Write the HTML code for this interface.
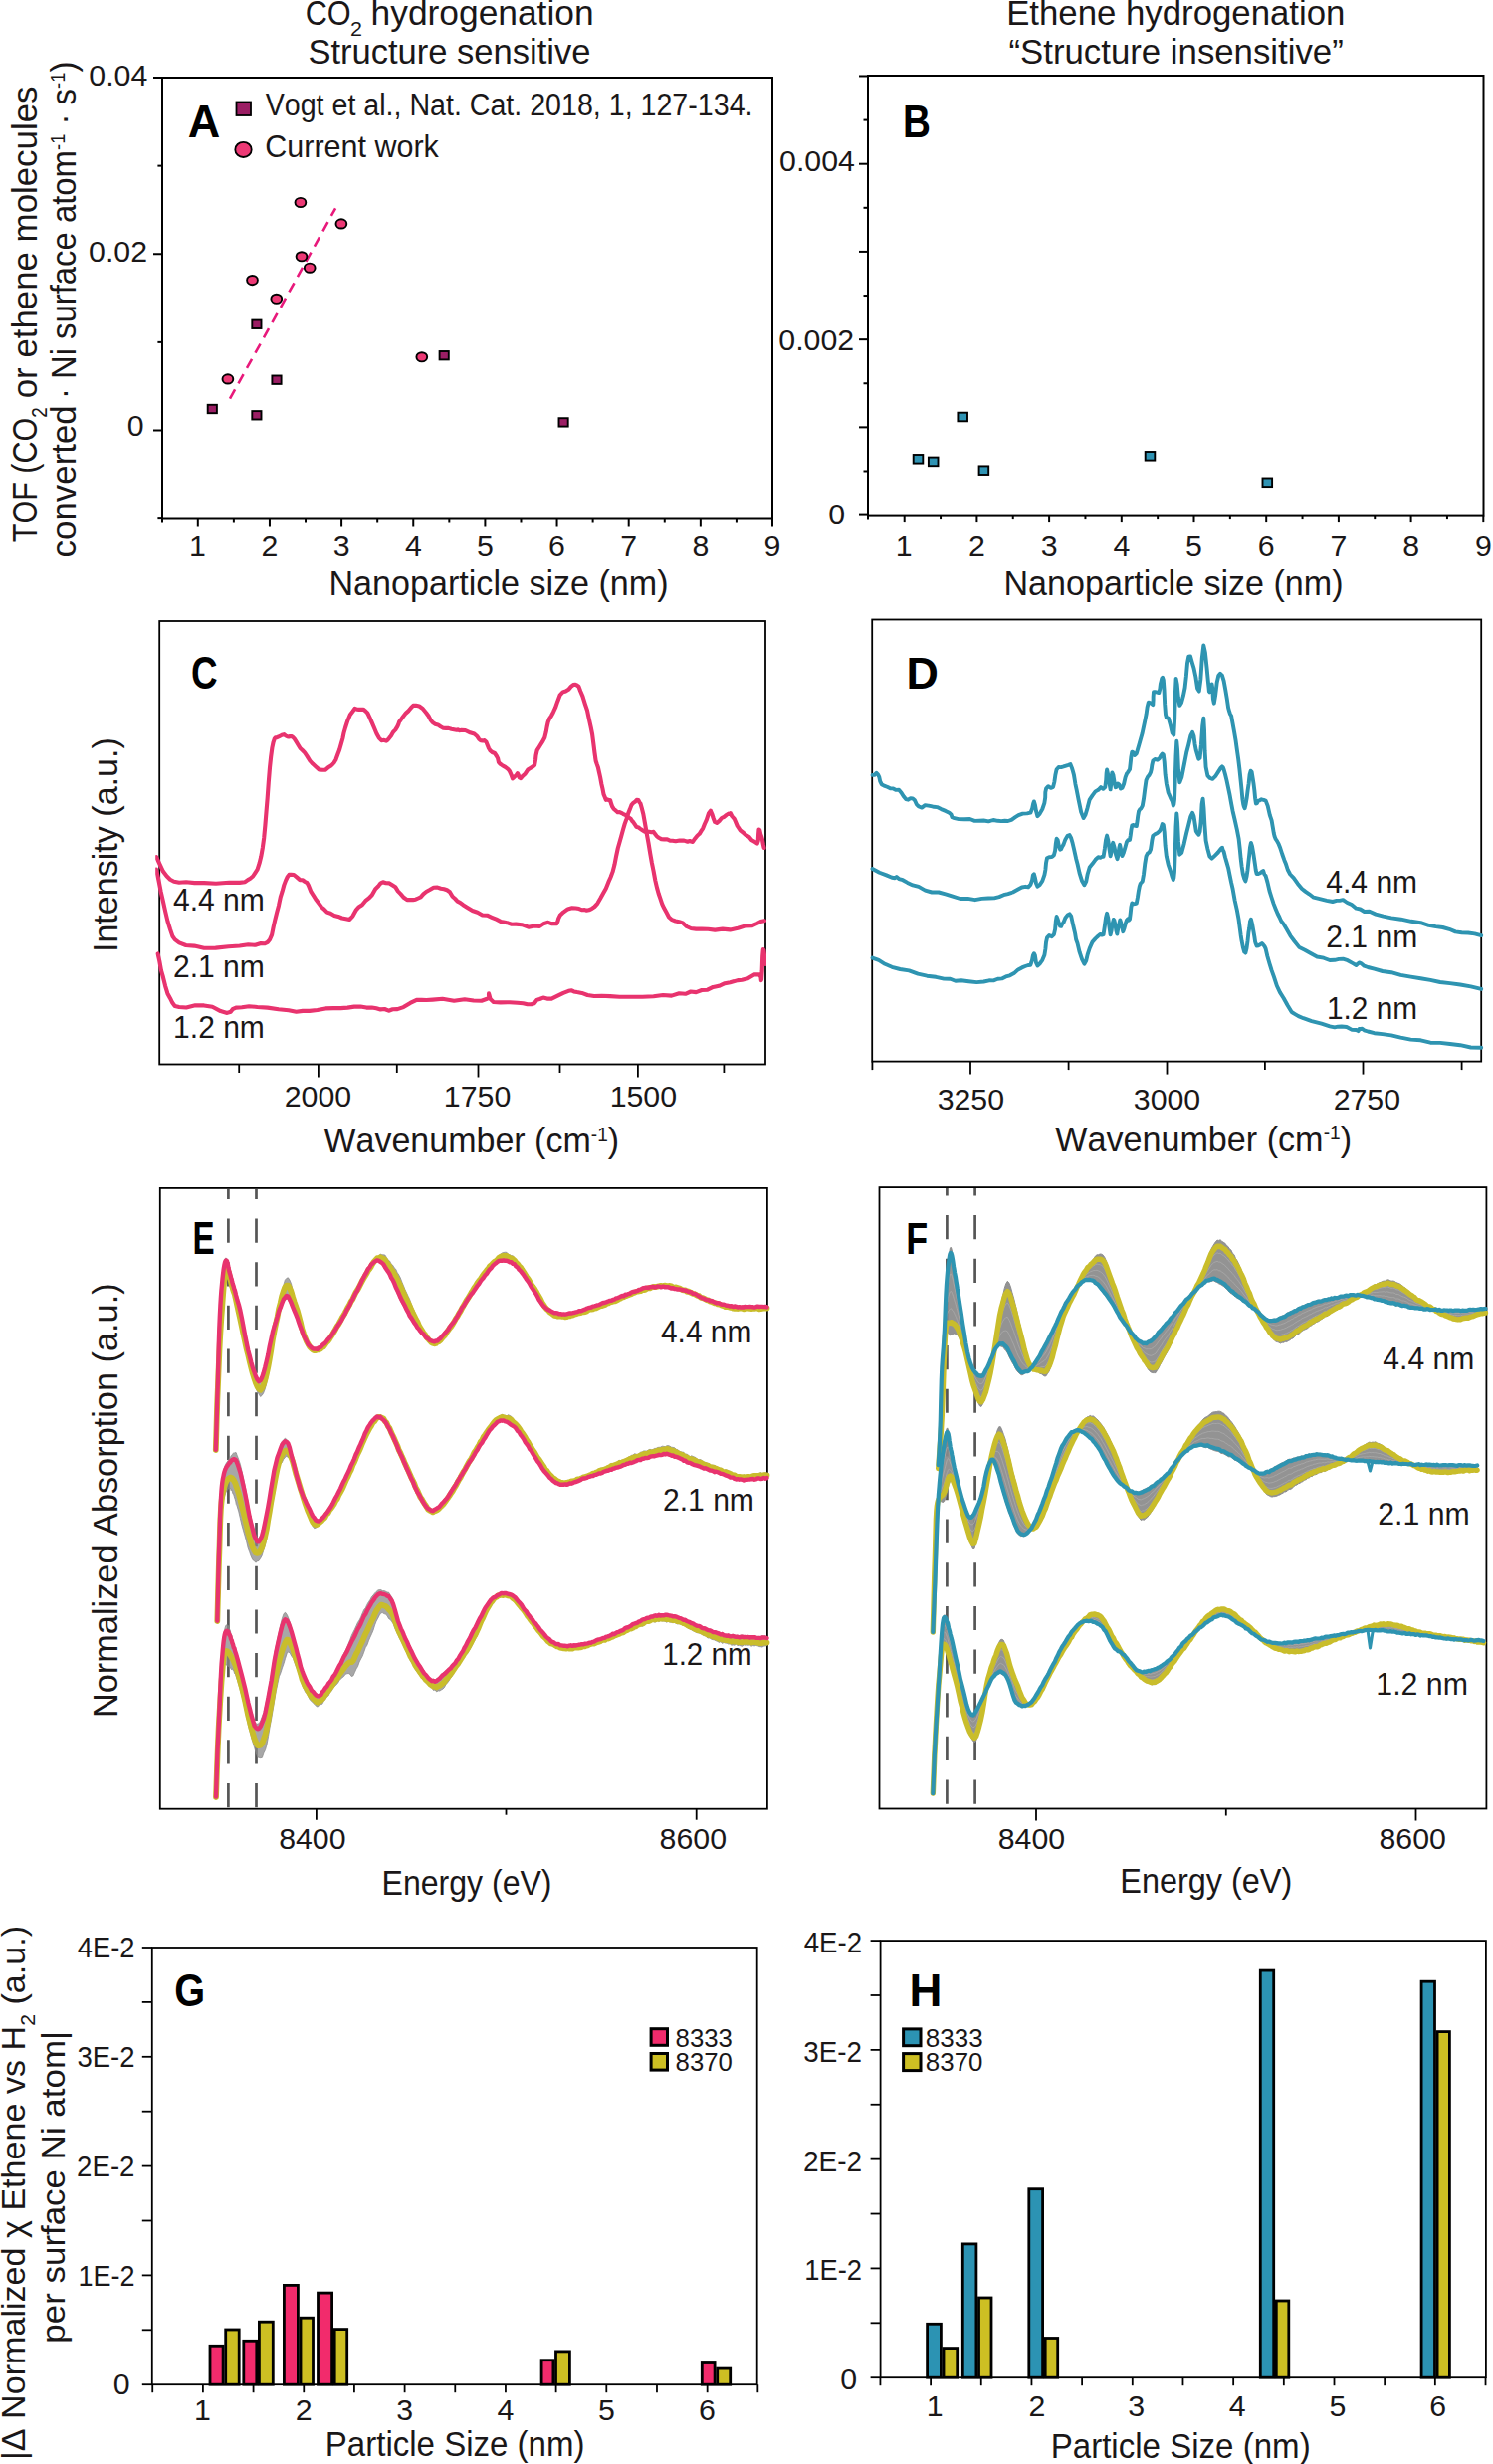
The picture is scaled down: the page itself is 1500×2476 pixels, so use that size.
<!DOCTYPE html>
<html><head><meta charset="utf-8"><style>
html,body{margin:0;padding:0;background:#fff;}
svg{display:block;}
text{font-family:"Liberation Sans",sans-serif;font-kerning:none;white-space:pre;}
</style></head><body>
<svg xml:space="preserve" width="1500" height="2476" viewBox="0 0 1500 2476">
<rect width="1500" height="2476" fill="#fff"/>
<g transform="translate(308.2,25.1) scale(0.8894,1) translate(-1.75,0)" font-weight="normal" fill="#1a1718"><text x="0" y="0" font-size="34.5">CO</text></g>
<g transform="translate(353.2,36) scale(1.0244,1) translate(-1.06,0)" font-weight="normal" fill="#1a1718"><text x="0" y="0" font-size="21">2</text></g>
<g transform="translate(375,25.1) scale(1.0250,1) translate(-2.39,0)" font-weight="normal" fill="#1a1718"><text x="0" y="0" font-size="34.5">hydrogenation</text></g>
<g transform="translate(311,64.2) scale(1.0011,1) translate(-1.57,0)" font-weight="normal" fill="#1a1718"><text x="0" y="0" font-size="34.5">Structure sensitive</text></g>
<g transform="translate(1014,25.1) scale(1.0086,1) translate(-2.83,0)" font-weight="normal" fill="#1a1718"><text x="0" y="0" font-size="34.5">Ethene hydrogenation</text></g>
<g transform="translate(1014.8,64.2) scale(1.0082,1) translate(-1.26,0)" font-weight="normal" fill="#1a1718"><text x="0" y="0" font-size="34.5">“Structure insensitive”</text></g>
<rect x="163" y="78" width="613" height="443.5" fill="none" stroke="#000" stroke-width="2"/>
<line x1="154" y1="78" x2="163" y2="78" stroke="#000" stroke-width="2"/>
<line x1="158.4" y1="166.62" x2="163" y2="166.62" stroke="#000" stroke-width="2"/>
<line x1="154" y1="255.25" x2="163" y2="255.25" stroke="#000" stroke-width="2"/>
<line x1="158.4" y1="343.88" x2="163" y2="343.88" stroke="#000" stroke-width="2"/>
<line x1="154" y1="432.5" x2="163" y2="432.5" stroke="#000" stroke-width="2"/>
<line x1="158.4" y1="521.12" x2="163" y2="521.12" stroke="#000" stroke-width="2"/>
<g transform="translate(90.5,86.2) scale(1.0000,1) translate(-1.18,0)" fill="#1a1718"><text x="0" y="0" font-size="30.3">0.04</text></g>
<g transform="translate(90.23,263.3) scale(1.0000,1) translate(-1.18,0)" fill="#1a1718"><text x="0" y="0" font-size="30.3">0.02</text></g>
<g transform="translate(129.02,437.5) scale(1.0000,1) translate(-1.18,0)" fill="#1a1718"><text x="0" y="0" font-size="30.3">0</text></g>
<line x1="198.8" y1="521.5" x2="198.8" y2="529.5" stroke="#000" stroke-width="2"/>
<line x1="234.88" y1="521.5" x2="234.88" y2="525.5" stroke="#000" stroke-width="2"/>
<line x1="270.95" y1="521.5" x2="270.95" y2="529.5" stroke="#000" stroke-width="2"/>
<line x1="307.03" y1="521.5" x2="307.03" y2="525.5" stroke="#000" stroke-width="2"/>
<line x1="343.1" y1="521.5" x2="343.1" y2="529.5" stroke="#000" stroke-width="2"/>
<line x1="379.18" y1="521.5" x2="379.18" y2="525.5" stroke="#000" stroke-width="2"/>
<line x1="415.25" y1="521.5" x2="415.25" y2="529.5" stroke="#000" stroke-width="2"/>
<line x1="451.33" y1="521.5" x2="451.33" y2="525.5" stroke="#000" stroke-width="2"/>
<line x1="487.4" y1="521.5" x2="487.4" y2="529.5" stroke="#000" stroke-width="2"/>
<line x1="523.48" y1="521.5" x2="523.48" y2="525.5" stroke="#000" stroke-width="2"/>
<line x1="559.55" y1="521.5" x2="559.55" y2="529.5" stroke="#000" stroke-width="2"/>
<line x1="595.62" y1="521.5" x2="595.62" y2="525.5" stroke="#000" stroke-width="2"/>
<line x1="631.7" y1="521.5" x2="631.7" y2="529.5" stroke="#000" stroke-width="2"/>
<line x1="667.78" y1="521.5" x2="667.78" y2="525.5" stroke="#000" stroke-width="2"/>
<line x1="703.85" y1="521.5" x2="703.85" y2="529.5" stroke="#000" stroke-width="2"/>
<line x1="739.92" y1="521.5" x2="739.92" y2="525.5" stroke="#000" stroke-width="2"/>
<line x1="776" y1="521.5" x2="776" y2="529.5" stroke="#000" stroke-width="2"/>
<line x1="163" y1="521.5" x2="163" y2="525.5" stroke="#000" stroke-width="2"/>
<g transform="translate(192.27,558.8) scale(1.0000,1) translate(-2.31,0)" fill="#1a1718"><text x="0" y="0" font-size="30.3">1</text></g>
<g transform="translate(264.05,558.8) scale(1.0000,1) translate(-1.52,0)" fill="#1a1718"><text x="0" y="0" font-size="30.3">2</text></g>
<g transform="translate(335.92,558.8) scale(1.0000,1) translate(-1.15,0)" fill="#1a1718"><text x="0" y="0" font-size="30.3">3</text></g>
<g transform="translate(407.62,558.8) scale(1.0000,1) translate(-0.7,0)" fill="#1a1718"><text x="0" y="0" font-size="30.3">4</text></g>
<g transform="translate(480.22,558.8) scale(1.0000,1) translate(-1.21,0)" fill="#1a1718"><text x="0" y="0" font-size="30.3">5</text></g>
<g transform="translate(552.56,558.8) scale(1.0000,1) translate(-1.54,0)" fill="#1a1718"><text x="0" y="0" font-size="30.3">6</text></g>
<g transform="translate(624.81,558.8) scale(1.0000,1) translate(-1.55,0)" fill="#1a1718"><text x="0" y="0" font-size="30.3">7</text></g>
<g transform="translate(696.74,558.8) scale(1.0000,1) translate(-1.32,0)" fill="#1a1718"><text x="0" y="0" font-size="30.3">8</text></g>
<g transform="translate(769,558.8) scale(1.0000,1) translate(-1.42,0)" fill="#1a1718"><text x="0" y="0" font-size="30.3">9</text></g>
<g transform="translate(333.3,598.2) scale(0.9830,1) translate(-2.85,0)" font-weight="normal" fill="#1a1718"><text x="0" y="0" font-size="34.7">Nanoparticle size (nm)</text></g>
<g transform="translate(37,544.6) rotate(-90) scale(0.8857,1) translate(-0.77,0)" font-weight="normal" fill="#1a1718"><text x="0" y="0" font-size="34.5">TOF (CO</text><text x="141.81" y="9.66" font-size="21.39">2</text></g>
<g transform="translate(37,398.8) rotate(-90) scale(1.0104,1) translate(-1.45,0)" font-weight="normal" fill="#1a1718"><text x="0" y="0" font-size="34.5">or ethene molecules</text></g>
<g transform="translate(76.3,558.9) rotate(-90) scale(1.0107,1) translate(-1.47,0)" font-weight="normal" fill="#1a1718"><text x="0" y="0" font-size="34.5">converted</text></g>
<g transform="translate(76.3,397.2) rotate(-90) scale(0.9524,1) translate(-4.09,0)" font-weight="normal" fill="#1a1718"><text x="0" y="0" font-size="34.5">· Ni surface atom</text><text x="262.66" y="-11.73" font-size="19.32">-1</text><text x="279.84" y="0" font-size="34.5"> · s</text><text x="327.75" y="-11.73" font-size="19.32">-1</text><text x="344.92" y="0" font-size="34.5">)</text></g>
<g transform="translate(189.8,138) scale(0.9739,1) translate(-1.15,0)" font-weight="bold" fill="#000"><text x="0" y="0" font-size="46.22">A</text></g>
<rect x="237.5" y="102.5" width="14.5" height="13.5" fill="#9b1e64" stroke="#000" stroke-width="1.8"/>
<ellipse cx="244.5" cy="150.4" rx="8.2" ry="7.6" fill="#ec3975" stroke="#000" stroke-width="1.8"/>
<g transform="translate(266.8,115.7) scale(0.9355,1) translate(-0.13,0)" font-weight="normal" fill="#1a1718"><text x="0" y="0" font-size="30.6">Vogt et al., Nat. Cat. 2018, 1, 127-134.</text></g>
<g transform="translate(267.8,158.3) scale(0.9975,1) translate(-1.55,0)" font-weight="normal" fill="#1a1718"><text x="0" y="0" font-size="30.6">Current work</text></g>
<line x1="231" y1="400.6" x2="337.1" y2="209.3" stroke="#e8197b" stroke-width="2.6" stroke-dasharray="10.5,7"/>
<ellipse cx="301.9" cy="203.5" rx="5.4" ry="4.6" fill="#ec3975" stroke="#000" stroke-width="1.9"/>
<ellipse cx="342.9" cy="224.9" rx="5.4" ry="4.6" fill="#ec3975" stroke="#000" stroke-width="1.9"/>
<ellipse cx="303" cy="257.8" rx="5.4" ry="4.6" fill="#ec3975" stroke="#000" stroke-width="1.9"/>
<ellipse cx="311.2" cy="269.2" rx="5.4" ry="4.6" fill="#ec3975" stroke="#000" stroke-width="1.9"/>
<ellipse cx="253.5" cy="281.6" rx="5.4" ry="4.6" fill="#ec3975" stroke="#000" stroke-width="1.9"/>
<ellipse cx="277.8" cy="300.3" rx="5.4" ry="4.6" fill="#ec3975" stroke="#000" stroke-width="1.9"/>
<ellipse cx="228.9" cy="380.9" rx="5.4" ry="4.6" fill="#ec3975" stroke="#000" stroke-width="1.9"/>
<ellipse cx="423.8" cy="358.8" rx="5.4" ry="4.6" fill="#ec3975" stroke="#000" stroke-width="1.9"/>
<rect x="253.3" y="321.6" width="9.2" height="8.4" fill="#9b1e64" stroke="#000" stroke-width="1.9"/>
<rect x="273.4" y="377.5" width="9.2" height="8.4" fill="#9b1e64" stroke="#000" stroke-width="1.9"/>
<rect x="208.7" y="406.8" width="9.2" height="8.4" fill="#9b1e64" stroke="#000" stroke-width="1.9"/>
<rect x="253.3" y="413.1" width="9.2" height="8.4" fill="#9b1e64" stroke="#000" stroke-width="1.9"/>
<rect x="441.6" y="353" width="9.2" height="8.4" fill="#9b1e64" stroke="#000" stroke-width="1.9"/>
<rect x="561.5" y="420.2" width="9.2" height="8.4" fill="#9b1e64" stroke="#000" stroke-width="1.9"/>
<rect x="872" y="76" width="618.5" height="442.6" fill="none" stroke="#000" stroke-width="2"/>
<line x1="863" y1="517.6" x2="872" y2="517.6" stroke="#000" stroke-width="2"/>
<line x1="867.5" y1="473.49" x2="872" y2="473.49" stroke="#000" stroke-width="2"/>
<line x1="863" y1="429.38" x2="872" y2="429.38" stroke="#000" stroke-width="2"/>
<line x1="867.5" y1="385.26" x2="872" y2="385.26" stroke="#000" stroke-width="2"/>
<line x1="863" y1="341.15" x2="872" y2="341.15" stroke="#000" stroke-width="2"/>
<line x1="867.5" y1="297.04" x2="872" y2="297.04" stroke="#000" stroke-width="2"/>
<line x1="863" y1="252.92" x2="872" y2="252.92" stroke="#000" stroke-width="2"/>
<line x1="867.5" y1="208.81" x2="872" y2="208.81" stroke="#000" stroke-width="2"/>
<line x1="863" y1="164.7" x2="872" y2="164.7" stroke="#000" stroke-width="2"/>
<line x1="867.5" y1="120.59" x2="872" y2="120.59" stroke="#000" stroke-width="2"/>
<line x1="863" y1="76.47" x2="872" y2="76.47" stroke="#000" stroke-width="2"/>
<line x1="908.7" y1="518.6" x2="908.7" y2="525.1" stroke="#000" stroke-width="2"/>
<line x1="945.05" y1="518.6" x2="945.05" y2="522.1" stroke="#000" stroke-width="2"/>
<line x1="981.4" y1="518.6" x2="981.4" y2="525.1" stroke="#000" stroke-width="2"/>
<line x1="1017.75" y1="518.6" x2="1017.75" y2="522.1" stroke="#000" stroke-width="2"/>
<line x1="1054.1" y1="518.6" x2="1054.1" y2="525.1" stroke="#000" stroke-width="2"/>
<line x1="1090.45" y1="518.6" x2="1090.45" y2="522.1" stroke="#000" stroke-width="2"/>
<line x1="1126.8" y1="518.6" x2="1126.8" y2="525.1" stroke="#000" stroke-width="2"/>
<line x1="1163.15" y1="518.6" x2="1163.15" y2="522.1" stroke="#000" stroke-width="2"/>
<line x1="1199.5" y1="518.6" x2="1199.5" y2="525.1" stroke="#000" stroke-width="2"/>
<line x1="1235.85" y1="518.6" x2="1235.85" y2="522.1" stroke="#000" stroke-width="2"/>
<line x1="1272.2" y1="518.6" x2="1272.2" y2="525.1" stroke="#000" stroke-width="2"/>
<line x1="1308.55" y1="518.6" x2="1308.55" y2="522.1" stroke="#000" stroke-width="2"/>
<line x1="1344.9" y1="518.6" x2="1344.9" y2="525.1" stroke="#000" stroke-width="2"/>
<line x1="1381.25" y1="518.6" x2="1381.25" y2="522.1" stroke="#000" stroke-width="2"/>
<line x1="1417.6" y1="518.6" x2="1417.6" y2="525.1" stroke="#000" stroke-width="2"/>
<line x1="1453.95" y1="518.6" x2="1453.95" y2="522.1" stroke="#000" stroke-width="2"/>
<line x1="1490.3" y1="518.6" x2="1490.3" y2="525.1" stroke="#000" stroke-width="2"/>
<line x1="872" y1="518.6" x2="872" y2="522.6" stroke="#000" stroke-width="2"/>
<g transform="translate(784.25,172.2) scale(1.0000,1) translate(-1.18,0)" fill="#1a1718"><text x="0" y="0" font-size="30.3">0.004</text></g>
<g transform="translate(783.48,351.5) scale(1.0000,1) translate(-1.18,0)" fill="#1a1718"><text x="0" y="0" font-size="30.3">0.002</text></g>
<g transform="translate(833.32,527) scale(1.0000,1) translate(-1.18,0)" fill="#1a1718"><text x="0" y="0" font-size="30.3">0</text></g>
<g transform="translate(902.17,558.8) scale(1.0000,1) translate(-2.31,0)" fill="#1a1718"><text x="0" y="0" font-size="30.3">1</text></g>
<g transform="translate(974.5,558.8) scale(1.0000,1) translate(-1.52,0)" fill="#1a1718"><text x="0" y="0" font-size="30.3">2</text></g>
<g transform="translate(1046.92,558.8) scale(1.0000,1) translate(-1.15,0)" fill="#1a1718"><text x="0" y="0" font-size="30.3">3</text></g>
<g transform="translate(1119.17,558.8) scale(1.0000,1) translate(-0.7,0)" fill="#1a1718"><text x="0" y="0" font-size="30.3">4</text></g>
<g transform="translate(1192.32,558.8) scale(1.0000,1) translate(-1.21,0)" fill="#1a1718"><text x="0" y="0" font-size="30.3">5</text></g>
<g transform="translate(1265.21,558.8) scale(1.0000,1) translate(-1.54,0)" fill="#1a1718"><text x="0" y="0" font-size="30.3">6</text></g>
<g transform="translate(1338.01,558.8) scale(1.0000,1) translate(-1.55,0)" fill="#1a1718"><text x="0" y="0" font-size="30.3">7</text></g>
<g transform="translate(1410.49,558.8) scale(1.0000,1) translate(-1.32,0)" fill="#1a1718"><text x="0" y="0" font-size="30.3">8</text></g>
<g transform="translate(1483.3,558.8) scale(1.0000,1) translate(-1.42,0)" fill="#1a1718"><text x="0" y="0" font-size="30.3">9</text></g>
<g transform="translate(1011.3,598.2) scale(0.9830,1) translate(-2.85,0)" font-weight="normal" fill="#1a1718"><text x="0" y="0" font-size="34.7">Nanoparticle size (nm)</text></g>
<g transform="translate(909.7,138.2) scale(0.8425,1) translate(-3.07,0)" font-weight="bold" fill="#000"><text x="0" y="0" font-size="45.93">B</text></g>
<rect x="917.7" y="457" width="9.6" height="8.6" fill="#2f93b3" stroke="#000" stroke-width="1.9"/>
<rect x="932.9" y="459.6" width="9.6" height="8.6" fill="#2f93b3" stroke="#000" stroke-width="1.9"/>
<rect x="962.4" y="414.7" width="9.6" height="8.6" fill="#2f93b3" stroke="#000" stroke-width="1.9"/>
<rect x="983.6" y="468.4" width="9.6" height="8.6" fill="#2f93b3" stroke="#000" stroke-width="1.9"/>
<rect x="1150.7" y="454" width="9.6" height="8.6" fill="#2f93b3" stroke="#000" stroke-width="1.9"/>
<rect x="1268.5" y="480.5" width="9.6" height="8.6" fill="#2f93b3" stroke="#000" stroke-width="1.9"/>
<rect x="160.2" y="624" width="608.8" height="445.5" fill="none" stroke="#000" stroke-width="1.8"/>
<line x1="240.2" y1="1069.5" x2="240.2" y2="1078" stroke="#000" stroke-width="1.8"/>
<line x1="319.9" y1="1069.5" x2="319.9" y2="1082.5" stroke="#000" stroke-width="1.8"/>
<line x1="398.8" y1="1069.5" x2="398.8" y2="1078" stroke="#000" stroke-width="1.8"/>
<line x1="480.5" y1="1069.5" x2="480.5" y2="1082.5" stroke="#000" stroke-width="1.8"/>
<line x1="562.5" y1="1069.5" x2="562.5" y2="1078" stroke="#000" stroke-width="1.8"/>
<line x1="640.9" y1="1069.5" x2="640.9" y2="1082.5" stroke="#000" stroke-width="1.8"/>
<line x1="727.4" y1="1069.5" x2="727.4" y2="1078" stroke="#000" stroke-width="1.8"/>
<g transform="translate(287.25,1111.7) scale(1.0000,1) translate(-1.52,0)" fill="#1a1718"><text x="0" y="0" font-size="30.3">2000</text></g>
<g transform="translate(448.14,1111.7) scale(1.0000,1) translate(-2.31,0)" fill="#1a1718"><text x="0" y="0" font-size="30.3">1750</text></g>
<g transform="translate(614.94,1111.7) scale(1.0000,1) translate(-2.31,0)" fill="#1a1718"><text x="0" y="0" font-size="30.3">1500</text></g>
<g transform="translate(325.6,1158.4) scale(0.9802,1) translate(-0.15,0)" font-weight="normal" fill="#1a1718"><text x="0" y="0" font-size="34.7">Wavenumber (cm</text><text x="273.8" y="-11.8" font-size="19.43">-1</text><text x="291.08" y="0" font-size="34.7">)</text></g>
<g transform="translate(117.9,953.9) rotate(-90) scale(0.9823,1) translate(-3.2,0)" font-weight="normal" fill="#1a1718"><text x="0" y="0" font-size="34.7">Intensity (a.u.)</text></g>
<g transform="translate(193.4,692.3) scale(0.7900,1) translate(-1.91,0)" font-weight="bold" fill="#000"><text x="0" y="0" font-size="46.66">C</text></g>
<g transform="translate(174.6,914.6) scale(0.9832,1) translate(-0.7,0)" font-weight="normal" fill="#1a1718"><text x="0" y="0" font-size="30.6">4.4 nm</text></g>
<g transform="translate(175.5,981.6) scale(0.9823,1) translate(-1.54,0)" font-weight="normal" fill="#1a1718"><text x="0" y="0" font-size="30.6">2.1 nm</text></g>
<g transform="translate(176.4,1043.2) scale(0.9809,1) translate(-2.33,0)" font-weight="normal" fill="#1a1718"><text x="0" y="0" font-size="30.6">1.2 nm</text></g>
<g clip-path="url(#clipC)">
<path d="M157.1 861.1l3.4 7.2l3.4 7.3l3.6 4.7l3.5 3.4l3.8 2l5.2 1l7 -0.4l8.4 0.8l9.6 0l12 0.7l13.3 -1l10.4 0.1l5.5 -0.7l2.8 -2.1l2.4 -1.3l2.7 -2.3l2.4 -3.7l2.1 -3.1l2 -6.3l1.7 -6.8l1.6 -9l1.3 -9.7l1.2 -12.6l1.1 -13.5l1.2 -14.2l1.1 -15.4l1.2 -14.7l1.2 -11.3l1.2 -8.8l1.2 -5.6l1.1 -3.2l1 -1.3l1.5 -0.1l2.2 -1l2.7 -1.4l2.3 -0.7l1.7 1.4l1.5 0.7l1.4 0.3l1.3 -0.5l1.3 0l1.4 0.6l1.7 1.8l1.9 3l2 3.3l2 3.3l2.2 2l2.3 2.4l2.5 3.7l2.7 4.4l2.8 3.1l3.2 2.9l3.3 2.9l3.2 0.4l2.9 0l2.7 -2.2l2.4 -1.5l2 -1.6l1.8 -2l1.8 -3l1.9 -5.2l1.9 -5.1l1.8 -6.3l1.4 -4.9l1.2 -5.8l1.5 -5.2l2.2 -6.8l2.5 -5.9l2.5 -3.3l2.2 -3.1l2.1 0.8l2.1 0.2l2.2 0l2.1 -0.2l2.2 1.7l2.1 2.1l2.1 4.3l2.2 5l2.3 5.5l2.5 5.9l2.4 4.4l2.5 2.6l2.5 -0.4l2.3 0.9l1.7 -1.4l1.5 -1.9l1.6 -1.9l2.1 -3.8l2.3 -2.3l2 -3.3l1.1 -2.5l0.8 -2.4l1.3 -1.6l2.4 -3.3l2.9 -3.7l2.8 -2.5l2.3 -2.9l2.3 -2.3l2.6 -0.2l3.4 0.8l3.7 2.7l3.3 4l2.4 3.3l2 3.9l2.1 2.7l2.6 1.6l2.7 0.7l2.7 1.9l2.7 1.5l2.6 0.1l2.7 0l2.8 0.8l2.8 0.5l2.5 0.5l1.5 -0.4l1.2 0.9l2.1 -0.4l3.9 0.2l4.9 2.3l4.1 1.2l2.6 2.2l2 3l1.8 1.5l2 0.2l1.9 -0.3l1.7 1.7l1.4 3.4l1.1 2.8l1.5 2.4l2.1 1.6l2.4 1l2 3l1.1 2.1l0.8 3.8l1.3 1.6l2.4 1.7l3 1.7l2.6 1.9l1.8 2.3l1.5 3.4l1.5 3.9l1.7 -1.7l1.7 -1.3l1.5 -2.3l1 2.1l0.9 2.3l1.3 0.6l2.1 -2.4l2.5 -2.3l2.5 -3.8l2.5 -1.5l2.4 -1.5l2 -1.7l1 -5.6l0.4 -4l1.1 -5.1l2.3 -3.7l3 -4.8l2.4 -4.5l1.4 -5.6l0.9 -5.1l1.1 -5l1.5 -3.6l1.8 -2.6l1.9 -3.6l2.1 -4.5l2.2 -6.3l2.5 -6.6l2.8 -2.9l2.9 -0.9l2.8 -1.7l2.5 -2.9l2.3 -1.8l2.1 -0.3l1.8 0.9l1.5 1l1.8 4.8l2.2 5.1l2.4 7.7l2.2 6.6l1.9 9l1.7 7.6l1.5 7.5l1.3 10l1.1 8.7l1.1 7.8l1.1 3.4l1.2 3.3l1.1 5.1l1.1 4.8l1.2 6.6l1.1 4.7l1.1 5.7l1.1 2.6l1.2 3.1l1.4 -0.4l1.5 0.7l1.4 0l1.1 4l1 2.6l1.3 2l1.8 1.6l2.2 1.9l2 -0.1l1.7 0.8l1.7 0.9l1.7 0.8l2 1.3l2.1 1.6l1.9 1.2l1.5 2.3l1.3 1.3l1.4 2.1l1.6 2.5l1.7 0.3l1.9 1.4l2.1 1.4l2.4 1.6l2.3 0l2.3 0.1l2.4 0.5l2.1 -0.3l1.7 2.3l1.6 2.2l1.9 1.3l2.6 1.4l2.9 0.3l3 0l2.7 1.2l2.7 0.1l3.1 0.6l4 -0.8l4.4 0.1l3.6 1.1l2.1 -0.7l1.4 0.5l1.6 0.4l2.2 -3.2l2.4 -3l2.2 -1.9l1.8 -2.9l1.7 -2.6l1.7 -4.3l2 -4.4l2.1 -6.4l1.9 -2.5l1.4 3.3l1.3 4l1.5 3.9l2.1 1l2.4 -2l2.4 -2.9l2.4 -1.2l2.4 -1.9l2 -1.3l1.2 0.4l0.8 -0.9l1.4 2.9l2.5 2.8l3 7.1l3 4.4l2.9 2.4l2.8 2.4l2.9 1.6l3.1 3.6l3.1 1.8l2.3 1.5l1 -3.1l0.3 -6l0.4 -5l0.8 0.6l0.9 4.1l0.9 2.3l0.8 2.9l0.9 5l0.8 3.5" fill="none" stroke="#e8336e" stroke-width="4.1" stroke-linejoin="round" stroke-linecap="round"/>
<path d="M157.1 873.6l2.3 10.7l2.2 11.4l2.3 10l2.3 10.4l2.3 9.8l2.5 8l2.3 6.8l2.4 3.4l4.3 3.2l6.8 2.7l8.5 0.6l9.7 2.2l11.6 -0.2l12.9 -1.4l11.2 -0.7l8.7 -1.3l7 0.6l5.7 -1.8l4 0.3l2.7 -1.4l2.2 -2.7l2.1 -4.8l1.6 -8l1.7 -7.5l1.8 -7.1l1.8 -6.9l1.8 -8.5l1.8 -5.7l1.7 -6.3l1.8 -4.8l1.7 -3.6l1.6 -2.1l2.1 -0.2l2.7 0.3l3.2 2.6l2.9 2.5l2.6 0.2l2.5 1.7l2.1 1.1l1.4 2.6l1.1 2.8l1.5 3.7l2.4 3.7l2.8 4.4l2.8 3.7l2.6 3.5l2.6 2.1l2.9 3l3.5 1.1l3.8 2.2l3.9 1l3.8 1.6l3.9 0.7l3.6 0.8l3.3 -3.4l3.2 -5.9l3.1 -3.5l3.2 -2l3.3 -4l3.2 -2.5l3.4 -3.4l3.4 -6.1l2.8 -2.6l1.8 -2.5l1.2 -1l1.8 -0.8l2.9 1l3.5 0.1l3.3 2.1l2.7 1.7l2.6 4.2l2.7 2.8l3.2 3.6l3.3 2.3l3.2 -0.1l2.8 0.1l2.6 -0.4l2.6 -1.2l2.5 -1.1l2.6 -3l2.9 -2.4l3.6 -2l3.9 -2.3l3.8 -0.1l3.4 1.2l3.2 0.5l3 1l2.8 1.9l2.7 4.6l2.6 2.2l2.4 2.6l2.5 1.2l3.1 2.4l4.4 2.7l5 3.1l5.1 1.7l4.9 2.8l4.8 0.2l4.7 2.1l4.5 1.9l4.3 2.2l4.1 0.9l3.6 0.8l3.4 1.2l4.3 -0.2l5.9 0.6l6.7 2.5l6.2 -1.3l5.1 0.5l4.5 -3l4 -1.1l3.4 1.3l2.9 -0.1l2.3 0.3l1.2 -2.8l0.6 -2.3l1.6 -3.4l3.4 -3.2l4.4 -3.2l4.2 -1.1l3.7 0.2l3.4 0.6l3.1 1.2l2.5 -0.2l2 0.7l2.3 -0.5l2.7 -1.2l3 -2.1l2.9 -3.2l2.9 -5l2.9 -5.3l2.7 -4.8l2.5 -6.3l2.2 -4.9l2.1 -5.6l1.9 -7.3l1.6 -8.4l1.7 -7.9l1.7 -6l1.7 -6.1l1.7 -6.2l1.7 -5.8l1.7 -4.9l1.7 -5.5l1.7 -4.2l1.7 -4.5l1.7 -2.2l1.8 -1.1l1.8 -2l1.6 0.3l1.2 2.2l1 1.2l1.2 4.3l1.6 6.2l1.7 9.3l1.8 10.5l1.7 9.3l1.7 10.4l1.7 9.7l1.7 8.1l1.7 9.3l1.7 7.3l1.7 6.1l1.6 4.6l1.9 5.7l2 4.3l2.2 4l2.6 4.9l3.1 2.7l3.5 1.3l3.7 0.8l3.7 1.1l3.8 3.6l4.4 2l5.1 0.6l5.7 -0.1l6.3 0.2l7 0.9l7.6 -1l7.6 0.8l7.8 -1.6l7.7 -2.4l6.7 -0.2l4.8 -2.2l3.8 -2l3.7 -0.7" fill="none" stroke="#e8336e" stroke-width="4.1" stroke-linejoin="round" stroke-linecap="round"/>
<path d="M158.6 958.4l1.7 7.5l1.7 9.4l1.9 6.6l2.2 8.9l2.3 7.6l2.6 4.8l2.3 4.6l2.4 3.2l4.3 1l7.2 0.5l9 -2.2l8.8 0.1l8.4 1.4l8.2 4.3l6.6 1.8l3.6 -1.2l1.9 -2.5l3.4 -1.6l5.9 -0.3l7.2 -1.1l8.4 0.8l10.1 0.6l11.2 1.6l10.1 1.1l7.6 1.5l6.5 -0.9l6.8 0l7.9 -0.9l8.3 -1.6l7.9 -0.3l7.3 0l7 -0.5l6.6 -1l6.3 -0.1l6 1.1l5.4 -0.1l4.6 0.8l4.1 1.1l4.1 -0.4l4.1 1.7l4 -1.4l4.8 -0.2l6.1 -2l6.8 -4.2l6.4 -3l5 -0.2l4.7 0.3l6.4 -0.4l9.9 -0.8l11.6 1.9l10.6 -1.4l9 1.2l7.9 0.3l5.6 -2l2 -1.3l-0.3 -2.2l0 -1.9l0.7 2.3l0.9 3.4l3.2 2.9l7 0.4l9.2 -0.2l8 0.6l5.5 0.5l4.4 1l3.8 0l3.1 -1.1l2.5 -3.3l2.9 -0.9l3.6 -1.4l3.9 1l4.5 0l5.6 -2.7l6.2 -3.1l5.2 -2l3.2 -0.5l2.2 1.1l3.2 0.7l4.8 0.8l5.7 2.1l6.6 1l7.6 -0.3l8.5 0.4l9.5 0.6l11 0.1l12 0l11.1 -0.5l9.5 -1.3l8.6 0.6l7.6 -2.3l6.3 0.5l5.3 -2.3l5.4 0.6l5.7 -2.1l5.7 -0.3l5.7 -2.8l5.9 -1.1l5.9 -2.6l5.3 -1l4.2 -1.1l3.5 -1l4.2 -0.4l5.9 -1.5l6.4 -3.8l4.8 -0.2l2 2.5l0.3 3.4l0.3 -1.2l0.6 -8.2l0.5 -14.5l0.6 -7.1l0.7 1.1l0.7 6.2l0.8 7.5" fill="none" stroke="#e8336e" stroke-width="4.1" stroke-linejoin="round" stroke-linecap="round"/>
</g>
<clipPath id="clipC"><rect x="156.2" y="624" width="613.8" height="445.5"/></clipPath>
<rect x="876.2" y="622.5" width="612" height="444.1" fill="none" stroke="#000" stroke-width="1.8"/>
<line x1="876.4" y1="1066.6" x2="876.4" y2="1075.1" stroke="#000" stroke-width="1.8"/>
<line x1="975" y1="1066.6" x2="975" y2="1079.6" stroke="#000" stroke-width="1.8"/>
<line x1="1073.6" y1="1066.6" x2="1073.6" y2="1075.1" stroke="#000" stroke-width="1.8"/>
<line x1="1172.5" y1="1066.6" x2="1172.5" y2="1079.6" stroke="#000" stroke-width="1.8"/>
<line x1="1270.9" y1="1066.6" x2="1270.9" y2="1075.1" stroke="#000" stroke-width="1.8"/>
<line x1="1369.5" y1="1066.6" x2="1369.5" y2="1079.6" stroke="#000" stroke-width="1.8"/>
<line x1="1468.6" y1="1066.6" x2="1468.6" y2="1075.1" stroke="#000" stroke-width="1.8"/>
<g transform="translate(942.82,1114.7) scale(1.0000,1) translate(-1.15,0)" fill="#1a1718"><text x="0" y="0" font-size="30.3">3250</text></g>
<g transform="translate(1139.97,1114.7) scale(1.0000,1) translate(-1.15,0)" fill="#1a1718"><text x="0" y="0" font-size="30.3">3000</text></g>
<g transform="translate(1341.15,1114.7) scale(1.0000,1) translate(-1.52,0)" fill="#1a1718"><text x="0" y="0" font-size="30.3">2750</text></g>
<g transform="translate(1060.4,1156.6) scale(0.9839,1) translate(-0.15,0)" font-weight="normal" fill="#1a1718"><text x="0" y="0" font-size="34.7">Wavenumber (cm</text><text x="273.8" y="-11.8" font-size="19.43">-1</text><text x="291.08" y="0" font-size="34.7">)</text></g>
<g transform="translate(913.5,691.8) scale(1.0016,1) translate(-2.99,0)" font-weight="bold" fill="#000"><text x="0" y="0" font-size="44.77">D</text></g>
<g transform="translate(1333,896.6) scale(0.9821,1) translate(-0.7,0)" font-weight="normal" fill="#1a1718"><text x="0" y="0" font-size="30.6">4.4 nm</text></g>
<g transform="translate(1333.8,951.9) scale(0.9823,1) translate(-1.54,0)" font-weight="normal" fill="#1a1718"><text x="0" y="0" font-size="30.6">2.1 nm</text></g>
<g transform="translate(1335.3,1024.1) scale(0.9742,1) translate(-2.33,0)" font-weight="normal" fill="#1a1718"><text x="0" y="0" font-size="30.6">1.2 nm</text></g>
<path d="M876.5 778.9l2 0l2 -2.2l1.7 1.9l1.1 2.2l0.9 4.3l1.5 3.1l2.5 1.4l3.1 1.2l3.1 1.5l3 0.1l2.9 1.5l2.8 -0.1l2.5 2.9l2.2 3.6l2.3 2.8l2.3 0.6l2.4 -1.5l2.2 0.2l2 1.8l1.8 4.1l2.3 2.2l3 1.1l3.3 -2.5l3.3 0.5l2.8 0.6l2.8 0.6l3.1 0.3l4.1 2l4.4 1.8l3.7 1.8l1.9 1.7l1 2.9l2.3 0.9l4.5 0.9l5.7 0.2l5.5 -0.3l4.8 1.9l4.5 -0.2l4.6 -0.2l4.8 0.9l4.8 -1.4l4.4 0.8l3.7 0.3l3.4 -0.3l3.3 0.2l3.4 -1.1l3.5 -2.5l3.6 -2.3l4.2 -1.5l4.4 -0.2l3.5 -0.7l1.8 -4.6l0.9 -4.5l0.8 -2.2l1 3.3l1.1 6.4l1.4 5.1l2.3 -2.6l2.6 -4.6l2.1 -6.2l0.8 -5.4l0.1 -5.2l0.8 -3.9l2.1 -2.1l2.6 1.7l2.3 -1l1.3 -5.3l0.9 -6.4l1.3 -6l2 -2.2l2.5 0.1l2.4 -0.7l2.5 -0.8l2.4 -0.7l2.1 -0.8l1.5 3.8l1 3.3l1 3.9l0.8 4.9l0.6 3.8l1.2 5.6l2 10.3l2.6 12.4l2.4 6l2 -3.6l1.9 -6.4l2.2 -8.5l2.8 -4.2l3 -4l2.9 -1.6l2.6 -2.7l2.4 1.7l1.9 -1.7l0.9 -7l0.4 -7.1l0.5 -3.6l1.1 5.1l1.3 8.1l1.1 6.8l0.6 -4.9l0.5 -7l0.6 -5.1l1.1 2.4l1.3 8.1l1.1 4.3l0.7 -0.3l0.6 -1.8l0.9 -1.6l1.3 0.8l1.6 4.3l1.6 -0.9l1.6 -4l1.5 -6.6l1.4 -3.6l1.1 -1.4l1 -1.6l0.9 -1.3l0.7 -6.2l0.7 -6.5l0.9 -4.8l1.2 0.4l1.4 2.9l1.9 -1.7l2.6 -9.1l3.1 -10.9l2.5 -11.6l1.6 -8l1 -7.2l1.2 -4.8l1.6 0.4l1.7 0.9l1.2 1.2l0.3 -5.1l0 -3l0.4 -5l1.5 0l2.1 0.5l1.7 0.5l1 -3.8l0.6 -5l0.6 -2.4l0.8 -3.4l0.7 -0.8l0.8 2.6l0.7 9.4l0.7 15.2l0.8 10.1l0.9 3.3l0.9 -0.1l1.2 0.5l1.7 6.2l2 8.7l1.6 2l0.9 -16.4l0.6 -24.3l0.8 -16l1.1 5.8l1.2 13.4l1.4 7.8l1.7 -2.6l1.9 -7l1.7 -8.3l1.3 -11.8l1.1 -12.9l1.3 -6.6l1.7 -0.3l1.8 6.3l1.8 6.1l1.8 8.6l1.7 11.4l1.7 2.8l1.6 -12.4l1.4 -21.2l1.5 -12.6l1.6 7.3l1.6 14.8l1.3 13.8l0.7 6.4l0.4 4l0.4 0.7l0.7 -1.4l0.8 -5.2l0.8 -1.3l0.7 4.5l0.6 10.4l0.9 4.3l1.3 -7.8l1.6 -13.1l1.6 -7l1.7 -2l1.9 1.9l1.7 5.5l1.6 8.7l1.5 8.9l1.4 9.4l1.1 4l0.8 2.3l1.1 1.7l1.4 7.6l1.6 8.9l1.5 8.7l1.3 9.5l1.3 9.2l1.2 9.8l1.1 10.6l1 9.9l0.9 9.9l0.8 4.9l0.6 2.2l0.8 1.9l0.9 -3.7l1.1 -6.4l1 -8l1 -6.7l1 -9.2l1 -3.6l1 0.9l1.1 6.6l0.9 6.1l0.8 6.4l0.7 7.5l0.8 5.3l1 -0.4l1.2 -2.5l1.5 -0.3l1.8 -1l2.1 0.5l2.1 0.7l2.1 5.4l2.1 9.2l1.8 5.3l1.2 7l0.9 5.4l0.9 3.8l1.1 2.6l1.2 1.6l1.5 2.8l1.8 4.4l2.1 6.5l2 5.7l1.7 4.1l1.8 5.7l2.4 4.5l3.5 3.6l4.1 5.8l4.2 5.1l3.7 2.9l3.6 2.4l4.5 3.4l6.1 1.4l7 1.7l6 1.2l4 -1.1l3 0l3.4 -0.7l4.2 2.8l4.5 2.1l4.5 3.6l4.1 0.8l4.1 2.5l5.1 -0.2l6.4 2.8l7.5 2l8.2 1.8l9.6 1.3l10.3 2.1l9.6 1.4l8 2.7l7.2 1.2l6.9 0.9l6.6 1.8l6.2 2.6l6.3 0.9l6.5 0.2l6.5 0.9l6.6 1.7" fill="none" stroke="#2e94b1" stroke-width="3.9" stroke-linejoin="round" stroke-linecap="round"/>
<path d="M876.5 873l7 3.7l7 2.7l5.6 2.4l3 0.4l1.6 -1.1l2.4 2l3.9 1.1l4.7 2.7l5.3 2.5l5.9 1.5l6.6 3.7l6.7 1.9l6.8 0l6.9 1.9l7.2 2.2l7.5 2.4l7.8 -0.1l7.3 1.3l6.8 -1.3l6.5 -0.4l5.9 -0.1l5 -1.3l4.5 -1.9l4.4 -1.1l4.8 -1.6l4.9 -2.7l4.2 -2.3l3.5 -0.7l2.9 0.6l2.3 -2.5l1.6 -4.4l0.9 -5.1l1 -1.1l1 3.6l1.1 5.6l1.4 3.1l2.2 -1.5l2.7 -3.9l2.1 -6l1 -5.4l0.6 -6.6l1 -5l2.1 -1l2.7 -0.1l2.1 -1.9l1.2 -4.4l0.7 -7l0.8 -5l1.1 1.2l1.2 6.4l1.2 3.3l1 -0.4l1.1 -2.6l1.3 -2.1l1.9 -5.2l2.2 -3.6l2 -0.7l1.6 3.1l1.5 5.4l1.3 5.5l1.1 5l1 4.6l1.4 5.3l2.1 9.4l2.5 7.9l2.3 3.9l1.8 -3.3l1.5 -7.7l2 -6.7l2.8 -3.4l3.1 -4.3l2.8 -2.6l2.1 0.6l1.6 -1l1.5 0l1.3 -8.2l1.1 -8.4l1.1 -4.6l1.2 4.9l1.2 8.5l1.1 7.2l0.9 -3.4l0.7 -7l1 -3l1.4 4.8l1.5 7.3l1.4 4.3l1 -3.9l0.8 -7.2l0.8 -3.3l0.7 3.4l0.8 3.9l0.9 3.9l1.4 -3.2l1.6 -5.5l1.5 -5.5l1.1 -1.5l1 -0.1l0.9 -0.3l0.7 -4.2l0.7 -5.5l0.9 -4.9l1.4 -0.3l1.7 0.9l1.4 0.2l0.8 -5.2l0.6 -4.9l0.8 -4.7l1.2 -2l1.3 -1.1l1.3 -2.5l1.2 -7l1.2 -9.5l1.3 -9.2l1.5 -3.3l1.6 -1.8l1.4 -2.8l0.8 -3.4l0.5 -3.7l1 -4.4l2 -1.6l2.5 0.7l2.2 -1.8l1.5 -3l1.2 -1.4l1.1 0.9l0.9 7.1l0.9 12.8l1.2 9.3l1.9 8.9l2.3 5.3l1.8 3.7l1 4.1l0.6 -1.4l0.6 -4.8l0.7 -19.5l0.8 -24.1l0.8 -15l0.8 9l0.9 20.2l1.3 12.3l2 -5.3l2.5 -12.5l2.3 -11.9l2.1 -8.2l2.1 -9l1.8 -3.6l1.4 3.9l1.1 8.4l1.2 6.2l1.3 4.4l1.2 4.1l1.3 -1.1l1.3 -13.2l1.3 -18.7l1.1 -8.1l0.7 11.4l0.6 21.6l1 16.2l1.8 8.7l2.4 2.4l2.5 0.9l2.8 -2.7l3.1 -4.8l2.4 -3.8l1.3 -1.3l0.8 0.8l0.9 2.2l1.4 5l1.5 6.1l1.6 7.4l1.4 6.7l1.5 8.4l1.6 8.3l2 8.6l2.2 9.8l1.8 9.3l1.2 10.8l0.9 9.4l0.9 7.4l1.2 7.6l1.4 4.9l1.2 2.4l1.1 -4.5l1 -6.6l0.9 -8.4l0.8 -6.8l0.8 -7.8l0.9 -4.4l1.1 3.5l1.3 7.4l1.1 7.2l0.7 4.8l0.6 4.4l0.9 3.8l1.6 0.1l1.9 -0.9l1.8 -1.5l1.3 -0.6l1.1 3.4l1.3 1.5l1.8 6.4l2.1 9l2.1 6.6l2 6.1l2 5.1l2 4.8l1.8 3.5l1.8 4l2.4 3l3.1 5.2l3.7 6.6l4.2 5.7l4.9 6.1l5.5 2.7l5.8 3.2l6.4 3.5l6.7 1.2l6.1 2.3l4.9 -0.2l4.2 -0.9l4.2 -0.2l4.7 1.5l4.8 2.7l3.7 2.1l2 -1.7l1 -0.9l1.4 0.4l1.6 1.2l2 1.7l3.8 1.3l6.4 1.7l8.3 2.3l8.9 1.2l9.4 2.7l10.1 1.7l10 1.6l9.7 1.6l9.8 2.2l9.9 1.1l10.3 1.4l10.6 1.9l10.5 2.5" fill="none" stroke="#2e94b1" stroke-width="3.9" stroke-linejoin="round" stroke-linecap="round"/>
<path d="M876.5 962.6l6.3 2.2l6.3 4l7 3l8.2 2.2l9 1.4l8.9 3.3l9.1 2l9 1.1l8.1 1.8l6.3 0.2l5.2 2l5.9 -0.6l7.5 1l8 0.9l7.1 -0.6l5.4 -1.2l4.4 0.1l4.2 -1.6l4.2 -0.4l4 -2l4 -1.1l4.2 -2.2l4.1 -3.7l3.8 -2l3.3 -1.4l3 -1l2.4 -0.3l1.6 -4.8l0.9 -4.8l1 -1.9l1 2l1.1 7.3l1.4 3l2.2 -2l2.7 -3.7l2.1 -5l1 -6.3l0.6 -6.5l1 -4.6l2.1 -2.4l2.7 1.2l2.1 -2.1l1.2 -5.2l0.7 -8.1l0.8 -4.8l1.1 2.7l1.2 4.2l1.2 2.8l1 0.2l1.1 -2.5l1.3 -1.4l1.9 -4.8l2.2 -2.7l2 -1.2l1.6 2.4l1.5 6.9l1.3 5.6l1.1 4.7l1 6.1l1.4 3.9l2.1 8.8l2.5 7.5l2.3 4.5l1.8 -3.2l1.5 -6.4l2 -6.1l2.8 -6.4l3.1 -3.5l2.8 -2.6l2.1 -1.6l1.6 0.7l1.5 -0.4l1.3 -8.8l1.1 -8.2l1.1 -4.4l1.2 5l1.2 8.6l1.1 7.8l1 -3.9l0.8 -5.8l0.8 -3.3l0.6 -2.2l0.6 0.7l0.6 2.4l0.7 3.4l0.8 5.1l0.8 3l0.9 -5.2l1.1 -4.6l1 -4.3l1 2.8l0.9 4.2l1.1 4.7l1.2 -3.4l1.3 -4.9l1.2 -3.4l1.1 -1.2l1 1.4l0.9 -1.2l0.7 -5.6l0.7 -6.4l0.9 -4l1.4 0.7l1.6 -0.1l1.5 -0.4l1.1 -5.8l1 -6.6l0.9 -4.7l1 -2.9l0.9 -1l1.1 -1.3l1.2 -6.8l1.2 -10.2l1.3 -8l1.5 -3l1.6 -0.8l1.4 -3l0.8 -5.2l0.5 -3.7l1 -5l2 -1.5l2.5 -1.3l2.2 -1.8l1.5 -3.1l1.2 -4l1.1 1l0.9 7l0.9 13.8l1.2 10.6l1.9 8.4l2.3 6.7l1.8 6.1l1 2.5l0.6 -2.2l0.6 -6.2l0.7 -19.7l0.8 -25.2l0.8 -13.3l0.8 9.2l0.9 19.2l1.3 12.8l2 -1.9l2.5 -9.4l2.3 -10.2l2.1 -8.3l2.1 -8.3l1.8 -3.8l1.4 3.5l1.1 7.1l1.2 7.7l1.3 2.1l1.3 1.6l1.2 -3.2l1.1 -10.8l0.9 -16.6l1 -5.6l0.9 9.7l0.9 16.4l1.2 15.9l1.7 8.1l2 7.6l2.3 2.4l3 -2.9l3.3 -3.3l2.7 -3.5l1.4 -1.3l0.7 2.5l0.9 1.6l1.4 5.7l1.5 5.1l1.6 5.6l1.4 6.9l1.5 7.3l1.6 6.9l2 11.3l2.2 9.8l1.8 9.8l1.2 9l0.9 6.9l0.9 5.6l1.2 5.9l1.4 5l1.2 1l1.1 -4.5l1 -7.3l0.9 -8.7l0.8 -4.5l0.8 -6.9l0.9 -2l1.1 4.5l1.3 7.1l1.1 6.3l0.7 4.9l0.6 1.8l0.9 2.3l1.6 -0.3l1.9 -1.1l1.8 -1.2l1.3 1.4l1.1 1.3l1.3 2.7l1.7 7.4l2 6.9l2.3 7.4l2.5 7l2.7 8.4l3.1 6.6l3.7 5.9l4 7.3l4.1 6.7l3.4 2.1l3.4 2l5 2.1l8.3 2.9l9.9 2.6l8.3 2.7l4.9 1l3.3 -0.7l3.6 -0.2l5.1 0.5l5.4 2.9l4.2 0.1l2.1 1.1l1 -2.2l1.3 0.1l1.6 -0.2l2 1.5l3.8 1.2l6.4 1.7l8.3 0.9l8.9 1.3l9.4 2.3l10.1 1.9l10 0.7l9.7 2.4l9.8 0.2l9.9 1.1l10.3 1.2l10.6 2.3l10.5 0.3" fill="none" stroke="#2e94b1" stroke-width="3.9" stroke-linejoin="round" stroke-linecap="round"/>
<rect x="160.8" y="1193.9" width="610.1" height="623.8" fill="none" stroke="#000" stroke-width="1.8"/>
<line x1="317.9" y1="1817.7" x2="317.9" y2="1828.7" stroke="#000" stroke-width="1.8"/>
<line x1="508.5" y1="1817.7" x2="508.5" y2="1823.7" stroke="#000" stroke-width="1.8"/>
<line x1="699.7" y1="1817.7" x2="699.7" y2="1828.7" stroke="#000" stroke-width="1.8"/>
<g transform="translate(281.45,1857.6) scale(1.0000,1) translate(-1.32,0)" fill="#1a1718"><text x="0" y="0" font-size="30.3">8400</text></g>
<g transform="translate(663.9,1857.6) scale(1.0000,1) translate(-1.32,0)" fill="#1a1718"><text x="0" y="0" font-size="30.3">8600</text></g>
<g transform="translate(386.2,1904) scale(0.9237,1) translate(-2.85,0)" font-weight="normal" fill="#1a1718"><text x="0" y="0" font-size="34.7">Energy (eV)</text></g>
<g transform="translate(117.5,1723.2) rotate(-90) scale(0.9889,1) translate(-2.85,0)" font-weight="normal" fill="#1a1718"><text x="0" y="0" font-size="34.7">Normalized Absorption (a.u.)</text></g>
<g transform="translate(195.8,1260.1) scale(0.7287,1) translate(-3.04,0)" font-weight="bold" fill="#000"><text x="0" y="0" font-size="45.49">E</text></g>
<g transform="translate(664.7,1348.6) scale(0.9755,1) translate(-0.7,0)" font-weight="normal" fill="#1a1718"><text x="0" y="0" font-size="30.6">4.4 nm</text></g>
<g transform="translate(667.5,1517.5) scale(0.9834,1) translate(-1.54,0)" font-weight="normal" fill="#1a1718"><text x="0" y="0" font-size="30.6">2.1 nm</text></g>
<g transform="translate(667.5,1673.2) scale(0.9652,1) translate(-2.33,0)" font-weight="normal" fill="#1a1718"><text x="0" y="0" font-size="30.6">1.2 nm</text></g>
<line x1="229.4" y1="1194.9" x2="229.4" y2="1816.7" stroke="#555555" stroke-width="2.7" stroke-dasharray="24.2,19.45" stroke-dashoffset="14"/>
<line x1="257.5" y1="1194.9" x2="257.5" y2="1816.7" stroke="#555555" stroke-width="2.7" stroke-dasharray="24.2,19.45" stroke-dashoffset="14"/>
<path d="M216.8 1456.9l0.5 -17.3l0.5 -17.1l0.5 -17.7l0.6 -19.9l0.5 -22.9l0.5 -20.8l0.5 -16l0.5 -11.7l0.5 -9.6l0.5 -8.2l0.5 -6.9l0.6 -5.7l0.5 -4.8l0.5 -4l0.5 -3.2l0.5 -2.6l0.5 -2l0.5 -1.4l0.5 -0.8l0.6 -0.4l0.5 0.5l0.5 1.4l0.5 2.1l0.5 2.3l0.5 3l0.5 2.2l0.5 2.1l0.6 1.5l0.5 2.1l0.5 1.6l0.5 1.1l0.5 2.7l0.5 2.1l0.5 1.2l0.5 1.5l0.6 2.8l0.5 0.8l0.5 1.8l0.5 2.5l1.5 5.1l1.6 4.4l1.5 5.8l1.6 7.9l1.5 8.1l1.6 9.3l1.5 7.3l1.6 8.1l1.5 5.6l1.6 6.4l1.5 5.3l1.6 4.1l1.5 4.3l1.6 3.3l1.5 1.7l1.6 -1.7l1.5 -3l1.5 -4.8l1.6 -6.2l1.5 -6.3l1.6 -6.7l1.5 -8.1l1.6 -6.5l1.5 -6.1l1.6 -4.9l1.5 -3.7l1.6 -4.7l1.5 -4.8l1.6 -3.1l1.5 -3.3l1.6 -3.8l1.5 -1.3l1.5 -2l1.6 1l1.5 3.1l1.6 3.3l1.5 3.7l1.6 3.4l1.5 3.4l1.6 3.9l1.5 4.2l1.6 3.9l1.5 3l1.6 4.6l1.5 2.5l1.6 2.6l1.5 3.6l1.6 1.3l1.5 1.3l1.5 1.3l1.6 0l1.5 0l1.6 0.7l1.5 -2.1l1.6 -0.2l1.5 -1.5l1.6 -1.8l1.5 -0.6l1.6 -1.8l1.5 -2.5l1.6 -1.3l1.5 -1.6l1.6 -2.3l1.5 -2.4l1.6 -2.2l1.5 -2.4l1.5 -2.5l1.6 -1.7l1.5 -2.7l1.6 -3.2l1.5 -2.3l1.6 -3.8l1.5 -2.3l1.6 -2.8l1.5 -3.6l1.6 -2.8l1.5 -2.9l1.6 -3.3l1.5 -2.1l1.6 -3.9l1.5 -2.9l1.6 -3.9l1.5 -2.5l1.5 -3.3l1.6 -2.4l1.5 -3.6l1.6 -1.4l1.5 -2.9l1.6 -0.7l1.5 -1.3l1.6 -0.9l1.5 -0.2l1.6 0.6l1.5 1.6l1.6 1.1l1.5 1.7l1.6 3.2l1.5 2.4l1.5 2l1.6 2.8l1.5 3.6l1.6 2.7l1.5 3.1l1.6 4.8l1.5 2.8l1.6 3.9l1.5 3.7l1.6 2.9l1.5 2.6l1.6 2.9l1.5 3.4l1.6 2.4l1.5 3.8l1.6 1.6l1.5 2.2l1.5 2.3l1.6 1.8l1.5 2.8l1.6 0.8l1.5 2.1l1.6 1.8l1.5 0.5l1.6 2.3l1.5 1.4l1.6 0.3l1.5 1.8l1.6 0.1l1.5 0.3l1.6 0.7l1.5 -1.3l1.6 0.5l1.5 -2l1.5 -0.9l1.6 -2.1l1.5 -1.4l1.6 -2.1l1.5 -1.1l1.6 -1.5l1.5 -3l1.6 -2.2l1.5 -1.5l1.6 -1.8l1.5 -2.4l1.6 -2.8l1.5 -2.7l1.6 -2.8l1.5 -3.1l1.5 -1.2l1.6 -2.7l1.5 -2.3l1.6 -2.9l1.5 -1.9l1.6 -1.8l1.5 -1.3l1.6 -2.5l1.5 -2.1l1.6 -2.3l1.5 -1.7l1.6 -2.9l1.5 -1.8l1.6 -1.6l1.5 -2.6l1.6 -1.1l1.5 -3l1.5 -1.5l1.6 -1.5l1.5 -2.4l1.6 -1.4l1.5 -1.3l1.6 -1.3l1.5 -0.7l1.6 -0.1l1.5 0.4l1.6 -0.4l1.5 0.6l1.6 -0.2l1.5 0.3l1.6 1.2l1.5 -0.4l1.6 2.1l1.5 0l1.5 2.1l1.6 1l1.5 2.2l1.6 1.5l1.5 1.9l1.6 2l1.5 2.1l1.6 2.6l1.5 2l1.6 2.4l1.5 2.9l1.6 2.2l1.5 2.4l1.6 2.1l1.5 2.6l1.6 3.8l1.5 1.6l1.5 2l1.6 1.9l1.5 1.1l1.6 1.3l1.5 0.7l1.6 0.6l1.5 0.6l1.6 1.1l1.5 0.5l1.6 -0.3l1.5 0.1l1.6 1.4l1.5 -0.5l1.6 0.8l1.5 -0.5l1.5 0.3l1.6 -0.4l1.5 -0.4l1.6 -0.4l1.5 0.2l1.6 -0.4l1.5 -0.2l1.6 -0.5l1.5 -0.2l1.6 -1l1.5 0.2l1.6 -0.3l1.5 -1l1.6 -0.6l1.5 -0.9l1.6 -0.5l1.5 -0.2l1.5 -0.4l1.6 -1.1l1.5 -0.2l1.6 -0.4l1.5 -0.4l1.6 -0.2l1.5 -0.9l1.6 -1.1l1.5 -0.4l1.6 -0.4l1.5 -0.2l1.6 -0.7l1.5 -0.5l1.6 0.1l1.5 -1l1.6 -0.3l1.5 -1.5l1.5 0.1l1.6 -0.7l1.5 -0.8l1.6 -0.7l1.5 0.3l1.6 -1.5l1.5 0.4l1.6 -1.2l1.5 0.1l1.6 -1.7l1.5 -0.3l1.6 -0.2l1.5 -0.2l1.6 -0.7l1.5 -1.2l1.5 -0.3l1.6 -0.7l1.5 -0.9l1.6 -0.3l1.5 0.1l1.6 0.7l1.5 -1.2l1.6 0.4l1.5 -0.6l1.6 1l1.5 -0.2l1.6 -0.9l1.5 0.2l1.6 1.1l1.5 -0.9l1.6 0.1l1.5 0.9l1.5 -0.5l1.6 0.2l1.5 1.1l1.6 0.6l1.5 -1l1.6 1.1l1.5 0.2l1.6 0.5l1.5 -0.4l1.6 0.2l1.5 0.5l1.6 -0.1l1.5 0.6l1.6 -0.2l1.5 1.6l1.6 -0.1l1.5 0.1l1.5 1.6l1.6 -0.1l1.5 0.5l1.6 1.4l1.5 1.2l1.6 0.4l1.5 1.1l1.6 0.3l1.5 1.1l1.6 0.1l1.5 0.1l1.6 1.2l1.5 -0.5l1.6 0.8l1.5 0.7l1.6 1.1l1.5 -0.6l1.5 0.4l1.6 0.9l1.5 0.5l1.6 -0.2l1.5 0.4l1.6 0.8l1.5 0.1l1.6 0.7l1.5 -0.5l1.6 0.8l1.5 -0.8l1.6 0.6l1.5 0.7l1.6 -0.3l1.5 0.5l1.5 -0.4l1.6 0.1l1.5 -0.8l1.6 0.5l1.5 -0.1l1.6 -0.3l1.5 0.2l1.6 0.3l1.5 0.4l1.6 -0.4l1.5 -0.6l1.6 0.1l1.5 0l1.6 0l1.5 0.2l1.6 -0.1l1.5 0.6l0 2.5l-1.5 0.2l-1.6 0.2l-1.5 0.3l-1.6 0.4l-1.5 0.4l-1.6 -1.1l-1.5 -0.5l-1.6 0.2l-1.5 0.4l-1.6 0.3l-1.5 0l-1.6 -0.6l-1.5 -0.3l-1.6 1.4l-1.5 -0.3l-1.6 -0.9l-1.5 -0.2l-1.5 0.2l-1.6 0.4l-1.5 -0.2l-1.6 0.7l-1.5 -0.8l-1.6 -0.9l-1.5 -0.2l-1.6 -0.4l-1.5 -0.5l-1.6 0.9l-1.5 -1.5l-1.6 -0.5l-1.5 -0.7l-1.6 -0.6l-1.5 -0.1l-1.5 -1.9l-1.6 0.7l-1.5 -0.6l-1.6 -0.9l-1.5 -0.5l-1.6 -1.2l-1.5 -0.2l-1.6 -1.4l-1.5 -0.4l-1.6 -1l-1.5 0.2l-1.6 -2.2l-1.5 0.3l-1.6 -0.5l-1.5 -1.3l-1.6 -0.6l-1.5 0l-1.5 -1.3l-1.6 -1.4l-1.5 1.3l-1.6 -2.2l-1.5 0.2l-1.6 -0.4l-1.5 -1.1l-1.6 -1l-1.5 -1l-1.6 -0.6l-1.5 0.4l-1.6 0.3l-1.5 -2.1l-1.6 -0.3l-1.5 0.9l-1.6 0.1l-1.5 -0.9l-1.5 0.6l-1.6 0.8l-1.5 -1.3l-1.6 1.2l-1.5 0.8l-1.6 0.1l-1.5 -0.2l-1.6 0.8l-1.5 0.3l-1.6 1.6l-1.5 -1l-1.6 1.3l-1.5 1.7l-1.6 0.2l-1.5 -0.4l-1.6 1.2l-1.5 0.1l-1.5 -0.1l-1.6 0l-1.5 1.3l-1.6 0.2l-1.5 1.5l-1.6 -0.3l-1.5 1.1l-1.6 0.5l-1.5 0.7l-1.6 0.8l-1.5 0.4l-1.6 1.2l-1.5 0.7l-1.6 0.9l-1.5 1.3l-1.5 -0.1l-1.6 0.3l-1.5 0.1l-1.6 0.7l-1.5 1.1l-1.6 0.3l-1.5 1.7l-1.6 0.6l-1.5 0.6l-1.6 -0.4l-1.5 0.5l-1.6 1.1l-1.5 1l-1.6 0.3l-1.5 1l-1.6 -0.3l-1.5 -0.3l-1.5 0.9l-1.6 1.7l-1.5 0.4l-1.6 0l-1.5 -0.5l-1.6 1.1l-1.5 0.3l-1.6 0.2l-1.5 0.9l-1.6 0l-1.5 1.4l-1.6 -0.3l-1.5 1.6l-1.6 -0.2l-1.5 0.9l-1.6 0.1l-1.5 -0.9l-1.5 0l-1.6 -0.1l-1.5 -0.3l-1.6 0.9l-1.5 -0.9l-1.6 -0.5l-1.5 -1.8l-1.6 -1l-1.5 -1.3l-1.6 -2.7l-1.5 -1.5l-1.6 -2l-1.5 -3.2l-1.6 -2.3l-1.5 -4l-1.5 -3.2l-1.6 -2l-1.5 -2.9l-1.6 -3l-1.5 -1.4l-1.6 -2.6l-1.5 -2.5l-1.6 -2.9l-1.5 -1.7l-1.6 -2.6l-1.5 -2.6l-1.6 -2.5l-1.5 -2.7l-1.6 -1.5l-1.5 -1.9l-1.6 -1.9l-1.5 -2l-1.5 -2l-1.6 0l-1.5 -1.1l-1.6 -0.5l-1.5 -1.8l-1.6 -0.2l-1.5 0.3l-1.6 0.4l-1.5 1.2l-1.6 1.4l-1.5 2.3l-1.6 1.6l-1.5 0.5l-1.6 1.6l-1.5 1.5l-1.6 1l-1.5 3.2l-1.5 0.8l-1.6 2.5l-1.5 1.7l-1.6 2.6l-1.5 2.6l-1.6 1.3l-1.5 2.2l-1.6 3.3l-1.5 1.7l-1.6 3l-1.5 2.9l-1.6 3.4l-1.5 2.9l-1.6 1.9l-1.5 2.8l-1.6 2.8l-1.5 3.3l-1.5 2.8l-1.6 2.4l-1.5 2.8l-1.6 1.9l-1.5 2.9l-1.6 3.3l-1.5 2.8l-1.6 1.6l-1.5 1.5l-1.6 2.9l-1.5 3.2l-1.6 1.6l-1.5 1.7l-1.6 1.9l-1.5 1.6l-1.5 -0.3l-1.6 2.4l-1.5 -0.4l-1.6 -0.3l-1.5 -1.2l-1.6 -2.5l-1.5 -1.5l-1.6 -2.7l-1.5 -3.1l-1.6 -1.5l-1.5 -3.8l-1.6 -2.6l-1.5 -3.1l-1.6 -5.4l-1.5 -2.5l-1.6 -4.2l-1.5 -3.2l-1.5 -3.8l-1.6 -4.6l-1.5 -3.1l-1.6 -3.4l-1.5 -3.2l-1.6 -4l-1.5 -3.6l-1.6 -4.2l-1.5 -2.9l-1.6 -2.4l-1.5 -3.4l-1.6 -1.5l-1.5 -2.6l-1.6 -1.3l-1.5 -2.9l-1.6 -1.1l-1.5 -2.4l-1.5 -2.4l-1.6 -0.3l-1.5 0l-1.6 -0.8l-1.5 2.1l-1.6 0.5l-1.5 2.6l-1.6 2l-1.5 2.6l-1.6 4l-1.5 2.2l-1.6 2.3l-1.5 2.5l-1.6 2.8l-1.5 1.7l-1.5 2.9l-1.6 2.7l-1.5 3.1l-1.6 2l-1.5 2.4l-1.6 3.6l-1.5 3.4l-1.6 1.9l-1.5 2.9l-1.6 2.6l-1.5 3.4l-1.6 2.6l-1.5 2.6l-1.6 2.5l-1.5 2.5l-1.6 3.9l-1.5 1.7l-1.5 2.9l-1.6 3.5l-1.5 2.6l-1.6 2.6l-1.5 2.9l-1.6 2.6l-1.5 0.8l-1.6 2.6l-1.5 2.5l-1.6 0.2l-1.5 1.5l-1.6 1l-1.5 -0.8l-1.6 1.2l-1.5 0.1l-1.6 -1.2l-1.5 -1.3l-1.5 -1.7l-1.6 -3.5l-1.5 -2l-1.6 -4.7l-1.5 -5.1l-1.6 -5.1l-1.5 -8.7l-1.6 -6.7l-1.5 -6.6l-1.6 -4.7l-1.5 -4.9l-1.6 -6l-1.5 -6.2l-1.6 -3.8l-1.5 -2.2l-1.6 0.7l-1.5 1.7l-1.5 5.2l-1.6 5.7l-1.5 8.9l-1.6 7.7l-1.5 9.6l-1.6 8.3l-1.5 9.4l-1.6 10.3l-1.5 11.9l-1.6 11.2l-1.5 8.2l-1.6 7.8l-1.5 5.5l-1.6 4.1l-1.5 2.3l-1.5 1.2l-1.6 -2.7l-1.5 -2.4l-1.6 -3.9l-1.5 -4.7l-1.6 -5.9l-1.5 -5.9l-1.6 -6.5l-1.5 -6.9l-1.6 -5.1l-1.5 -7l-1.6 -6.1l-1.5 -7.3l-1.6 -7l-1.5 -7.5l-1.6 -8.8l-1.5 -7.9l-0.5 -1.8l-0.5 -2.7l-0.5 -1.5l-0.6 -0.8l-0.5 -1.5l-0.5 -2.7l-0.5 -0.9l-0.5 -0.6l-0.5 -3l-0.5 -3.5l-0.5 -1.6l-0.6 -2.8l-0.5 -2.3l-0.5 -2l-0.5 -1l-0.5 -1.1l-0.5 0l-0.5 0.7l-0.5 2l-0.6 3.3l-0.5 4.6l-0.5 5.8l-0.5 6.7l-0.5 7.6l-0.5 8.1l-0.5 8.4l-0.5 8.6l-0.6 8.4l-0.5 7.8l-0.5 7.8l-0.5 8.5l-0.5 9.2l-0.5 8.5l-0.5 7.4l-0.5 7.1l-0.6 11l-0.5 15l-0.5 16.7l-0.5 15.8z" fill="#8a8a8a" fill-opacity="0.75" stroke="#8a8a8a" stroke-opacity="0.75" stroke-width="1"/>
<path d="M216.8 1457l0.5 -16.3l0.5 -16.8l0.5 -16l0.6 -14.1l0.5 -12.6l0.5 -12.1l0.5 -11.2l0.5 -10l0.5 -8.9l0.5 -7.9l0.5 -7.5l0.6 -7.5l0.5 -7.2l0.5 -6.9l0.5 -6.4l0.5 -5.8l0.5 -5.1l0.5 -4.3l0.5 -3.3l0.6 -2.2l0.5 -1.1l0.5 0l0.5 0.7l0.5 1.6l0.5 1.7l0.5 2l0.5 2.3l0.6 2.3l0.5 1.7l0.5 2.9l0.5 2.3l0.5 1.4l0.5 1.3l0.5 2.2l0.5 1.5l0.6 1.5l0.5 1.3l0.5 2.3l0.5 2.1l1.5 6.9l1.6 7.3l1.5 6.8l1.6 7.4l1.5 7.5l1.6 7.2l1.5 7.2l1.6 6.2l1.5 6.4l1.6 6.4l1.5 5.7l1.6 5.3l1.5 4.5l1.6 3.7l1.5 2.2l1.6 1.2l1.5 -1.8l1.5 -3.2l1.6 -4.9l1.5 -5.8l1.6 -7.4l1.5 -8.2l1.6 -9.5l1.5 -9.9l1.6 -8.4l1.5 -7.4l1.6 -7l1.5 -8l1.6 -6.1l1.5 -6.9l1.6 -5l1.5 -3.9l1.5 -1.8l1.6 0l1.5 2.5l1.6 3.6l1.5 5.3l1.6 5.1l1.5 4.3l1.6 4.5l1.5 5.7l1.6 5.8l1.5 6.7l1.6 4.9l1.5 4.2l1.6 3.9l1.5 2.6l1.6 2.7l1.5 1.6l1.5 1.3l1.6 0.8l1.5 -0.1l1.6 -0.5l1.5 -0.2l1.6 -0.7l1.5 -1.5l1.6 -0.8l1.5 -1.8l1.6 -2.4l1.5 -1.3l1.6 -2.2l1.5 -2.5l1.6 -2.5l1.5 -2.5l1.6 -3l1.5 -2.7l1.5 -2l1.6 -3.1l1.5 -2.7l1.6 -2.7l1.5 -2.5l1.6 -3l1.5 -3l1.6 -2.7l1.5 -3.1l1.6 -2.3l1.5 -3.2l1.6 -3.5l1.5 -2.2l1.6 -2.7l1.5 -3l1.6 -3.1l1.5 -2.8l1.5 -2.3l1.6 -2.7l1.5 -2.9l1.6 -1.9l1.5 -2.4l1.6 -2.9l1.5 -2.2l1.6 -1.6l1.5 -1.7l1.6 -0.1l1.5 -0.9l1.6 1l1.5 0.6l1.6 1.3l1.5 2.4l1.5 2.2l1.6 1.8l1.5 3l1.6 1.9l1.5 2.7l1.6 2.7l1.5 3.2l1.6 2.9l1.5 3.2l1.6 3.7l1.5 3.3l1.6 3.6l1.5 3.2l1.6 3.1l1.5 3.3l1.6 3.6l1.5 3.2l1.5 2.9l1.6 3.4l1.5 2.6l1.6 3.8l1.5 2.7l1.6 2.3l1.5 2.7l1.6 1.8l1.5 2.5l1.6 1.8l1.5 1.7l1.6 1.6l1.5 0.9l1.6 0.5l1.5 -0.3l1.6 -1.4l1.5 -0.4l1.5 -1.4l1.6 -1.9l1.5 -1.7l1.6 -1.7l1.5 -2.5l1.6 -2.4l1.5 -2.1l1.6 -1.8l1.5 -2.3l1.6 -2.8l1.5 -2.7l1.6 -2.2l1.5 -2.8l1.6 -2.5l1.5 -2.9l1.5 -2.6l1.6 -2.8l1.5 -2.6l1.6 -2.2l1.5 -2.6l1.6 -2.8l1.5 -2.4l1.6 -2.7l1.5 -1.9l1.6 -3l1.5 -2l1.6 -1.8l1.5 -2.4l1.6 -2.3l1.5 -1.9l1.6 -2.1l1.5 -1.5l1.5 -2.6l1.6 -1.2l1.5 -1.8l1.6 -1.5l1.5 -0.8l1.6 -1.5l1.5 -1.8l1.6 -0.9l1.5 -0.6l1.6 -0.4l1.5 0l1.6 0.1l1.5 1.2l1.6 0.8l1.5 0.5l1.6 0.8l1.5 1.2l1.5 2.1l1.6 1.6l1.5 2l1.6 1.5l1.5 2.4l1.6 2.3l1.5 2.4l1.6 2.6l1.5 1.9l1.6 2.7l1.5 2.6l1.6 2.4l1.5 1.9l1.6 2.6l1.5 2.8l1.6 2.6l1.5 2.7l1.5 3.3l1.6 2.1l1.5 2.5l1.6 1.8l1.5 1.2l1.6 1.9l1.5 1.1l1.6 1.1l1.5 1.3l1.6 0.2l1.5 0.6l1.6 -0.1l1.5 0l1.6 0.4l1.5 -0.2l1.5 0.7l1.6 -0.2l1.5 -0.8l1.6 0l1.5 -0.9l1.6 0.1l1.5 -1l1.6 -0.2l1.5 -0.6l1.6 -0.5l1.5 -0.2l1.6 -0.8l1.5 0l1.6 -0.2l1.5 -0.6l1.6 -1.3l1.5 -0.6l1.5 0l1.6 -0.2l1.5 -0.7l1.6 -0.3l1.5 -0.8l1.6 -0.8l1.5 -0.6l1.6 -0.2l1.5 -0.5l1.6 -0.5l1.5 -1.2l1.6 -0.4l1.5 -0.9l1.6 -0.4l1.5 -0.4l1.6 -0.3l1.5 -0.5l1.5 -0.8l1.6 -0.9l1.5 -0.7l1.6 -1.1l1.5 -0.1l1.6 -1l1.5 -0.3l1.6 -0.8l1.5 -0.6l1.6 -0.4l1.5 -1.2l1.6 -0.2l1.5 -0.9l1.6 -0.2l1.5 -0.3l1.5 -0.2l1.6 -1l1.5 -0.1l1.6 -0.3l1.5 -1l1.6 -0.6l1.5 0.2l1.6 -0.9l1.5 -0.4l1.6 -0.1l1.5 0l1.6 -0.4l1.5 -0.4l1.6 -0.4l1.5 0.5l1.6 -0.4l1.5 -0.2l1.5 0.4l1.6 0.1l1.5 -0.2l1.6 0.4l1.5 1l1.6 0.2l1.5 -0.2l1.6 0.5l1.5 0.5l1.6 0.8l1.5 0.9l1.6 0.2l1.5 0.1l1.6 1.4l1.5 -0.3l1.6 0.9l1.5 0.8l1.5 0.6l1.6 0.3l1.5 1l1.6 0.8l1.5 0.3l1.6 1.6l1.5 0.2l1.6 0.7l1.5 0.7l1.6 1l1.5 0.1l1.6 1.2l1.5 0.2l1.6 0.8l1.5 0.7l1.6 -0.1l1.5 1.1l1.5 0.1l1.6 0.7l1.5 0.6l1.6 0.3l1.5 1.1l1.6 -0.3l1.5 0.4l1.6 0.5l1.5 -0.1l1.6 0.9l1.5 0.2l1.6 -0.2l1.5 0.4l1.6 -0.4l1.5 0.1l1.5 0l1.6 0.6l1.5 -0.1l1.6 -0.8l1.5 0.2l1.6 0.3l1.5 0.1l1.6 -0.1l1.5 -0.1l1.6 -0.3l1.5 0.1l1.6 0.7l1.5 -0.2l1.6 -0.3l1.5 -0.1l1.6 -0.2l1.5 0.1" fill="none" stroke="#c9bd2b" stroke-width="5.8" stroke-linejoin="round" stroke-linecap="round"/>
<path d="M216.8 1456.9l0.5 -17.1l0.5 -17l0.5 -17.3l0.6 -18.5l0.5 -20.6l0.5 -18.8l0.5 -14.8l0.5 -11.3l0.5 -9.5l0.5 -8.1l0.5 -7l0.6 -6.2l0.5 -5.4l0.5 -4.6l0.5 -4l0.5 -3.3l0.5 -2.7l0.5 -2.1l0.5 -1.4l0.6 -0.7l0.5 0.1l0.5 1l0.5 1.8l0.5 2.2l0.5 2.7l0.5 2.1l0.5 2.1l0.6 1.8l0.5 1.9l0.5 2l0.5 1.3l0.5 2.4l0.5 1.9l0.5 1.5l0.5 1.5l0.6 2.4l0.5 1l0.5 1.9l0.5 2.4l1.5 5.5l1.6 5.1l1.5 6l1.6 7.8l1.5 7.9l1.6 8.9l1.5 7.3l1.6 7.7l1.5 5.7l1.6 6.4l1.5 5.4l1.6 4.4l1.5 4.3l1.6 3.4l1.5 1.8l1.6 -1l1.5 -2.7l1.5 -4.4l1.6 -5.9l1.5 -6.2l1.6 -6.8l1.5 -8.2l1.6 -7.2l1.5 -7l1.6 -5.7l1.5 -4.5l1.6 -5.3l1.5 -5.5l1.6 -3.8l1.5 -4.1l1.6 -4.1l1.5 -1.9l1.5 -1.9l1.6 0.7l1.5 3l1.6 3.3l1.5 4.1l1.6 3.8l1.5 3.6l1.6 4l1.5 4.6l1.6 4.4l1.5 3.8l1.6 4.7l1.5 2.8l1.6 3l1.5 3.3l1.6 1.7l1.5 1.3l1.5 1.3l1.6 0.2l1.5 -0.1l1.6 0.5l1.5 -1.6l1.6 -0.4l1.5 -1.5l1.6 -1.6l1.5 -0.8l1.6 -2l1.5 -2.2l1.6 -1.5l1.5 -1.8l1.6 -2.4l1.5 -2.4l1.6 -2.3l1.5 -2.5l1.5 -2.4l1.6 -2.1l1.5 -2.6l1.6 -3.1l1.5 -2.4l1.6 -3.6l1.5 -2.4l1.6 -2.8l1.5 -3.5l1.6 -2.7l1.5 -3l1.6 -3.3l1.5 -2.1l1.6 -3.7l1.5 -2.9l1.6 -3.7l1.5 -2.6l1.5 -3l1.6 -2.5l1.5 -3.4l1.6 -1.6l1.5 -2.7l1.6 -1.3l1.5 -1.5l1.6 -1l1.5 -0.6l1.6 0.4l1.5 1.1l1.6 1.1l1.5 1.4l1.6 2.8l1.5 2.3l1.5 2.1l1.6 2.6l1.5 3.5l1.6 2.4l1.5 3.1l1.6 4.3l1.5 2.9l1.6 3.6l1.5 3.6l1.6 3.1l1.5 2.8l1.6 3.1l1.5 3.3l1.6 2.6l1.5 3.6l1.6 2.1l1.5 2.5l1.5 2.4l1.6 2.2l1.5 2.7l1.6 1.5l1.5 2.2l1.6 1.9l1.5 1l1.6 2.2l1.5 1.7l1.6 0.7l1.5 1.7l1.6 0.4l1.5 0.5l1.6 0.6l1.5 -1l1.6 0.1l1.5 -1.7l1.5 -1l1.6 -2l1.5 -1.5l1.6 -2l1.5 -1.4l1.6 -1.8l1.5 -2.8l1.6 -2.1l1.5 -1.6l1.6 -2.1l1.5 -2.5l1.6 -2.6l1.5 -2.7l1.6 -2.7l1.5 -3.1l1.5 -1.6l1.6 -2.7l1.5 -2.3l1.6 -2.7l1.5 -2.1l1.6 -2.1l1.5 -1.5l1.6 -2.5l1.5 -2.1l1.6 -2.5l1.5 -1.8l1.6 -2.6l1.5 -1.9l1.6 -1.8l1.5 -2.4l1.6 -1.4l1.5 -2.6l1.5 -1.8l1.6 -1.4l1.5 -2.3l1.6 -1.4l1.5 -1.2l1.6 -1.3l1.5 -1l1.6 -0.2l1.5 0.1l1.6 -0.4l1.5 0.5l1.6 -0.1l1.5 0.5l1.6 1l1.5 -0.1l1.6 1.7l1.5 0.3l1.5 2.2l1.6 1.1l1.5 2.1l1.6 1.5l1.5 2l1.6 2.1l1.5 2.2l1.6 2.6l1.5 1.9l1.6 2.5l1.5 2.9l1.6 2.2l1.5 2.3l1.6 2.2l1.5 2.7l1.6 3.5l1.5 1.8l1.5 2.3l1.6 2l1.5 1.4l1.6 1.4l1.5 0.9l1.6 0.8l1.5 0.8l1.6 1l1.5 0.7l1.6 -0.1l1.5 0.2l1.6 1l1.5 -0.3l1.6 0.6l1.5 -0.3l1.5 0.3l1.6 -0.4l1.5 -0.4l1.6 -0.4l1.5 0l1.6 -0.3l1.5 -0.4l1.6 -0.4l1.5 -0.3l1.6 -0.8l1.5 0l1.6 -0.4l1.5 -0.8l1.6 -0.5l1.5 -0.8l1.6 -0.6l1.5 -0.4l1.5 -0.3l1.6 -0.9l1.5 -0.3l1.6 -0.4l1.5 -0.5l1.6 -0.3l1.5 -0.8l1.6 -0.9l1.5 -0.4l1.6 -0.4l1.5 -0.5l1.6 -0.6l1.5 -0.6l1.6 -0.1l1.5 -0.8l1.6 -0.3l1.5 -1.3l1.5 -0.1l1.6 -0.7l1.5 -0.8l1.6 -0.8l1.5 0.3l1.6 -1.5l1.5 0.2l1.6 -1l1.5 -0.1l1.6 -1.4l1.5 -0.5l1.6 -0.2l1.5 -0.4l1.6 -0.5l1.5 -1l1.5 -0.3l1.6 -0.8l1.5 -0.7l1.6 -0.3l1.5 -0.2l1.6 0.4l1.5 -0.8l1.6 0.1l1.5 -0.6l1.6 0.8l1.5 -0.2l1.6 -0.8l1.5 0.1l1.6 0.7l1.5 -0.5l1.6 -0.1l1.5 0.7l1.5 -0.3l1.6 0.1l1.5 0.8l1.6 0.6l1.5 -0.5l1.6 0.9l1.5 0.1l1.6 0.5l1.5 -0.2l1.6 0.3l1.5 0.6l1.6 0l1.5 0.5l1.6 0.2l1.5 1.1l1.6 0.1l1.5 0.3l1.5 1.4l1.6 0l1.5 0.6l1.6 1.2l1.5 1l1.6 0.7l1.5 0.9l1.6 0.4l1.5 1l1.6 0.3l1.5 0.1l1.6 1.2l1.5 -0.3l1.6 0.8l1.5 0.7l1.6 0.8l1.5 -0.2l1.5 0.3l1.6 0.9l1.5 0.5l1.6 -0.1l1.5 0.6l1.6 0.5l1.5 0.2l1.6 0.6l1.5 -0.4l1.6 0.9l1.5 -0.6l1.6 0.4l1.5 0.6l1.6 -0.3l1.5 0.4l1.5 -0.3l1.6 0.2l1.5 -0.6l1.6 0.2l1.5 0l1.6 -0.2l1.5 0.2l1.6 0.2l1.5 0.3l1.6 -0.4l1.5 -0.5l1.6 0.3l1.5 -0.1l1.6 0l1.5 0.2l1.6 -0.2l1.5 0.5" fill="none" stroke="#e8336e" stroke-width="4.4" stroke-linejoin="round" stroke-linecap="round"/>
<path d="M218.3 1628.7l0.5 -22.6l0.5 -22.8l0.5 -20.5l0.6 -17.6l0.5 -15.8l0.5 -14l0.5 -11.3l0.5 -8.5l0.5 -6.1l0.5 -4.4l0.5 -3.4l0.6 -2.7l0.5 -2.5l0.5 -2l0.5 -1.5l0.5 -1.2l0.5 -1l0.5 -0.9l0.5 -0.8l0.6 -0.7l0.5 -0.8l0.5 -0.8l0.5 -0.7l0.5 -1.3l0.5 0.4l0.5 -0.8l0.5 -1.6l0.6 -0.4l0.5 -0.8l0.5 -0.4l0.5 -0.7l0.5 -0.6l0.5 -0.2l0.5 0.5l0.5 -0.7l0.6 0.1l0.5 0.2l0.5 1.6l0.5 1.3l1.5 4l1.6 4.7l1.5 6.5l1.6 7.1l1.5 7.3l1.6 8.2l1.5 8.5l1.6 9l1.5 6.6l1.6 6.6l1.5 7l1.6 4.1l1.5 3.4l1.6 0.1l1.5 -2.2l1.6 -3.7l1.5 -5.9l1.5 -7.7l1.6 -8.4l1.5 -7.2l1.6 -9.1l1.5 -9.9l1.6 -9.6l1.5 -9l1.6 -5.8l1.5 -5.9l1.6 -3.7l1.5 -4.1l1.6 -4.9l1.5 -1.8l1.6 -1.6l1.5 1l1.6 1.6l1.5 4.9l1.5 7l1.6 6.9l1.5 5.7l1.6 6.2l1.5 6.6l1.6 5.9l1.5 5.3l1.6 3.6l1.5 4.2l1.6 2.1l1.5 3.1l1.6 2.9l1.5 2.5l1.6 3.7l1.5 3l1.6 1.9l1.5 2.7l1.5 1.1l1.6 0.7l1.5 -0.8l1.6 -1.9l1.5 -1.3l1.6 -2.1l1.5 -1.6l1.6 -2.2l1.5 -2.2l1.6 -2.5l1.5 -3l1.6 -3.5l1.5 -3l1.6 -2.8l1.5 -2.8l1.6 -3.4l1.5 -3.7l1.5 -3.2l1.6 -2.6l1.5 -3.5l1.6 -3.3l1.5 -2.8l1.6 -4.7l1.5 -2.3l1.6 -3.6l1.5 -4.4l1.6 -2.7l1.5 -4.1l1.6 -3.4l1.5 -3.4l1.6 -3.3l1.5 -4.4l1.6 -2.9l1.5 -3.4l1.6 -2.2l1.5 -2.4l1.5 -1.6l1.6 -1.5l1.5 -1.4l1.6 -0.9l1.5 1.3l1.6 -0.6l1.5 2l1.6 1.6l1.5 0.9l1.6 2.9l1.5 2.6l1.6 3l1.5 3.5l1.6 2.4l1.5 4.3l1.6 2.9l1.5 4l1.5 3.7l1.6 3.6l1.5 2.7l1.6 4.4l1.5 2.7l1.6 4.7l1.5 3l1.6 3.2l1.5 4l1.6 2.7l1.5 4.5l1.6 3.1l1.5 3.5l1.6 2.1l1.5 2.4l1.6 3.5l1.5 2.4l1.5 2.4l1.6 2.2l1.5 1.1l1.6 0.5l1.5 1.5l1.6 0l1.5 -1.2l1.6 -0.8l1.5 -1.2l1.6 -0.6l1.5 -1.6l1.6 -2.5l1.5 -1.1l1.6 -2l1.5 -1.2l1.6 -2.3l1.5 -2.5l1.5 -2.6l1.6 -2.7l1.5 -1.6l1.6 -2.7l1.5 -2.9l1.6 -1.7l1.5 -3.6l1.6 -1.2l1.5 -3.3l1.6 -1.7l1.5 -3l1.6 -2.5l1.5 -2.3l1.6 -2l1.5 -2.4l1.6 -2.2l1.5 -3.1l1.5 -1.7l1.6 -3.4l1.5 -2l1.6 -1.7l1.5 -2.8l1.6 -2.3l1.5 -2.6l1.6 -2.9l1.5 -2.2l1.6 -1.6l1.5 -2l1.6 -1.2l1.5 -1.4l1.6 -1.9l1.5 -0.6l1.6 -0.7l1.5 0.5l1.5 -0.5l1.6 1.1l1.5 0.2l1.6 1.4l1.5 1.1l1.6 1.3l1.5 0.5l1.6 1.1l1.5 1.5l1.6 2.8l1.5 0.9l1.6 2.9l1.5 1.8l1.6 2.4l1.5 3.2l1.6 1.8l1.5 2l1.5 3.2l1.6 1.4l1.5 2.8l1.6 2.8l1.5 2l1.6 2.8l1.5 1.6l1.6 2.7l1.5 3l1.6 2.1l1.5 1.5l1.6 1.9l1.5 1.3l1.6 2.6l1.5 0.8l1.6 1.9l1.5 1l1.5 1.2l1.6 0.1l1.5 1.1l1.6 0.5l1.5 -0.4l1.6 0.1l1.5 -0.5l1.6 0.7l1.5 -0.5l1.6 -1.4l1.5 0.8l1.6 -0.8l1.5 -0.9l1.6 -0.2l1.5 -0.4l1.6 -1l1.5 -0.4l1.5 -1.6l1.6 -0.3l1.5 0.1l1.6 -0.4l1.5 -1.3l1.6 0l1.5 -0.7l1.6 0.3l1.5 -1.2l1.6 0l1.5 -0.6l1.6 -0.8l1.5 0.4l1.6 -0.9l1.5 -1.2l1.6 -0.4l1.5 -0.8l1.5 0.6l1.6 -1.6l1.5 0.8l1.6 -1.5l1.5 -0.1l1.6 -0.9l1.5 0l1.6 -0.4l1.5 -0.4l1.6 -1.1l1.5 -0.7l1.6 -0.1l1.5 -1.3l1.6 0.4l1.5 -1.3l1.6 0.6l1.5 -0.6l1.5 -0.5l1.6 -0.8l1.5 -1.3l1.6 -0.1l1.5 0.5l1.6 -1.5l1.5 0l1.6 -0.8l1.5 0.1l1.6 -0.2l1.5 -0.9l1.6 -0.6l1.5 -0.1l1.6 0.1l1.5 -0.6l1.6 -0.3l1.5 -0.6l1.6 0.4l1.5 -0.2l1.5 -1.1l1.6 0.6l1.5 -0.6l1.6 0.7l1.5 0.4l1.6 0.9l1.5 -0.2l1.6 1.4l1.5 -0.2l1.6 0.6l1.5 0.4l1.6 0.9l1.5 0.6l1.6 1.8l1.5 -0.7l1.6 1.9l1.5 0.2l1.5 0l1.6 1.2l1.5 0.8l1.6 0.7l1.5 0.2l1.6 0l1.5 0.7l1.6 0.9l1.5 0.6l1.6 0.8l1.5 -0.4l1.6 0.6l1.5 0.8l1.6 0.6l1.5 0.1l1.6 0.7l1.5 1.2l1.5 -0.8l1.6 0.5l1.5 0.5l1.6 1.3l1.5 -0.3l1.6 0.7l1.5 1.1l1.6 0.4l1.5 0.4l1.6 1.4l1.5 -0.2l1.6 0.1l1.5 1.5l1.6 0.4l1.5 -0.6l1.6 0.8l1.5 -0.5l1.5 0.3l1.6 1.1l1.5 -0.8l1.6 0l1.5 -0.3l1.6 -0.3l1.5 -0.2l1.6 0l1.5 0.8l1.6 -0.4l1.5 -1l1.6 0l1.5 1l1.6 -0.7l1.5 -0.8l1.6 0.9l1.5 -0.7l0 -5.7l-1.5 -0.6l-1.6 0.6l-1.5 0.7l-1.6 -1.4l-1.5 1l-1.6 0.2l-1.5 -0.2l-1.6 -0.1l-1.5 0.6l-1.6 1.2l-1.5 0.4l-1.6 -0.7l-1.5 0.2l-1.6 0.4l-1.5 -0.7l-1.6 1.1l-1.5 -0.6l-1.5 -0.5l-1.6 0.5l-1.5 -0.9l-1.6 -1.3l-1.5 0.4l-1.6 -0.7l-1.5 -1.9l-1.6 0.2l-1.5 -1.1l-1.6 -0.3l-1.5 0.8l-1.6 -0.6l-1.5 -2.2l-1.6 1.1l-1.5 -1.6l-1.6 -0.8l-1.5 -1.2l-1.5 0l-1.6 -0.2l-1.5 -0.1l-1.6 -1.8l-1.5 -0.1l-1.6 -0.8l-1.5 -0.4l-1.6 -1.2l-1.5 -1l-1.6 -0.2l-1.5 0.2l-1.6 -1.9l-1.5 -0.7l-1.6 -0.7l-1.5 -0.6l-1.6 1l-1.5 -1.4l-1.5 -1.5l-1.6 0.7l-1.5 -2.3l-1.6 -0.2l-1.5 -0.4l-1.6 -0.7l-1.5 -1.3l-1.6 -0.5l-1.5 -1.5l-1.6 -0.3l-1.5 -0.2l-1.6 -1l-1.5 -0.6l-1.6 0.1l-1.5 1l-1.6 -0.3l-1.5 -0.2l-1.5 0.9l-1.6 0.2l-1.5 0.1l-1.6 1l-1.5 0l-1.6 1.1l-1.5 0.2l-1.6 -0.4l-1.5 0.7l-1.6 1.1l-1.5 -0.2l-1.6 0l-1.5 1l-1.6 0.3l-1.5 1.2l-1.6 1.2l-1.5 -0.5l-1.6 -0.3l-1.5 1.4l-1.5 0l-1.6 1.6l-1.5 0.1l-1.6 1.6l-1.5 0.5l-1.6 0.5l-1.5 0.7l-1.6 0.3l-1.5 -0.2l-1.6 1.4l-1.5 1.2l-1.6 0.1l-1.5 0.9l-1.6 -0.6l-1.5 2.4l-1.6 -0.2l-1.5 1.7l-1.5 0.6l-1.6 0.5l-1.5 0l-1.6 -0.1l-1.5 1.1l-1.6 1.3l-1.5 0.4l-1.6 1.7l-1.5 -0.8l-1.6 2l-1.5 0.2l-1.6 1.4l-1.5 -0.1l-1.6 0.7l-1.5 0.6l-1.6 1.1l-1.5 0l-1.5 0.8l-1.6 -0.8l-1.5 1.7l-1.6 0.9l-1.5 -0.1l-1.6 -0.6l-1.5 2.5l-1.6 -1.2l-1.5 0.5l-1.6 0.6l-1.5 -0.1l-1.6 -0.5l-1.5 -0.3l-1.6 -1.4l-1.5 -0.1l-1.6 -1.8l-1.5 -1.2l-1.5 -0.7l-1.6 -1.8l-1.5 -1.7l-1.6 -1.4l-1.5 -2.8l-1.6 -1l-1.5 -3.7l-1.6 -2.3l-1.5 -2.1l-1.6 -2.2l-1.5 -1.7l-1.6 -2.9l-1.5 -3l-1.6 -1.8l-1.5 -2.4l-1.6 -2.6l-1.5 -2.9l-1.5 -2.1l-1.6 -3.6l-1.5 -1.9l-1.6 -2l-1.5 -2.5l-1.6 -2.4l-1.5 -2.3l-1.6 -1.4l-1.5 -1l-1.6 -1.4l-1.5 -2.8l-1.6 -0.8l-1.5 -0.8l-1.6 1.1l-1.5 -0.6l-1.6 0l-1.5 -0.9l-1.5 1l-1.6 1.2l-1.5 0.7l-1.6 0.6l-1.5 1.9l-1.6 2.4l-1.5 2.4l-1.6 2.2l-1.5 1.9l-1.6 2.1l-1.5 1.9l-1.6 2.1l-1.5 3.5l-1.6 2l-1.5 3.7l-1.6 2l-1.5 3.3l-1.5 1.3l-1.6 4l-1.5 3.4l-1.6 2.3l-1.5 2.5l-1.6 3.3l-1.5 2.8l-1.6 3.3l-1.5 1.9l-1.6 4.8l-1.5 1.2l-1.6 3.6l-1.5 2.8l-1.6 2.4l-1.5 3.6l-1.6 1.9l-1.5 2.1l-1.5 2l-1.6 2.2l-1.5 2.7l-1.6 2.3l-1.5 1.7l-1.6 0.9l-1.5 1.8l-1.6 1.6l-1.5 0.7l-1.6 0.2l-1.5 0.8l-1.6 -1.7l-1.5 -0.3l-1.6 -1.4l-1.5 -3.3l-1.6 -2.4l-1.5 -2.3l-1.5 -2.8l-1.6 -1.4l-1.5 -4l-1.6 -4.4l-1.5 -2.1l-1.6 -5.1l-1.5 -2.3l-1.6 -3.5l-1.5 -2.9l-1.6 -4.1l-1.5 -3.5l-1.6 -2.3l-1.5 -4.5l-1.6 -2.7l-1.5 -4.2l-1.6 -2.7l-1.5 -4.5l-1.5 -2.9l-1.6 -4.2l-1.5 -2.3l-1.6 -4.2l-1.5 -3.8l-1.6 -1.8l-1.5 -4l-1.6 -0.7l-1.5 -3.6l-1.6 -0.2l-1.5 0l-1.6 -0.7l-1.5 1.7l-1.6 2.3l-1.5 2.7l-1.6 1.5l-1.5 3.6l-1.5 2.1l-1.6 3.3l-1.5 3l-1.6 3.4l-1.5 2.8l-1.6 3.8l-1.5 4.2l-1.6 3.3l-1.5 2.4l-1.6 5l-1.5 3.2l-1.6 2.7l-1.5 5.4l-1.6 2.1l-1.5 3.8l-1.6 3.1l-1.5 3.5l-1.6 4.1l-1.5 3.6l-1.5 1.9l-1.6 2.4l-1.5 4.1l-1.6 1.7l-1.5 3.2l-1.6 1.7l-1.5 1.7l-1.6 1.6l-1.5 3.3l-1.6 0.9l-1.5 3.8l-1.6 1l-1.5 1.9l-1.6 1l-1.5 1.6l-1.6 2.6l-1.5 0.7l-1.5 0.5l-1.6 -2.1l-1.5 -3.5l-1.6 -4.1l-1.5 -3.8l-1.6 -5.3l-1.5 -5l-1.6 -6.3l-1.5 -4.9l-1.6 -5.9l-1.5 -4.9l-1.6 -4.7l-1.5 -4l-1.6 -6l-1.5 -5.6l-1.6 -2.9l-1.5 -1.2l-1.5 -1l-1.6 -1.2l-1.5 1.3l-1.6 1.9l-1.5 3.2l-1.6 1.7l-1.5 4.9l-1.6 7.7l-1.5 8.3l-1.6 10.4l-1.5 7.8l-1.6 8.4l-1.5 9.2l-1.6 8.9l-1.5 10.6l-1.6 6.4l-1.5 4.4l-1.5 5l-1.6 2.9l-1.5 2.1l-1.6 0.5l-1.5 1.3l-1.6 -1.8l-1.5 -1l-1.6 -3.5l-1.5 -4.2l-1.6 -4.2l-1.5 -6.6l-1.6 -5.8l-1.5 -5.2l-1.6 -5.7l-1.5 -6.4l-1.6 -6.9l-1.5 -5l-0.5 -1.4l-0.5 -0.9l-0.5 -2.8l-0.6 -2.3l-0.5 -1.5l-0.5 -1.6l-0.5 -1.8l-0.5 -0.3l-0.5 -1.2l-0.5 -2.3l-0.5 -0.9l-0.6 0.8l-0.5 -2.4l-0.5 0.1l-0.5 0.9l-0.5 -0.5l-0.5 0.1l-0.5 0.4l-0.5 0.5l-0.6 0.7l-0.5 0.9l-0.5 1.1l-0.5 1.2l-0.5 1.6l-0.5 1.6l-0.5 1.6l-0.5 1.7l-0.6 2l-0.5 2.4l-0.5 3.1l-0.5 3.7l-0.5 5l-0.5 8.3l-0.5 14l-0.5 19.4l-0.6 16.6l-0.5 15.5l-0.5 16l-0.5 15.9z" fill="#8a8a8a" fill-opacity="0.75" stroke="#8a8a8a" stroke-opacity="0.75" stroke-width="1"/>
<path d="M218.3 1629l0.5 -18.3l0.5 -18.3l0.5 -17.3l0.6 -17l0.5 -18.1l0.5 -14l0.5 -9.4l0.5 -6.2l0.5 -4.5l0.5 -3.6l0.5 -2.7l0.6 -2.3l0.5 -2l0.5 -1.7l0.5 -1.6l0.5 -1.4l0.5 -1.2l0.5 -1l0.5 -0.8l0.6 -0.8l0.5 -0.6l0.5 -0.4l0.5 -0.4l0.5 -0.1l0.5 -0.5l0.5 -0.3l0.5 1l0.6 -0.6l0.5 0.2l0.5 1.4l0.5 0.5l0.5 0l0.5 1.1l0.5 1.2l0.5 0.7l0.6 1.6l0.5 1.9l0.5 1.1l0.5 1.4l1.5 4.6l1.6 6.2l1.5 6.4l1.6 6.2l1.5 5.9l1.6 6.7l1.5 7.2l1.6 5.9l1.5 5.1l1.6 4.5l1.5 3.2l1.6 2.6l1.5 0.3l1.6 -0.3l1.5 -2.2l1.6 -3.1l1.5 -5.4l1.5 -5.5l1.6 -7.1l1.5 -9.4l1.6 -9l1.5 -9.4l1.6 -8.8l1.5 -8.3l1.6 -8.8l1.5 -7.4l1.6 -6.3l1.5 -4.7l1.6 -2.7l1.5 -2.8l1.6 -1.7l1.5 -0.5l1.6 1.3l1.5 2.4l1.5 3.2l1.6 4.3l1.5 5.6l1.6 6.1l1.5 4.9l1.6 5.1l1.5 5.1l1.6 5.1l1.5 4.6l1.6 4.9l1.5 4.3l1.6 4.4l1.5 3.4l1.6 3.9l1.5 3.4l1.6 2l1.5 0.6l1.5 -0.1l1.6 -1.4l1.5 -1.3l1.6 -1.3l1.5 -1.7l1.6 -1.4l1.5 -3.1l1.6 -1.3l1.5 -2.9l1.6 -1.9l1.5 -2.1l1.6 -2.4l1.5 -3.1l1.6 -2.1l1.5 -3.7l1.6 -2.7l1.5 -2.6l1.5 -3.4l1.6 -3.6l1.5 -3.5l1.6 -3.1l1.5 -3.5l1.6 -3l1.5 -4.3l1.6 -3.1l1.5 -3.6l1.6 -4.1l1.5 -3l1.6 -3.4l1.5 -3.9l1.6 -3.6l1.5 -3.4l1.6 -3.3l1.5 -3l1.6 -3l1.5 -2.2l1.5 -2.9l1.6 -1.5l1.5 -2.2l1.6 -1.8l1.5 -0.7l1.6 0.2l1.5 0.8l1.6 0.6l1.5 2.7l1.6 1.5l1.5 3.5l1.6 2.2l1.5 3.7l1.6 3.6l1.5 3l1.6 3.7l1.5 3.3l1.5 4.2l1.6 3.1l1.5 3.6l1.6 3.3l1.5 3.9l1.6 3.1l1.5 3.4l1.6 3.7l1.5 3.3l1.6 3.3l1.5 3l1.6 4.4l1.5 2.6l1.6 3.6l1.5 3.4l1.6 2.1l1.5 2.7l1.5 2.4l1.6 2.3l1.5 2.5l1.6 1.1l1.5 0.7l1.6 1.1l1.5 -0.9l1.6 -0.5l1.5 -0.8l1.6 -1.2l1.5 -1.8l1.6 -1.4l1.5 -1.6l1.6 -2.1l1.5 -2.2l1.6 -2.2l1.5 -2.2l1.5 -2.3l1.6 -2.2l1.5 -2.9l1.6 -2.5l1.5 -2.8l1.6 -3l1.5 -2l1.6 -3.5l1.5 -2.4l1.6 -2.8l1.5 -2.8l1.6 -3l1.5 -2.4l1.6 -2.3l1.5 -3l1.6 -3.4l1.5 -1.9l1.5 -2.8l1.6 -2.4l1.5 -3.2l1.6 -1.9l1.5 -3.2l1.6 -2.1l1.5 -2.2l1.6 -2.4l1.5 -2l1.6 -2l1.5 -2.3l1.6 -2l1.5 -1.6l1.6 -1.1l1.5 -0.7l1.6 -1l1.5 -0.5l1.5 0.4l1.6 0.4l1.5 0.5l1.6 -0.2l1.5 0.8l1.6 1l1.5 2l1.6 1.3l1.5 1.2l1.6 1.9l1.5 1.8l1.6 2.6l1.5 2.2l1.6 2.2l1.5 2.3l1.6 3l1.5 2l1.5 3l1.6 2.2l1.5 2.6l1.6 2.1l1.5 2.7l1.6 2.8l1.5 1.7l1.6 2.4l1.5 2.4l1.6 2.2l1.5 3l1.6 1.3l1.5 2.3l1.6 1.8l1.5 1.4l1.6 1.8l1.5 0.8l1.5 1.2l1.6 1.2l1.5 0.5l1.6 1l1.5 0.1l1.6 0.4l1.5 -0.1l1.6 -0.2l1.5 -0.5l1.6 0.3l1.5 -1.3l1.6 0.1l1.5 -0.3l1.6 -0.7l1.5 -1.2l1.6 0.2l1.5 -0.7l1.5 -0.5l1.6 -0.9l1.5 -0.3l1.6 -0.6l1.5 -0.4l1.6 -0.9l1.5 -0.4l1.6 -1.2l1.5 0.1l1.6 -1.1l1.5 -0.4l1.6 -1.2l1.5 -0.5l1.6 -0.3l1.5 -0.5l1.6 -0.4l1.5 -0.6l1.5 -0.9l1.6 -0.5l1.5 -1.3l1.6 -0.1l1.5 -0.6l1.6 -0.4l1.5 -0.8l1.6 -1l1.5 -0.1l1.6 -0.5l1.5 -0.7l1.6 -0.4l1.5 -0.7l1.6 -1l1.5 -0.5l1.6 -0.8l1.5 -0.2l1.5 -1.1l1.6 -0.1l1.5 -0.1l1.6 -0.8l1.5 -0.6l1.6 -0.8l1.5 -0.6l1.6 -0.3l1.5 0.2l1.6 -0.8l1.5 -0.8l1.6 0.1l1.5 -0.2l1.6 -0.6l1.5 -0.3l1.6 -0.7l1.5 -0.3l1.6 0l1.5 -0.6l1.5 -0.3l1.6 0.4l1.5 -0.9l1.6 0.2l1.5 0.6l1.6 0.9l1.5 0l1.6 0.7l1.5 0.9l1.6 0.6l1.5 1l1.6 0.7l1.5 0.5l1.6 0.8l1.5 1.2l1.6 0.3l1.5 1l1.5 0.9l1.6 -0.2l1.5 0.6l1.6 0.7l1.5 0.6l1.6 1.2l1.5 0.1l1.6 0.4l1.5 0.9l1.6 1.1l1.5 0.1l1.6 0.7l1.5 0.4l1.6 1.3l1.5 0.2l1.6 0.3l1.5 0.4l1.5 0.6l1.6 0.7l1.5 1.1l1.6 -0.2l1.5 1.3l1.6 0.6l1.5 -0.1l1.6 0.4l1.5 0.8l1.6 0.4l1.5 1.1l1.6 0.5l1.5 0.2l1.6 1.1l1.5 0.3l1.6 0l1.5 0.2l1.5 0.4l1.6 -0.3l1.5 0.2l1.6 -0.3l1.5 -0.2l1.6 0.3l1.5 -0.3l1.6 -0.8l1.5 -0.1l1.6 0l1.5 -0.2l1.6 -0.2l1.5 -0.3l1.6 0.6l1.5 -0.7l1.6 0l1.5 0.1" fill="none" stroke="#c9bd2b" stroke-width="5.8" stroke-linejoin="round" stroke-linecap="round"/>
<path d="M218.3 1628.8l0.5 -21.6l0.5 -21.8l0.5 -19.8l0.6 -17.4l0.5 -16.3l0.5 -14.1l0.5 -10.8l0.5 -7.9l0.5 -5.9l0.5 -4.2l0.5 -3.1l0.6 -2.7l0.5 -2.4l0.5 -1.9l0.5 -1.5l0.5 -1.2l0.5 -1.1l0.5 -0.9l0.5 -0.8l0.6 -0.8l0.5 -0.7l0.5 -0.7l0.5 -0.7l0.5 -1l0.5 0.2l0.5 -0.7l0.5 -1l0.6 -0.4l0.5 -0.6l0.5 0l0.5 -0.4l0.5 -0.5l0.5 0.1l0.5 0.7l0.5 -0.3l0.6 0.4l0.5 0.6l0.5 1.5l0.5 1.2l1.5 4.3l1.6 5l1.5 6.5l1.6 6.8l1.5 7l1.6 7.8l1.5 8.3l1.6 8.3l1.5 6.2l1.6 6.1l1.5 6.2l1.6 3.7l1.5 2.7l1.6 0l1.5 -2.2l1.6 -3.6l1.5 -5.8l1.5 -7.2l1.6 -8l1.5 -7.8l1.6 -9.1l1.5 -9.7l1.6 -9.4l1.5 -8.9l1.6 -6.5l1.5 -6.2l1.6 -4.3l1.5 -4.2l1.6 -4.4l1.5 -2l1.6 -1.7l1.5 0.7l1.6 1.5l1.5 4.3l1.5 6.2l1.6 6.3l1.5 5.6l1.6 6.2l1.5 6.2l1.6 5.7l1.5 5.3l1.6 3.9l1.5 4.3l1.6 2.8l1.5 3.3l1.6 3.3l1.5 2.7l1.6 3.7l1.5 3.1l1.6 1.9l1.5 2.3l1.5 0.8l1.6 0.2l1.5 -1l1.6 -1.7l1.5 -1.3l1.6 -2l1.5 -1.9l1.6 -2l1.5 -2.4l1.6 -2.4l1.5 -2.7l1.6 -3.3l1.5 -3l1.6 -2.7l1.5 -3l1.6 -3.2l1.5 -3.4l1.5 -3.3l1.6 -2.8l1.5 -3.5l1.6 -3.3l1.5 -3l1.6 -4.2l1.5 -2.9l1.6 -3.4l1.5 -4.2l1.6 -3l1.5 -3.9l1.6 -3.4l1.5 -3.5l1.6 -3.4l1.5 -4.1l1.6 -3.1l1.5 -3.2l1.6 -2.4l1.5 -2.4l1.5 -1.9l1.6 -1.5l1.5 -1.6l1.6 -1.1l1.5 0.9l1.6 -0.5l1.5 1.8l1.6 1.3l1.5 1.4l1.6 2.5l1.5 2.8l1.6 2.8l1.5 3.6l1.6 2.7l1.5 3.9l1.6 3.1l1.5 3.9l1.5 3.8l1.6 3.5l1.5 2.9l1.6 4.1l1.5 3l1.6 4.4l1.5 3.1l1.6 3.3l1.5 3.8l1.6 2.8l1.5 4.2l1.6 3.4l1.5 3.3l1.6 2.4l1.5 2.7l1.6 3.2l1.5 2.4l1.5 2.4l1.6 2.2l1.5 1.5l1.6 0.6l1.5 1.3l1.6 0.3l1.5 -1.2l1.6 -0.7l1.5 -1.1l1.6 -0.8l1.5 -1.6l1.6 -2.2l1.5 -1.3l1.6 -2l1.5 -1.4l1.6 -2.2l1.5 -2.5l1.5 -2.6l1.6 -2.5l1.5 -1.9l1.6 -2.6l1.5 -2.9l1.6 -2l1.5 -3.3l1.6 -1.7l1.5 -3.1l1.6 -2l1.5 -2.9l1.6 -2.6l1.5 -2.3l1.6 -2.1l1.5 -2.6l1.6 -2.4l1.5 -2.9l1.5 -1.9l1.6 -3.2l1.5 -2.3l1.6 -1.7l1.5 -2.9l1.6 -2.2l1.5 -2.6l1.6 -2.7l1.5 -2.2l1.6 -1.7l1.5 -2l1.6 -1.4l1.5 -1.5l1.6 -1.7l1.5 -0.6l1.6 -0.8l1.5 0.3l1.5 -0.3l1.6 0.9l1.5 0.3l1.6 1l1.5 1.1l1.6 1.2l1.5 0.8l1.6 1.1l1.5 1.5l1.6 2.6l1.5 1.1l1.6 2.8l1.5 1.9l1.6 2.4l1.5 3l1.6 2l1.5 2l1.5 3.2l1.6 1.6l1.5 2.8l1.6 2.6l1.5 2.1l1.6 2.9l1.5 1.6l1.6 2.6l1.5 2.8l1.6 2.2l1.5 1.8l1.6 1.7l1.5 1.7l1.6 2.3l1.5 1l1.6 1.9l1.5 0.9l1.5 1.2l1.6 0.4l1.5 0.9l1.6 0.6l1.5 -0.2l1.6 0.1l1.5 -0.4l1.6 0.5l1.5 -0.5l1.6 -1l1.5 0.3l1.6 -0.6l1.5 -0.8l1.6 -0.3l1.5 -0.6l1.6 -0.7l1.5 -0.5l1.5 -1.3l1.6 -0.4l1.5 0l1.6 -0.5l1.5 -1.1l1.6 -0.2l1.5 -0.6l1.6 0l1.5 -1l1.6 -0.2l1.5 -0.6l1.6 -0.8l1.5 0.1l1.6 -0.7l1.5 -1.1l1.6 -0.4l1.5 -0.7l1.5 0.2l1.6 -1.3l1.5 0.3l1.6 -1.2l1.5 -0.2l1.6 -0.8l1.5 -0.1l1.6 -0.6l1.5 -0.3l1.6 -0.9l1.5 -0.8l1.6 -0.1l1.5 -1.2l1.6 0.1l1.5 -1.1l1.6 0.3l1.5 -0.5l1.5 -0.7l1.6 -0.6l1.5 -1.1l1.6 -0.3l1.5 0.3l1.6 -1.3l1.5 -0.1l1.6 -0.7l1.5 0.1l1.6 -0.3l1.5 -1l1.6 -0.4l1.5 -0.1l1.6 0l1.5 -0.6l1.6 -0.4l1.5 -0.5l1.6 0.3l1.5 -0.3l1.5 -0.9l1.6 0.5l1.5 -0.6l1.6 0.6l1.5 0.4l1.6 0.9l1.5 -0.2l1.6 1.3l1.5 0l1.6 0.6l1.5 0.6l1.6 0.9l1.5 0.5l1.6 1.5l1.5 -0.2l1.6 1.6l1.5 0.4l1.5 0.2l1.6 0.8l1.5 0.8l1.6 0.6l1.5 0.3l1.6 0.4l1.5 0.5l1.6 0.8l1.5 0.6l1.6 0.9l1.5 -0.3l1.6 0.7l1.5 0.7l1.6 0.8l1.5 0.1l1.6 0.6l1.5 1l1.5 -0.5l1.6 0.6l1.5 0.6l1.6 0.9l1.5 0.1l1.6 0.7l1.5 0.8l1.6 0.4l1.5 0.5l1.6 1.2l1.5 0.1l1.6 0.1l1.5 1.3l1.6 0.5l1.5 -0.4l1.6 0.6l1.5 -0.3l1.5 0.4l1.6 0.7l1.5 -0.6l1.6 0l1.5 -0.3l1.6 -0.1l1.5 -0.3l1.6 -0.2l1.5 0.7l1.6 -0.4l1.5 -0.8l1.6 -0.1l1.5 0.7l1.6 -0.3l1.5 -0.8l1.6 0.7l1.5 -0.6" fill="none" stroke="#e8336e" stroke-width="4.4" stroke-linejoin="round" stroke-linecap="round"/>
<path d="M217 1805.5l0.5 -16.5l0.5 -16.5l0.5 -15l0.6 -11.2l0.5 -9.9l0.5 -11.7l0.5 -13.1l0.5 -12.9l0.5 -12l0.5 -10.7l0.5 -9l0.6 -6.8l0.5 -6.1l0.5 -5.5l0.5 -4.5l0.5 -3.6l0.5 -2.9l0.5 -2.3l0.5 -1.5l0.6 -0.8l0.5 -0.3l0.5 0.1l0.5 0.5l0.5 0.2l0.5 2.1l0.5 1.4l0.5 0.2l0.6 1.5l0.5 2.5l0.5 1.4l0.5 0.9l0.5 3l0.5 1l0.5 2.2l0.5 2.1l0.6 0.2l0.5 2.8l0.5 1.6l0.5 1.3l1.6 5.6l1.5 5.9l1.6 6.1l1.5 5.5l1.6 6.7l1.5 5.6l1.6 7.5l1.5 6.6l1.6 6.2l1.5 6.2l1.6 5.3l1.5 5.5l1.6 1.3l1.5 0.6l1.6 -0.7l1.5 -2.6l1.6 -4.4l1.5 -3.5l1.6 -6.7l1.5 -8.1l1.6 -7.6l1.5 -8.2l1.6 -8.7l1.5 -10.4l1.6 -10.3l1.5 -7.7l1.6 -7.5l1.5 -6.6l1.6 -7.6l1.5 -5.8l1.6 -4.4l1.5 -1.2l1.6 2.1l1.5 3.4l1.6 4.6l1.5 5l1.6 6.2l1.5 5.6l1.6 6l1.5 6.8l1.6 5.7l1.5 7l1.6 4.2l1.5 4.3l1.6 3.5l1.5 3.9l1.6 2.5l1.5 2.1l1.6 3.6l1.5 1.1l1.6 2.1l1.5 1.6l1.6 0.9l1.5 0.2l1.6 -1.2l1.5 -3.4l1.6 -1.3l1.6 -2.8l1.5 -1.1l1.6 -3.3l1.5 -1.4l1.6 -2.2l1.5 -3.2l1.6 -1.8l1.5 -2.9l1.6 -3.7l1.5 -3.2l1.6 -2.4l1.5 -3.7l1.6 -3.9l1.5 -2.4l1.6 -3.4l1.5 -3.9l1.6 -4l1.5 -4.2l1.6 -3.2l1.5 -2.9l1.6 -3.6l1.5 -3.3l1.6 -2.3l1.5 -3.1l1.6 -3.9l1.5 -3.4l1.6 -1.8l1.5 -3.4l1.6 -2.7l1.5 -2.1l1.6 -3.1l1.5 -1.5l1.6 -2.1l1.5 -1.5l1.6 -1.4l1.5 -0.4l1.6 0l1.5 1l1.6 0l1.5 0.5l1.6 1l1.5 0l1.6 2.6l1.5 2l1.6 4.1l1.5 5.1l1.6 6.5l1.5 5.9l1.6 4l1.5 4.4l1.6 2.9l1.5 3.8l1.6 3.9l1.5 2.6l1.6 4.4l1.5 2.8l1.6 3l1.6 3.9l1.5 2.9l1.6 2.7l1.5 2.7l1.6 2.2l1.5 2.6l1.6 2.8l1.5 2.4l1.6 1.3l1.5 2l1.6 2l1.5 0.9l1.6 1.6l1.5 -0.9l1.6 1l1.5 -1l1.6 -1.3l1.5 -1.4l1.6 -1.9l1.5 -1.7l1.6 -1l1.5 -1l1.6 -1.6l1.5 -1.4l1.6 -1l1.5 -2.2l1.6 -1.6l1.5 -0.9l1.6 -3.1l1.5 -1.5l1.6 -3.2l1.5 -2.2l1.6 -2.4l1.5 -3.4l1.6 -2.7l1.5 -3.5l1.6 -2.8l1.5 -2.9l1.6 -3.8l1.5 -2.8l1.6 -2.2l1.5 -3.2l1.6 -3.4l1.5 -2.8l1.6 -2.1l1.5 -3.4l1.6 -3.1l1.5 -2.3l1.6 -2l1.5 -2.2l1.6 -2.1l1.5 -1.3l1.6 -1.3l1.5 0.2l1.6 -1.7l1.5 -0.3l1.6 -1.1l1.6 -1.1l1.5 0.2l1.6 -0.2l1.5 -0.1l1.6 0.7l1.5 0.5l1.6 0.4l1.5 0.3l1.6 1.2l1.5 1l1.6 2.3l1.5 1.7l1.6 1.5l1.5 1.8l1.6 3l1.5 2.4l1.6 1.1l1.5 2.7l1.6 1.9l1.5 2.2l1.6 1.1l1.5 3.1l1.6 0.7l1.5 2.2l1.6 1.9l1.5 2.6l1.6 1.6l1.5 1.4l1.6 2l1.5 2.3l1.6 1l1.5 1.1l1.6 2l1.5 1.2l1.6 0.5l1.5 1.3l1.6 0.4l1.5 -0.2l1.6 1.2l1.5 0.1l1.6 0.3l1.5 0l1.6 0.2l1.5 0.8l1.6 -1.3l1.5 -0.2l1.6 0.7l1.5 -0.7l1.6 0.4l1.5 -0.4l1.6 -0.5l1.5 -0.1l1.6 -0.4l1.5 0.4l1.6 -0.8l1.5 -0.1l1.6 -0.1l1.5 -0.8l1.6 0.3l1.6 -0.9l1.5 -0.4l1.6 -0.9l1.5 -0.9l1.6 -0.6l1.5 -0.2l1.6 -0.3l1.5 -0.8l1.6 -0.3l1.5 -1l1.6 -0.3l1.5 -0.6l1.6 -0.6l1.5 -1.6l1.6 0.6l1.5 -1l1.6 -1.2l1.5 0l1.6 -1.2l1.5 -0.2l1.6 -0.9l1.5 -1.5l1.6 -0.9l1.5 0.1l1.6 -0.9l1.5 -1.1l1.6 -1.7l1.5 -0.1l1.6 -0.6l1.5 -0.3l1.6 -1.5l1.5 -0.1l1.6 -1.7l1.5 -0.7l1.6 0.4l1.5 -1.3l1.6 -0.3l1.5 -0.3l1.6 -1.1l1.5 0.3l1.6 -1.3l1.5 -0.3l1.6 0.9l1.5 -1.5l1.6 1.1l1.5 -0.5l1.6 0.1l1.5 -0.6l1.6 -0.1l1.5 0.3l1.6 0.5l1.5 0.2l1.6 0.7l1.5 -0.2l1.6 0.3l1.5 0.6l1.6 0.9l1.6 0.2l1.5 0.9l1.6 1l1.5 -0.2l1.6 1.2l1.5 0.4l1.6 0.6l1.5 0.9l1.6 0.2l1.5 1.2l1.6 0.8l1.5 0.7l1.6 -0.1l1.5 0.9l1.6 1.3l1.5 0.3l1.6 0l1.5 1l1.6 0.6l1.5 0.4l1.6 0.4l1.5 1.1l1.6 0.1l1.5 0.2l1.6 0.7l1.5 0.3l1.6 1.4l1.5 -0.9l1.6 1.5l1.5 0.2l1.6 0.5l1.5 -0.7l1.6 1.1l1.5 -0.4l1.6 -0.3l1.5 0.7l1.6 0.5l1.5 -0.4l1.6 0.8l1.5 -0.7l1.6 -0.2l1.5 0.8l1.6 -0.3l1.5 0.1l1.6 -0.2l1.5 0.9l1.6 -0.7l1.5 0.2l1.6 -0.3l1.5 1l1.6 0l1.5 -0.1l1.6 0.2l1.5 -1l1.6 0.3l1.5 0.1l1.6 0.6l0 9.2l-1.6 0.1l-1.5 0.3l-1.6 0.9l-1.5 -0.4l-1.6 -0.1l-1.5 -0.8l-1.6 -0.3l-1.5 0.4l-1.6 -0.3l-1.5 0.7l-1.6 -1.3l-1.5 0.3l-1.6 -0.2l-1.5 0.2l-1.6 -0.3l-1.5 1.3l-1.6 -0.4l-1.5 -0.6l-1.6 0.3l-1.5 -1.4l-1.6 1l-1.5 -0.2l-1.6 0.2l-1.5 -1.3l-1.6 0.2l-1.5 -0.9l-1.6 -0.1l-1.5 -0.6l-1.6 0.9l-1.5 -1.8l-1.6 0.9l-1.5 -1.1l-1.6 -0.6l-1.5 -0.8l-1.6 -0.4l-1.5 -0.4l-1.6 -1.3l-1.5 0.2l-1.6 -0.8l-1.5 -1.8l-1.6 0.2l-1.5 -1.5l-1.6 -0.5l-1.5 -0.6l-1.6 -0.3l-1.5 -0.5l-1.6 -0.9l-1.5 -0.7l-1.6 -1l-1.5 -0.7l-1.6 -0.6l-1.5 -1.3l-1.6 -1l-1.5 -0.7l-1.6 -0.8l-1.5 -0.4l-1.6 -0.5l-1.6 0.2l-1.5 -0.8l-1.6 -0.6l-1.5 0.2l-1.6 -0.5l-1.5 -0.1l-1.6 -0.7l-1.5 0.8l-1.6 -1l-1.5 -0.1l-1.6 0l-1.5 -0.9l-1.6 1.5l-1.5 -1.5l-1.6 1.9l-1.5 0l-1.6 -1.1l-1.5 1l-1.6 0.9l-1.5 0.5l-1.6 0l-1.5 0.1l-1.6 2.5l-1.5 0.3l-1.6 -0.7l-1.5 1l-1.6 -0.2l-1.5 2.2l-1.6 0.2l-1.5 1.8l-1.6 0l-1.5 -0.4l-1.6 1l-1.5 1.2l-1.6 0.6l-1.5 1.1l-1.6 -0.2l-1.5 1.2l-1.6 0.4l-1.5 0.8l-1.6 0.4l-1.5 0.2l-1.6 1.9l-1.5 -0.3l-1.6 1.1l-1.5 0.6l-1.6 -0.5l-1.5 1.7l-1.6 -0.4l-1.5 0.3l-1.6 1.6l-1.5 0.7l-1.6 0l-1.5 0.7l-1.6 0.4l-1.5 -0.1l-1.6 0.2l-1.6 0.8l-1.5 1.1l-1.6 0.5l-1.5 1l-1.6 -0.7l-1.5 1.5l-1.6 0.3l-1.5 0.1l-1.6 -0.2l-1.5 -0.3l-1.6 0.8l-1.5 0.6l-1.6 0l-1.5 0.4l-1.6 -1.7l-1.5 1.5l-1.6 -0.2l-1.5 -0.1l-1.6 -0.6l-1.5 -0.3l-1.6 -1.2l-1.5 -0.2l-1.6 -1.1l-1.5 -1.1l-1.6 -0.5l-1.5 0l-1.6 -0.9l-1.5 -1.2l-1.6 -2.9l-1.5 -0.9l-1.6 -1l-1.5 -2.8l-1.6 -2.2l-1.5 -0.9l-1.6 -2.7l-1.5 -1.1l-1.6 -3.3l-1.5 -0.9l-1.6 -2.7l-1.5 -2.3l-1.6 -1.6l-1.5 -2.6l-1.6 -2.9l-1.5 -1.7l-1.6 -0.9l-1.5 -2.1l-1.6 -2.1l-1.5 -2.2l-1.6 -1.7l-1.5 -1.2l-1.6 -1.4l-1.5 -1.8l-1.6 -0.6l-1.5 0l-1.6 -0.4l-1.5 -0.8l-1.6 1l-1.5 -0.7l-1.6 0.2l-1.6 -0.5l-1.5 2l-1.6 0.3l-1.5 2.4l-1.6 2.6l-1.5 1.9l-1.6 3l-1.5 2.8l-1.6 3.3l-1.5 4.1l-1.6 3.9l-1.5 2.5l-1.6 4.8l-1.5 4.2l-1.6 3.1l-1.5 3.4l-1.6 2.5l-1.5 3.3l-1.6 2.8l-1.5 2.7l-1.6 2.6l-1.5 1.8l-1.6 1.5l-1.5 2.8l-1.6 2.2l-1.5 2.7l-1.6 2.2l-1.5 2l-1.6 1.6l-1.5 3.3l-1.6 2.9l-1.5 1.7l-1.6 2.7l-1.5 2l-1.6 1.7l-1.5 3l-1.6 1.5l-1.5 0.9l-1.6 1l-1.5 -0.2l-1.6 1l-1.5 -1.9l-1.6 0.5l-1.5 -2.8l-1.6 0.1l-1.5 -2.2l-1.6 -1.5l-1.5 -0.8l-1.6 -3.1l-1.5 -0.4l-1.6 -2.4l-1.5 -1.7l-1.6 -2.8l-1.5 -1.4l-1.6 -2.6l-1.5 -3.7l-1.6 -2.1l-1.6 -2.5l-1.5 -4l-1.6 -2.7l-1.5 -3.5l-1.6 -3.4l-1.5 -3l-1.6 -3.3l-1.5 -2.3l-1.6 -4l-1.5 -3l-1.6 -3.2l-1.5 -4.4l-1.6 -2.4l-1.5 -2l-1.6 -0.9l-1.5 -2.9l-1.6 -1.5l-1.5 -0.5l-1.6 -1l-1.5 0.2l-1.6 2.5l-1.5 2.9l-1.6 2.9l-1.5 3.9l-1.6 5.2l-1.5 3.5l-1.6 3.5l-1.5 3.6l-1.6 4.4l-1.5 2.3l-1.6 4.6l-1.5 4l-1.6 2.9l-1.5 3l-1.6 4.6l-1.5 2.3l-1.6 3.7l-1.5 3.3l-1.6 0.7l-1.5 -2.2l-1.6 -0.9l-1.5 0.3l-1.6 0.5l-1.5 2.2l-1.6 1.2l-1.5 1.2l-1.6 1.9l-1.5 2.7l-1.6 1.5l-1.5 1.6l-1.6 1.7l-1.5 3l-1.6 1.3l-1.5 3.3l-1.6 1l-1.5 2.7l-1.6 1.7l-1.6 3l-1.5 0.4l-1.6 0.8l-1.5 1.6l-1.6 -0.7l-1.5 -1.8l-1.6 -1.3l-1.5 -1.8l-1.6 -1.3l-1.5 -2.9l-1.6 -3.7l-1.5 -1l-1.6 -3.8l-1.5 -3l-1.6 -6.7l-1.5 -3.7l-1.6 -5.5l-1.5 -2.9l-1.6 -4.3l-1.5 -4.5l-1.6 -2.1l-1.5 -2.9l-1.6 -1.4l-1.5 1.6l-1.6 4.9l-1.5 5.3l-1.6 4.4l-1.5 4.8l-1.6 3.9l-1.5 7.1l-1.6 7.6l-1.5 8.8l-1.6 9.9l-1.5 8.9l-1.6 8.4l-1.5 9.2l-1.6 8.6l-1.5 5.4l-1.6 3.2l-1.5 4.5l-1.6 0.4l-1.5 -0.3l-1.6 -0.7l-1.5 -4.3l-1.6 -5.2l-1.5 -5l-1.6 -5.4l-1.5 -6l-1.6 -5.8l-1.5 -7.5l-1.6 -7.8l-1.5 -6.9l-1.6 -6.8l-1.5 -5.2l-1.6 -5.9l-1.5 -5.1l-1.6 -4.6l-0.5 -2.2l-0.5 -0.5l-0.5 0l-0.6 -2.8l-0.5 0l-0.5 -1.1l-0.5 -1l-0.5 1.3l-0.5 -1.1l-0.5 -0.4l-0.5 -0.3l-0.6 0.2l-0.5 -1.4l-0.5 -1.2l-0.5 0.9l-0.5 -0.7l-0.5 -0.3l-0.5 -0.3l-0.5 -0.3l-0.6 -0.3l-0.5 -0.4l-0.5 0l-0.5 1.4l-0.5 3.5l-0.5 4.8l-0.5 5l-0.5 6.3l-0.6 6.9l-0.5 6.5l-0.5 6.2l-0.5 6l-0.5 5.8l-0.5 6.2l-0.5 7.8l-0.5 12.9l-0.6 15.9l-0.5 12.7l-0.5 13l-0.5 13.1z" fill="#8a8a8a" fill-opacity="0.75" stroke="#8a8a8a" stroke-opacity="0.75" stroke-width="1"/>
<path d="M217 1806l0.5 -14.2l0.5 -14.3l0.5 -13.5l0.6 -14.3l0.5 -11.8l0.5 -9.2l0.5 -8.6l0.5 -8.3l0.5 -8.1l0.5 -7.7l0.5 -7.4l0.6 -6.9l0.5 -6.2l0.5 -5.2l0.5 -4.7l0.5 -3.5l0.5 -2l0.5 -0.7l0.5 -0.3l0.6 -0.1l0.5 0.1l0.5 0.2l0.5 0.4l0.5 0.6l0.5 0.1l0.5 1.2l0.5 1l0.6 0.4l0.5 1.1l0.5 0.8l0.5 1l0.5 0.2l0.5 0.9l0.5 1.5l0.5 0.8l0.6 1.9l0.5 0.9l0.5 0.9l0.5 1.9l1.6 5l1.5 5.4l1.6 5.9l1.5 5.3l1.6 6.8l1.5 6.5l1.6 7.6l1.5 7.2l1.6 5.9l1.5 6.1l1.6 5.4l1.5 5.2l1.6 3.8l1.5 3l1.6 0.2l1.5 -0.7l1.6 -1.8l1.5 -4.1l1.6 -4.5l1.5 -6.3l1.6 -8.3l1.5 -8.8l1.6 -8.5l1.5 -9.4l1.6 -10.1l1.5 -8.4l1.6 -7.5l1.5 -7l1.6 -5.1l1.5 -5.2l1.6 -4.5l1.5 -3.8l1.6 -2.5l1.5 0.2l1.6 2.6l1.5 3.6l1.6 3.5l1.5 4.9l1.6 4.9l1.5 4.2l1.6 5.6l1.5 4.9l1.6 5.8l1.5 3.4l1.6 3.7l1.5 2.1l1.6 3.2l1.5 2.6l1.6 2.1l1.5 1.6l1.6 1.6l1.5 1.7l1.6 0.8l1.5 -1l1.6 -0.9l1.5 -1.5l1.6 -2.4l1.6 -2.1l1.5 -2.1l1.6 -1.8l1.5 -2.6l1.6 -1.7l1.5 -3l1.6 -1.8l1.5 -2l1.6 -2.3l1.5 -2.9l1.6 -2l1.5 -2.1l1.6 -2.1l1.5 -2.3l1.6 -1.5l1.5 -1.6l1.6 -0.8l1.5 0l1.6 -1.6l1.5 -3.2l1.6 -3.7l1.5 -2.6l1.6 -3.8l1.5 -3l1.6 -3.3l1.5 -3.8l1.6 -3.6l1.5 -2.7l1.6 -3.8l1.5 -3.1l1.6 -3.3l1.5 -2.8l1.6 -4.1l1.5 -3.1l1.6 -2.4l1.5 -2l1.6 -1.6l1.5 0.2l1.6 0.6l1.5 0.5l1.6 1.4l1.5 1.8l1.6 1.6l1.5 1.9l1.6 3.1l1.5 4.6l1.6 4.3l1.5 4.1l1.6 4l1.5 3l1.6 3.2l1.5 3.3l1.6 3.5l1.5 3.2l1.6 3.3l1.5 3.6l1.6 2.7l1.6 2.6l1.5 3.5l1.6 2.6l1.5 1.9l1.6 2.6l1.5 2l1.6 2.5l1.5 1.1l1.6 2.5l1.5 1.2l1.6 1.7l1.5 1.7l1.6 0.6l1.5 1.5l1.6 0l1.5 0.9l1.6 -1.2l1.5 -0.3l1.6 -1.3l1.5 -1.2l1.6 -1.3l1.5 -2.4l1.6 -1.6l1.5 -1.8l1.6 -2.1l1.5 -1.9l1.6 -2.4l1.5 -2.4l1.6 -2.2l1.5 -1.8l1.6 -2.6l1.5 -2.5l1.6 -2.3l1.5 -3l1.6 -1.9l1.5 -2.4l1.6 -2.7l1.5 -2.8l1.6 -3.1l1.5 -3.1l1.6 -2.4l1.5 -3.3l1.6 -3.2l1.5 -3.8l1.6 -3.8l1.5 -2.8l1.6 -3.7l1.5 -3.4l1.6 -2.9l1.5 -2.5l1.6 -2.7l1.5 -1.7l1.6 -2.2l1.5 -1.5l1.6 -0.7l1.5 -1.4l1.6 -0.1l1.6 -0.6l1.5 0.6l1.6 -0.7l1.5 0.4l1.6 0.6l1.5 0.2l1.6 0.5l1.5 1.3l1.6 1.3l1.5 1.1l1.6 1.9l1.5 2l1.6 1.9l1.5 2l1.6 1.7l1.5 1.9l1.6 2.3l1.5 2.6l1.6 1.7l1.5 2.3l1.6 2.1l1.5 1.7l1.6 2.4l1.5 1.5l1.6 2.4l1.5 1.5l1.6 2l1.5 2.3l1.6 1.3l1.5 1.4l1.6 2.2l1.5 1.2l1.6 1.3l1.5 0.4l1.6 0.6l1.5 1.1l1.6 0.8l1.5 0.1l1.6 1.2l1.5 0.3l1.6 0.4l1.5 0.1l1.6 0.2l1.5 -0.7l1.6 0.7l1.5 -0.3l1.6 0.2l1.5 -0.7l1.6 -0.3l1.5 0l1.6 0l1.5 -0.1l1.6 -0.3l1.5 -0.9l1.6 0.2l1.5 -0.7l1.6 -0.3l1.5 -1l1.6 -0.5l1.6 -0.4l1.5 0l1.6 -0.7l1.5 -0.7l1.6 -0.2l1.5 -0.6l1.6 -1.1l1.5 -0.5l1.6 0.2l1.5 -1.5l1.6 0.3l1.5 -0.7l1.6 -0.9l1.5 -0.4l1.6 -1l1.5 -0.5l1.6 -0.6l1.5 -0.6l1.6 -0.7l1.5 -0.8l1.6 -0.2l1.5 -1.2l1.6 -0.7l1.5 -0.8l1.6 -1l1.5 -0.1l1.6 -0.6l1.5 -1.2l1.6 -0.3l1.5 -1.5l1.6 -0.4l1.5 -0.7l1.6 -0.2l1.5 -0.4l1.6 -1.5l1.5 -0.5l1.6 -0.1l1.5 -0.4l1.6 -1l1.5 -0.6l1.6 0.3l1.5 -0.1l1.6 -0.9l1.5 0.5l1.6 -0.6l1.5 0.3l1.6 0.1l1.5 -0.2l1.6 0.7l1.5 -0.5l1.6 0.7l1.5 0.1l1.6 0.5l1.5 -0.1l1.6 0.4l1.5 0.8l1.6 0.2l1.6 0.4l1.5 0.5l1.6 0.9l1.5 0.4l1.6 1.1l1.5 1l1.6 0.6l1.5 0.8l1.6 0.6l1.5 0.9l1.6 0.9l1.5 0.6l1.6 0.2l1.5 0.6l1.6 0.8l1.5 1.1l1.6 -0.1l1.5 1.5l1.6 0.7l1.5 0l1.6 1l1.5 0.6l1.6 0.4l1.5 0.6l1.6 0.6l1.5 0.8l1.6 -0.1l1.5 0.9l1.6 -0.1l1.5 0.5l1.6 0.2l1.5 0.3l1.6 0.3l1.5 0.7l1.6 -0.3l1.5 0.4l1.6 -0.4l1.5 0.8l1.6 0l1.5 0.2l1.6 0.1l1.5 -0.5l1.6 0l1.5 0l1.6 0l1.5 0.2l1.6 0.6l1.5 -0.4l1.6 0l1.5 0.1l1.6 0.3l1.5 0.5l1.6 0l1.5 0l1.6 -0.5l1.5 -0.1l1.6 0.1" fill="none" stroke="#c9bd2b" stroke-width="5.8" stroke-linejoin="round" stroke-linecap="round"/>
<path d="M217 1805.6l0.5 -16l0.5 -15.9l0.5 -14.7l0.6 -11.9l0.5 -10.3l0.5 -11.2l0.5 -12l0.5 -11.9l0.5 -11.1l0.5 -10l0.5 -8.6l0.6 -6.9l0.5 -6l0.5 -5.5l0.5 -4.5l0.5 -3.6l0.5 -2.7l0.5 -1.9l0.5 -1.2l0.6 -0.7l0.5 -0.2l0.5 0.1l0.5 0.5l0.5 0.3l0.5 1.6l0.5 1.3l0.5 0.4l0.6 1.3l0.5 2.2l0.5 1.2l0.5 1l0.5 2.3l0.5 1l0.5 2.1l0.5 1.7l0.6 0.6l0.5 2.4l0.5 1.5l0.5 1.4l1.6 5.4l1.5 5.8l1.6 6l1.5 5.6l1.6 6.6l1.5 5.9l1.6 7.4l1.5 6.8l1.6 6.2l1.5 6.1l1.6 5.3l1.5 5.4l1.6 2l1.5 1.1l1.6 -0.5l1.5 -2.2l1.6 -3.7l1.5 -3.7l1.6 -6.2l1.5 -7.7l1.6 -7.8l1.5 -8.3l1.6 -8.6l1.5 -10.1l1.6 -10.3l1.5 -7.9l1.6 -7.5l1.5 -6.7l1.6 -7l1.5 -5.7l1.6 -4.4l1.5 -1.8l1.6 1.1l1.5 2.6l1.6 4.2l1.5 4.6l1.6 5.6l1.5 5.5l1.6 5.7l1.5 6.2l1.6 5.7l1.5 6.5l1.6 4.6l1.5 4l1.6 3.6l1.5 3.4l1.6 2.8l1.5 2.1l1.6 3.3l1.5 1.2l1.6 2l1.5 1.6l1.6 0.9l1.5 -0.1l1.6 -1.2l1.5 -2.8l1.6 -1.6l1.6 -2.6l1.5 -1.4l1.6 -2.9l1.5 -1.7l1.6 -2.1l1.5 -3.2l1.6 -1.8l1.5 -2.7l1.6 -3.3l1.5 -3.1l1.6 -2.4l1.5 -3.3l1.6 -3.5l1.5 -2.4l1.6 -2.9l1.5 -3.4l1.6 -3.2l1.5 -3.3l1.6 -2.8l1.5 -2.9l1.6 -3.7l1.5 -3.2l1.6 -2.6l1.5 -3.1l1.6 -3.7l1.5 -3.5l1.6 -2.3l1.5 -3.2l1.6 -2.9l1.5 -2.4l1.6 -3.1l1.5 -1.9l1.6 -2.5l1.5 -1.8l1.6 -1.7l1.5 -0.7l1.6 -0.4l1.5 0.8l1.6 0.1l1.5 0.5l1.6 1.1l1.5 0.4l1.6 2.4l1.5 2l1.6 3.9l1.5 5l1.6 5.9l1.5 5.5l1.6 4l1.5 4.1l1.6 2.9l1.5 3.8l1.6 3.8l1.5 2.7l1.6 4.1l1.5 3l1.6 3l1.6 3.5l1.5 3.1l1.6 2.7l1.5 2.5l1.6 2.3l1.5 2.5l1.6 2.6l1.5 2.2l1.6 1.5l1.5 1.9l1.6 1.9l1.5 1.1l1.6 1.3l1.5 -0.3l1.6 0.8l1.5 -0.6l1.6 -1.3l1.5 -1.1l1.6 -1.8l1.5 -1.5l1.6 -1.1l1.5 -1.4l1.6 -1.6l1.5 -1.5l1.6 -1.2l1.5 -2.1l1.6 -1.8l1.5 -1.3l1.6 -2.8l1.5 -1.6l1.6 -3.1l1.5 -2.3l1.6 -2.3l1.5 -3.3l1.6 -2.6l1.5 -3.2l1.6 -2.8l1.5 -2.9l1.6 -3.6l1.5 -2.9l1.6 -2.2l1.5 -3.2l1.6 -3.4l1.5 -3l1.6 -2.5l1.5 -3.2l1.6 -3.3l1.5 -2.5l1.6 -2.3l1.5 -2.2l1.6 -2.3l1.5 -1.4l1.6 -1.4l1.5 -0.3l1.6 -1.4l1.5 -0.6l1.6 -0.9l1.6 -1l1.5 0.3l1.6 -0.2l1.5 0l1.6 0.7l1.5 0.3l1.6 0.4l1.5 0.6l1.6 1.2l1.5 1.1l1.6 2.1l1.5 1.8l1.6 1.6l1.5 1.9l1.6 2.7l1.5 2.3l1.6 1.4l1.5 2.6l1.6 1.9l1.5 2.2l1.6 1.3l1.5 2.8l1.6 1.1l1.5 2l1.6 2l1.5 2.4l1.6 1.7l1.5 1.6l1.6 1.9l1.5 2l1.6 1.3l1.5 1.1l1.6 1.9l1.5 1l1.6 0.5l1.5 1.2l1.6 0.5l1.5 -0.1l1.6 1.2l1.5 0.2l1.6 0.3l1.5 0l1.6 0.2l1.5 0.4l1.6 -0.7l1.5 -0.3l1.6 0.6l1.5 -0.7l1.6 0.3l1.5 -0.4l1.6 -0.3l1.5 -0.2l1.6 -0.4l1.5 0.2l1.6 -0.6l1.5 -0.2l1.6 -0.2l1.5 -0.8l1.6 0.1l1.6 -0.8l1.5 -0.3l1.6 -0.9l1.5 -0.9l1.6 -0.4l1.5 -0.3l1.6 -0.5l1.5 -0.7l1.6 -0.2l1.5 -1.1l1.6 -0.2l1.5 -0.6l1.6 -0.7l1.5 -1.3l1.6 0.2l1.5 -0.9l1.6 -1l1.5 -0.2l1.6 -1l1.5 -0.4l1.6 -0.7l1.5 -1.5l1.6 -0.8l1.5 -0.2l1.6 -0.9l1.5 -0.8l1.6 -1.5l1.5 -0.4l1.6 -0.5l1.5 -0.5l1.6 -1.3l1.5 -0.2l1.6 -1.4l1.5 -0.6l1.6 -0.1l1.5 -1.1l1.6 -0.2l1.5 -0.4l1.6 -1l1.5 0.1l1.6 -0.9l1.5 -0.3l1.6 0.5l1.5 -1.1l1.6 0.8l1.5 -0.4l1.6 0.2l1.5 -0.5l1.6 0l1.5 0.2l1.6 0.5l1.5 0.1l1.6 0.7l1.5 -0.2l1.6 0.3l1.5 0.7l1.6 0.7l1.6 0.3l1.5 0.8l1.6 0.9l1.5 0l1.6 1.2l1.5 0.5l1.6 0.6l1.5 0.9l1.6 0.3l1.5 1.1l1.6 0.9l1.5 0.6l1.6 0l1.5 0.8l1.6 1.2l1.5 0.4l1.6 0.1l1.5 1.1l1.6 0.6l1.5 0.3l1.6 0.6l1.5 1l1.6 0.1l1.5 0.3l1.6 0.7l1.5 0.4l1.6 1l1.5 -0.5l1.6 1.2l1.5 0.2l1.6 0.5l1.5 -0.4l1.6 0.9l1.5 -0.2l1.6 -0.3l1.5 0.7l1.6 0.2l1.5 -0.1l1.6 0.6l1.5 -0.5l1.6 -0.1l1.5 0.5l1.6 -0.3l1.5 0.2l1.6 -0.2l1.5 0.7l1.6 -0.4l1.5 0.1l1.6 -0.2l1.5 0.7l1.6 0.1l1.5 0l1.6 0.2l1.5 -0.7l1.6 0.1l1.5 0l1.6 0.5" fill="none" stroke="#e8336e" stroke-width="4.4" stroke-linejoin="round" stroke-linecap="round"/>
<rect x="883.5" y="1193.1" width="609.9" height="624.4" fill="none" stroke="#000" stroke-width="1.8"/>
<line x1="1041" y1="1817.5" x2="1041" y2="1829.5" stroke="#000" stroke-width="1.8"/>
<line x1="1231.8" y1="1817.5" x2="1231.8" y2="1824.5" stroke="#000" stroke-width="1.8"/>
<line x1="1422.5" y1="1817.5" x2="1422.5" y2="1829.5" stroke="#000" stroke-width="1.8"/>
<g transform="translate(1004,1857.8) scale(1.0000,1) translate(-1.32,0)" fill="#1a1718"><text x="0" y="0" font-size="30.3">8400</text></g>
<g transform="translate(1386.75,1857.8) scale(1.0000,1) translate(-1.32,0)" fill="#1a1718"><text x="0" y="0" font-size="30.3">8600</text></g>
<g transform="translate(1128,1902.3) scale(0.9343,1) translate(-2.85,0)" font-weight="normal" fill="#1a1718"><text x="0" y="0" font-size="34.7">Energy (eV)</text></g>
<g transform="translate(912.7,1259.7) scale(0.7962,1) translate(-3.01,0)" font-weight="bold" fill="#000"><text x="0" y="0" font-size="45.06">F</text></g>
<g transform="translate(1390,1376.2) scale(0.9832,1) translate(-0.7,0)" font-weight="normal" fill="#1a1718"><text x="0" y="0" font-size="30.6">4.4 nm</text></g>
<g transform="translate(1385.8,1532) scale(0.9879,1) translate(-1.54,0)" font-weight="normal" fill="#1a1718"><text x="0" y="0" font-size="30.6">2.1 nm</text></g>
<g transform="translate(1384.6,1702.5) scale(0.9910,1) translate(-2.33,0)" font-weight="normal" fill="#1a1718"><text x="0" y="0" font-size="30.6">1.2 nm</text></g>
<line x1="951.4" y1="1194.1" x2="951.4" y2="1816.5" stroke="#555555" stroke-width="2.7" stroke-dasharray="24.2,19.45" stroke-dashoffset="16.7"/>
<line x1="979.6" y1="1194.1" x2="979.6" y2="1816.5" stroke="#555555" stroke-width="2.7" stroke-dasharray="24.2,19.45" stroke-dashoffset="16.7"/>
<path d="M942.7 1471.8l0.5 -9.1l0.5 -8.9l0.5 -11.1l0.6 -17.1l0.5 -23.4l0.5 -19.8l0.5 -12l0.5 -7.5l0.5 -5.8l0.5 -5.5l0.5 -6.8l0.6 -9.6l0.5 -12.5l0.5 -13.3l0.5 -11.9l0.5 -9.2l0.5 -7.2l0.5 -6.4l0.5 -5.7l0.6 -4.9l0.5 -4.3l0.5 -3.4l0.5 -2.4l0.5 -0.7l0.5 0.3l0.5 1.5l0.5 2.1l0.6 3.6l0.5 3.7l0.5 3.8l0.5 3l0.5 3.3l0.5 2.9l0.5 2.6l0.5 3.8l0.6 3.9l0.5 3.4l0.5 2.9l0.5 3.4l1.5 10l1.6 10.8l1.5 10.7l1.6 10.1l1.5 9.9l1.6 8.8l1.5 6.3l1.6 5.3l1.5 3.7l1.6 2.6l1.5 1.8l1.6 1.2l1.5 1.8l1.6 0.1l1.5 0.2l1.6 -0.2l1.5 -2.6l1.6 -3.2l1.5 -2.2l1.6 -3.2l1.5 -3.7l1.6 -2.9l1.5 -3.7l1.6 -3.1l1.5 -1.4l1.6 -1.1l1.5 -1.1l1.6 0.8l1.5 0.3l1.6 2.3l1.5 1.7l1.6 2.2l1.5 3.5l1.6 3l1.5 2.9l1.6 2.3l1.5 3.2l1.6 2.9l1.5 1.6l1.6 1.5l1.5 1.1l1.6 -0.3l1.5 -1.1l1.6 -0.9l1.5 -0.3l1.6 -1.3l1.5 -2.5l1.6 -1.4l1.5 -2.7l1.6 -2.5l1.5 -2.6l1.6 -2.5l1.5 -2.7l1.6 -3.8l1.5 -2.6l1.6 -3.2l1.5 -2.8l1.5 -3l1.6 -3.3l1.5 -3.1l1.6 -2.5l1.5 -3.3l1.6 -3l1.5 -2.9l1.6 -3.6l1.5 -3.3l1.6 -3.4l1.5 -2.2l1.6 -3.3l1.5 -3.3l1.6 -2l1.5 -2.4l1.6 -2.8l1.5 -2.3l1.6 -2.1l1.5 -1.3l1.6 -2.4l1.5 -1.6l1.6 -0.7l1.5 -1.7l1.6 -0.9l1.5 -1.1l1.6 -0.3l1.5 0.5l1.6 -0.3l1.5 0.6l1.6 0.4l1.5 0.7l1.6 2.4l1.5 0.8l1.6 1.4l1.5 2.1l1.6 2.1l1.5 1.9l1.6 2.1l1.5 1.5l1.6 2.3l1.5 2.1l1.6 2.1l1.5 2l1.6 2.6l1.5 2.7l1.6 2.7l1.5 2.5l1.6 3.2l1.5 1.8l1.6 1.9l1.5 2l1.6 1.4l1.5 2.3l1.6 2.4l1.5 2l1.6 1.4l1.5 1.4l1.5 2.4l1.6 1.2l1.5 1.6l1.6 0.2l1.5 0.8l1.6 1.1l1.5 -0.8l1.6 0.5l1.5 -1.7l1.6 -0.8l1.5 -0.6l1.6 -1.6l1.5 -1.6l1.6 -1.8l1.5 -1.9l1.6 -2.4l1.5 -1l1.6 -1.8l1.5 -2l1.6 -1.8l1.5 -1.7l1.6 -1.2l1.5 -1.9l1.6 -2.3l1.5 -1l1.6 -2.2l1.5 -1.9l1.6 -1.3l1.5 -2l1.6 -2.1l1.5 -1.7l1.6 -1.2l1.5 -2l1.6 -2.2l1.5 -0.8l1.6 -1.4l1.5 -1.4l1.6 -2.1l1.5 -0.9l1.6 -1.4l1.5 -1.5l1.6 -2.2l1.5 -0.8l1.6 -0.7l1.5 -1.5l1.6 -0.8l1.5 -1.5l1.6 0l1.5 -0.1l1.6 -0.4l1.5 -0.5l1.6 0l1.5 1.1l1.6 0.4l1.5 1.3l1.6 0.6l1.5 1l1.5 0.9l1.6 1.1l1.5 1.8l1.6 1.2l1.5 2l1.6 1.4l1.5 0.4l1.6 2l1.5 0.8l1.6 1.4l1.5 0.7l1.6 0.8l1.5 1.1l1.6 1.5l1.5 0.5l1.6 1l1.5 1.6l1.6 1.4l1.5 0.1l1.6 1.9l1.5 0.3l1.6 1.1l1.5 1.2l1.6 1.2l1.5 1.8l1.6 1.4l1.5 1.4l1.6 1.1l1.5 0.9l1.6 0.7l1.5 0.1l1.6 -0.1l1.5 -0.4l1.6 -0.5l1.5 0.1l1.6 -0.6l1.5 -1.1l1.6 -0.8l1.5 -0.6l1.6 -0.6l1.5 -0.4l1.6 -1.5l1.5 -1.1l1.6 -0.3l1.5 -1.1l1.6 -0.2l1.5 -1.5l1.6 0.1l1.5 -1.2l1.6 -1.3l1.5 0.2l1.6 -1.3l1.5 -0.3l1.6 -0.7l1.5 -0.8l1.6 -0.7l1.5 0l1.5 -0.6l1.6 -1l1.5 -0.5l1.6 -0.2l1.5 -0.8l1.6 -0.2l1.5 0.2l1.6 -0.5l1.5 -0.6l1.6 -0.4l1.5 0l1.6 -0.7l1.5 0.3l1.6 -1.1l1.5 0.7l1.6 -1.1l1.5 0.1l1.6 0.3l1.5 -0.6l1.6 -0.9l1.5 0.2l1.6 0l1.5 -0.9l1.6 -0.1l1.5 0.8l1.6 -1.1l1.5 -0.1l1.6 0l1.5 0.5l1.6 0.3l1.5 -0.7l1.6 0.4l1.5 0.7l1.6 0.1l1.5 0.3l1.6 0.8l1.5 0.8l1.6 -0.2l1.5 0.5l1.6 0.7l1.5 0.3l1.6 1.2l1.5 0.1l1.6 0.6l1.5 0.3l1.6 0.3l1.5 0.6l1.6 0l1.5 1.2l1.6 -0.1l1.5 1l1.6 0.3l1.5 0.1l1.6 -0.1l1.5 0.4l1.6 1.1l1.5 -0.4l1.5 0.4l1.6 0.8l1.5 0.6l1.6 -0.5l1.5 0.3l1.6 0.1l1.5 1.1l1.6 0.2l1.5 0l1.6 0.1l1.5 0.3l1.6 -0.2l1.5 -0.1l1.6 0.6l1.5 -0.4l1.6 0.3l1.5 0.8l1.6 -0.1l1.5 -0.7l1.6 0.2l1.5 0.8l1.6 -0.3l1.5 0l1.6 -0.2l1.5 -0.3l1.6 0.9l1.5 -0.9l1.6 1l1.5 0l1.6 -0.5l1.5 -0.1l1.6 0.2l1.5 0.4l1.6 -0.7l1.5 0.1l1.6 0.6l1.5 -0.7l1.6 0l1.5 -0.1l1.6 0l1.5 0.7l1.6 -0.5l1.5 0.1l1.6 0.2l1.5 -0.1l1.6 -0.7l1.5 -0.3l1.6 0.2l1.5 -0.1l1.6 0.4l1.5 -0.1l1.6 -0.3l1.5 0l1.6 -0.5l1.5 0.2l1.6 -0.1l1.5 -0.4l0 5.5l-1.5 -0.4l-1.6 1l-1.5 0l-1.6 0.7l-1.5 0.3l-1.6 0.5l-1.5 0.7l-1.6 1.1l-1.5 0.3l-1.6 0.6l-1.5 0.9l-1.6 -0.2l-1.5 0.1l-1.6 0.4l-1.5 0.4l-1.6 0.9l-1.5 0.1l-1.6 0.2l-1.5 -0.4l-1.6 -0.5l-1.5 -0.3l-1.6 -0.8l-1.5 -0.5l-1.6 -1l-1.5 -0.6l-1.6 -0.6l-1.5 -1.1l-1.6 -0.6l-1.5 -0.5l-1.6 -0.9l-1.5 -1.6l-1.6 -0.4l-1.5 -2l-1.6 -0.2l-1.5 -1.5l-1.6 -1.7l-1.5 0.1l-1.6 -1l-1.5 -1.8l-1.6 -1.1l-1.5 -1.2l-1.6 -0.9l-1.5 -1.2l-1.6 -0.2l-1.5 -1l-1.6 -2.4l-1.5 -1.1l-1.6 -1.3l-1.5 -0.9l-1.6 -1.5l-1.5 -1.4l-1.6 -1.4l-1.5 -1l-1.6 -1.3l-1.5 -1.2l-1.6 -1l-1.5 -0.5l-1.5 -0.6l-1.6 -1.1l-1.5 -0.4l-1.6 0.2l-1.5 -0.6l-1.6 -0.8l-1.5 0.3l-1.6 0.9l-1.5 0.1l-1.6 0.4l-1.5 0.8l-1.6 0.5l-1.5 0.9l-1.6 0.8l-1.5 0.3l-1.6 1.2l-1.5 0.9l-1.6 1.6l-1.5 1.5l-1.6 0.6l-1.5 1l-1.6 0.9l-1.5 1.6l-1.6 0.5l-1.5 1.1l-1.6 1.7l-1.5 0.5l-1.6 0.9l-1.5 1l-1.6 1.2l-1.5 0.9l-1.6 1.4l-1.5 1.2l-1.6 0.9l-1.5 -0.1l-1.6 1l-1.5 1.6l-1.6 1.1l-1.5 -0.1l-1.6 1.6l-1.5 0.8l-1.6 1.1l-1.5 1.1l-1.6 0.8l-1.5 1.5l-1.6 1l-1.5 0l-1.6 1.3l-1.5 1.2l-1.6 0.8l-1.5 1.3l-1.6 0.9l-1.5 0.3l-1.6 1.5l-1.5 0.5l-1.6 1.5l-1.5 0.2l-1.5 1.9l-1.6 1l-1.5 0.6l-1.6 0.7l-1.5 1l-1.6 1.1l-1.5 1.9l-1.6 0.4l-1.5 0.9l-1.6 1.9l-1.5 1.2l-1.6 0.7l-1.5 1.2l-1.6 0.8l-1.5 0.9l-1.6 -0.2l-1.5 1l-1.6 -0.2l-1.5 0.9l-1.6 -0.9l-1.5 -0.5l-1.6 -0.5l-1.5 -1.4l-1.6 -1.5l-1.5 -2.5l-1.6 -2.2l-1.5 -3.2l-1.6 -1.8l-1.5 -3.3l-1.6 -2.4l-1.5 -3.1l-1.6 -2.6l-1.5 -3.5l-1.6 -3.2l-1.5 -3.1l-1.6 -4.7l-1.5 -2.8l-1.6 -3.8l-1.5 -5.4l-1.6 -3.4l-1.5 -4.2l-1.6 -3.8l-1.5 -5.2l-1.6 -3.8l-1.5 -3l-1.6 -4.3l-1.5 -3.1l-1.6 -2.3l-1.5 -3.8l-1.6 -1.4l-1.5 -3.3l-1.6 -1.3l-1.5 -2.3l-1.6 -1.2l-1.5 -2.1l-1.6 -0.9l-1.5 -1l-1.5 -1.4l-1.6 0.6l-1.5 -0.3l-1.6 1.6l-1.5 2.3l-1.6 2.6l-1.5 2.7l-1.6 4.7l-1.5 4.9l-1.6 4.2l-1.5 4.3l-1.6 4.4l-1.5 3.3l-1.6 3.9l-1.5 3.8l-1.6 2.3l-1.5 3.8l-1.6 3.7l-1.5 2.8l-1.6 3.2l-1.5 3.7l-1.6 4.3l-1.5 2.6l-1.6 4.4l-1.5 3.7l-1.6 3.3l-1.5 3.4l-1.6 3.5l-1.5 4l-1.6 2.7l-1.5 4.2l-1.6 2.7l-1.5 4l-1.6 2.7l-1.5 3.6l-1.6 2.8l-1.5 2.5l-1.6 2.7l-1.5 3.3l-1.6 2.6l-1.5 3.3l-1.6 2.4l-1.5 2.6l-1.6 0l-1.5 0l-1.6 -0.6l-1.5 -1.3l-1.6 -1.9l-1.5 -3.5l-1.6 -1.7l-1.5 -3.4l-1.6 -2.2l-1.5 -2.5l-1.6 -3.8l-1.5 -2.3l-1.6 -3.8l-1.5 -3.3l-1.5 -3.7l-1.6 -4l-1.5 -4.8l-1.6 -3.9l-1.5 -3.9l-1.6 -4.9l-1.5 -5.6l-1.6 -4.1l-1.5 -4.7l-1.6 -5l-1.5 -4.5l-1.6 -5.7l-1.5 -4.6l-1.6 -4.2l-1.5 -4.5l-1.6 -4.7l-1.5 -4.5l-1.6 -5l-1.5 -3.5l-1.6 -2.3l-1.5 -1l-1.6 -0.2l-1.5 0.7l-1.6 0.1l-1.5 1.1l-1.6 2.6l-1.5 1.9l-1.6 1.3l-1.5 2.4l-1.6 1.2l-1.5 3.3l-1.6 2.1l-1.5 2.7l-1.6 3.9l-1.5 3.1l-1.6 4.1l-1.5 3.3l-1.6 3.7l-1.5 3.9l-1.6 3l-1.5 2.8l-1.6 3.1l-1.5 3.8l-1.6 3.5l-1.5 3.4l-1.6 4l-1.5 5.5l-1.6 5.5l-1.5 6.2l-1.6 6.7l-1.5 7.1l-1.6 6l-1.5 6.8l-1.6 5.2l-1.5 4.1l-1.6 2.3l-1.5 2.4l-1.5 0.1l-1.6 -1l-1.5 -1.2l-1.6 -0.4l-1.5 -1.4l-1.6 -0.3l-1.5 -1.1l-1.6 -0.5l-1.5 -2.6l-1.6 -1.2l-1.5 -4l-1.6 -4.3l-1.5 -6.1l-1.6 -6.3l-1.5 -7.8l-1.6 -7.7l-1.5 -6.6l-1.6 -6.5l-1.5 -7.2l-1.6 -6.5l-1.5 -6.2l-1.6 -5.5l-1.5 -5.6l-1.6 -4l-1.5 -1.6l-1.6 2.6l-1.5 4.6l-1.6 7.2l-1.5 6.4l-1.6 8.8l-1.5 10.8l-1.6 11.8l-1.5 11.1l-1.6 11.2l-1.5 10l-1.6 9.6l-1.5 7.2l-1.6 7l-1.5 6.4l-1.6 4.6l-1.5 4.2l-1.6 2.7l-1.5 -0.8l-1.6 -3.4l-1.5 -4.4l-1.6 -5l-1.5 -4.7l-1.6 -6.2l-1.5 -7.5l-1.6 -7.1l-1.5 -6.5l-1.6 -6.9l-1.5 -4.8l-1.6 -4l-1.5 -4.1l-1.6 -2.6l-1.5 -2.9l-0.5 -0.2l-0.5 -1.2l-0.5 0.5l-0.6 -1.1l-0.5 0.4l-0.5 -1l-0.5 0.4l-0.5 -0.3l-0.5 0.1l-0.5 0.2l-0.5 0.6l-0.6 0.8l-0.5 -0.7l-0.5 0.2l-0.5 0.5l-0.5 -0.1l-0.5 -0.2l-0.5 -0.6l-0.5 -0.8l-0.6 -0.9l-0.5 -0.9l-0.5 -0.5l-0.5 0.1l-0.5 1.2l-0.5 2.5l-0.5 6.1l-0.5 9.8l-0.6 13.1l-0.5 16.8l-0.5 17l-0.5 14.8l-0.5 11.5l-0.5 8.6l-0.5 6l-0.5 4.9l-0.6 5.5l-0.5 6.4l-0.5 6.9l-0.5 7.2z" fill="#8a8a8a" fill-opacity="0.92" stroke="#8a8a8a" stroke-opacity="0.92" stroke-width="1"/>
<path d="M942.7 1473.1l0.5 -8.5l0.5 -8.3l0.5 -9.7l0.6 -13.6l0.5 -17.8l0.5 -15.7l0.5 -10.9l0.5 -8.8l0.5 -8.4l0.5 -9l0.5 -9.8l0.6 -10.7l0.5 -11.7l0.5 -11.1l0.5 -9.1l0.5 -6.8l0.5 -5l0.5 -4.3l0.5 -3.7l0.6 -3.2l0.5 -2.7l0.5 -2.2l0.5 -1.6l0.5 -0.5l0.5 0.1l0.5 0.9l0.5 1.7l0.6 2.3l0.5 2.4l0.5 2.6l0.5 2l0.5 2.4l0.5 1.9l0.5 2.2l0.5 2.5l0.6 3l0.5 2.3l0.5 2.4l0.5 2.4l1.5 7.9l1.6 8.3l1.5 8.7l1.6 8.3l1.5 8.3l1.6 8.2l1.5 6.5l1.6 5.7l1.5 4.9l1.6 3.7l1.5 2.6l1.6 2.4l1.5 2.6l1.6 1.1l1.5 0.4l1.6 -1l1.5 -3.1l1.6 -3.6l1.5 -3.4l1.6 -4.4l1.5 -4.8l1.6 -4.9l1.5 -5.6l1.6 -5.5l1.5 -4.4l1.6 -4.3l1.5 -4l1.6 -2.1l1.5 -1.7l1.6 -0.6l1.5 -0.2l1.6 0.8l1.5 2.8l1.6 3.4l1.5 3.7l1.6 3.3l1.5 4.1l1.6 4l1.5 3.3l1.6 2.9l1.5 2.9l1.6 2l1.5 1.6l1.6 1.3l1.5 1.6l1.6 0.4l1.5 -0.5l1.6 -0.6l1.5 -1.2l1.6 -1.6l1.5 -1.4l1.6 -1.7l1.5 -1.5l1.6 -2.5l1.5 -1.4l1.6 -2l1.5 -2l1.5 -2.8l1.6 -3l1.5 -3.4l1.6 -3.3l1.5 -4.4l1.6 -3.8l1.5 -4.2l1.6 -4.6l1.5 -4.1l1.6 -4.1l1.5 -3.2l1.6 -3.5l1.5 -3.3l1.6 -2.5l1.5 -2.8l1.6 -2.9l1.5 -2.4l1.6 -2.4l1.5 -2.1l1.6 -2.8l1.5 -2.1l1.6 -1.7l1.5 -2.1l1.6 -1.8l1.5 -1.6l1.6 -0.8l1.5 -0.7l1.6 -0.6l1.5 -0.3l1.6 -0.1l1.5 -0.1l1.6 0.9l1.5 0.3l1.6 0.9l1.5 1.3l1.6 1.5l1.5 1.7l1.6 2.1l1.5 2.1l1.6 3.1l1.5 2.8l1.6 2.9l1.5 2.7l1.6 3.1l1.5 3.3l1.6 3.6l1.5 3.1l1.6 3.8l1.5 2.6l1.6 2.6l1.5 3.1l1.6 2.4l1.5 2.8l1.6 2.9l1.5 2.8l1.6 2.2l1.5 2.1l1.5 2.7l1.6 1.9l1.5 1.8l1.6 1.4l1.5 1.2l1.6 1.5l1.5 0.4l1.6 0.9l1.5 -0.1l1.6 0l1.5 0l1.6 -1l1.5 -1.1l1.6 -1.2l1.5 -2.1l1.6 -2.4l1.5 -1.7l1.6 -2.1l1.5 -2.4l1.6 -2l1.5 -2l1.6 -1.7l1.5 -2.4l1.6 -2.4l1.5 -1.9l1.6 -2.4l1.5 -2.6l1.6 -1.7l1.5 -2.6l1.6 -2.5l1.5 -2.2l1.6 -1.9l1.5 -2.5l1.6 -2.8l1.5 -1.4l1.6 -2.2l1.5 -2.1l1.6 -2.5l1.5 -1.5l1.6 -2l1.5 -2.2l1.6 -2.2l1.5 -1.8l1.6 -1.7l1.5 -2l1.6 -1.9l1.5 -2.3l1.6 -1.3l1.5 -1.5l1.6 -1.7l1.5 -1.2l1.6 -0.8l1.5 0.1l1.6 -0.2l1.5 1l1.6 0.2l1.5 1.2l1.5 0.9l1.6 1.1l1.5 1.8l1.6 1.2l1.5 2.1l1.6 1.4l1.5 1.3l1.6 1.8l1.5 1.7l1.6 1.6l1.5 1.5l1.6 1.8l1.5 1.7l1.6 2.2l1.5 1.9l1.6 1.9l1.5 2.3l1.6 2l1.5 1.8l1.6 2.4l1.5 1l1.6 2.3l1.5 1.8l1.6 1.7l1.5 2.4l1.6 1.8l1.5 1.9l1.6 1.4l1.5 1.6l1.6 1l1.5 1.1l1.6 0.6l1.5 0.5l1.6 0.1l1.5 0.5l1.6 -0.3l1.5 -0.6l1.6 -0.3l1.5 -0.6l1.6 -0.5l1.5 -0.5l1.6 -1l1.5 -1l1.6 -0.5l1.5 -1.1l1.6 -0.4l1.5 -1.4l1.6 -0.5l1.5 -1.1l1.6 -1l1.5 -0.4l1.6 -1.3l1.5 -0.5l1.6 -0.7l1.5 -0.8l1.6 -0.7l1.5 -0.6l1.5 -0.5l1.6 -1.1l1.5 -0.5l1.6 -0.6l1.5 -0.7l1.6 -0.4l1.5 -0.3l1.6 -0.5l1.5 -0.8l1.6 -0.7l1.5 0l1.6 -0.8l1.5 -0.3l1.6 -1l1.5 0.2l1.6 -1.1l1.5 -0.1l1.6 -0.4l1.5 -0.3l1.6 -1l1.5 -0.3l1.6 -0.3l1.5 -0.6l1.6 -0.4l1.5 0.2l1.6 -1.2l1.5 -0.3l1.6 -0.4l1.5 0.1l1.6 -0.1l1.5 -0.6l1.6 -0.3l1.5 0.2l1.6 -0.1l1.5 -0.2l1.6 0.2l1.5 0.3l1.6 -0.3l1.5 -0.2l1.6 0.1l1.5 -0.1l1.6 0.5l1.5 0l1.6 0.2l1.5 -0.2l1.6 0.1l1.5 0.3l1.6 -0.2l1.5 0.8l1.6 -0.3l1.5 0.6l1.6 0.4l1.5 0.3l1.6 -0.1l1.5 0.3l1.6 1.2l1.5 -0.2l1.5 0.4l1.6 0.9l1.5 0.8l1.6 0l1.5 0.5l1.6 0.6l1.5 1.1l1.6 0.7l1.5 0.2l1.6 0.5l1.5 0.5l1.6 0.6l1.5 0.3l1.6 0.4l1.5 0.1l1.6 0.5l1.5 0.9l1.6 0.3l1.5 0l1.6 0.5l1.5 0.5l1.6 0.3l1.5 0.4l1.6 0l1.5 0.4l1.6 0.7l1.5 -0.1l1.6 0.9l1.5 0.2l1.6 -0.2l1.5 0.3l1.6 0.3l1.5 0.5l1.6 -0.2l1.5 0.2l1.6 0.7l1.5 -0.4l1.6 0.1l1.5 0.1l1.6 -0.1l1.5 0.5l1.6 -0.7l1.5 0l1.6 0l1.5 -0.1l1.6 -0.4l1.5 -0.5l1.6 0l1.5 -0.2l1.6 0l1.5 -0.3l1.6 -0.4l1.5 -0.1l1.6 -0.6l1.5 0.2l1.6 -0.4l1.5 -0.1" fill="none" stroke="#b0b0b0" stroke-width="0.8" stroke-linejoin="round" stroke-linecap="round" stroke-opacity="0.8"/>
<path d="M942.7 1474l0.5 -8.1l0.5 -7.9l0.5 -8.8l0.6 -11.3l0.5 -14.2l0.5 -12.9l0.5 -10.3l0.5 -9.5l0.5 -10.2l0.5 -11.3l0.5 -11.8l0.6 -11.4l0.5 -11.1l0.5 -9.7l0.5 -7.2l0.5 -5.2l0.5 -3.7l0.5 -2.9l0.5 -2.4l0.6 -2l0.5 -1.7l0.5 -1.5l0.5 -1l0.5 -0.3l0.5 -0.1l0.5 0.6l0.5 1.4l0.6 1.4l0.5 1.6l0.5 1.7l0.5 1.5l0.5 1.8l0.5 1.2l0.5 1.9l0.5 1.6l0.6 2.5l0.5 1.5l0.5 2l0.5 1.8l1.5 6.5l1.6 6.7l1.5 7.4l1.6 7.1l1.5 7.3l1.6 7.8l1.5 6.5l1.6 6.2l1.5 5.5l1.6 4.5l1.5 3.2l1.6 3.1l1.5 3.1l1.6 1.7l1.5 0.5l1.6 -1.4l1.5 -3.4l1.6 -3.9l1.5 -4.3l1.6 -5.1l1.5 -5.5l1.6 -6.2l1.5 -6.9l1.6 -7.1l1.5 -6.3l1.6 -6.4l1.5 -5.9l1.6 -4.1l1.5 -3l1.6 -2.4l1.5 -1.5l1.6 -0.2l1.5 2.5l1.6 3.5l1.5 4.3l1.6 3.9l1.5 4.7l1.6 4.7l1.5 4.4l1.6 4l1.5 3.9l1.6 3.7l1.5 3.3l1.6 2.7l1.5 2.9l1.6 1.5l1.5 0.7l1.6 0l1.5 -0.1l1.6 -1l1.5 -0.8l1.6 -1.1l1.5 -0.6l1.6 -1.7l1.5 -0.7l1.6 -1.1l1.5 -1.5l1.5 -2.6l1.6 -2.9l1.5 -3.5l1.6 -3.9l1.5 -5.1l1.6 -4.5l1.5 -4.9l1.6 -5.2l1.5 -4.7l1.6 -4.5l1.5 -3.8l1.6 -3.7l1.5 -3.3l1.6 -2.8l1.5 -3.1l1.6 -3l1.5 -2.5l1.6 -2.6l1.5 -2.5l1.6 -3.1l1.5 -2.5l1.6 -2.3l1.5 -2.5l1.6 -2.4l1.5 -1.9l1.6 -1.1l1.5 -1.4l1.6 -0.8l1.5 -0.9l1.6 -0.5l1.5 -0.6l1.6 0l1.5 -0.2l1.6 0.7l1.5 0.7l1.6 1.1l1.5 1.5l1.6 2.2l1.5 2.5l1.6 3.6l1.5 3.3l1.6 3.4l1.5 3.2l1.6 3.4l1.5 3.7l1.6 4.2l1.5 3.5l1.6 4.1l1.5 3.2l1.6 3.1l1.5 3.8l1.6 3.1l1.5 3.1l1.6 3.1l1.5 3.5l1.6 2.6l1.5 2.6l1.5 2.9l1.6 2.4l1.5 2l1.6 2l1.5 1.6l1.6 1.7l1.5 1.3l1.6 1.1l1.5 0.9l1.6 0.6l1.5 0.3l1.6 -0.5l1.5 -0.8l1.6 -0.9l1.5 -2.2l1.6 -2.4l1.5 -2.2l1.6 -2.2l1.5 -2.7l1.6 -2.2l1.5 -2.1l1.6 -2l1.5 -2.8l1.6 -2.5l1.5 -2.5l1.6 -2.4l1.5 -3.1l1.6 -2l1.5 -3l1.6 -2.8l1.5 -2.5l1.6 -2.3l1.5 -2.8l1.6 -3.3l1.5 -1.7l1.6 -2.9l1.5 -2.5l1.6 -2.7l1.5 -1.8l1.6 -2.5l1.5 -2.7l1.6 -2.2l1.5 -2.4l1.6 -2.3l1.5 -2.4l1.6 -2.6l1.5 -2.8l1.6 -2.2l1.5 -2.5l1.6 -2.5l1.5 -1.6l1.6 -1.3l1.5 -0.6l1.6 -0.6l1.5 0.8l1.6 0l1.5 1.2l1.5 1l1.6 1l1.5 1.9l1.6 1.2l1.5 2.2l1.6 1.3l1.5 1.9l1.6 1.7l1.5 2.2l1.6 1.9l1.5 1.9l1.6 2.5l1.5 2.1l1.6 2.7l1.5 2.8l1.6 2.4l1.5 2.9l1.6 2.4l1.5 2.8l1.6 2.8l1.5 1.5l1.6 2.9l1.5 2.2l1.6 2.2l1.5 2.7l1.6 2l1.5 2.2l1.6 1.8l1.5 2l1.6 1.3l1.5 1.6l1.6 1.1l1.5 1.1l1.6 0.4l1.5 0.8l1.6 0l1.5 -0.3l1.6 0l1.5 -0.7l1.6 -0.3l1.5 -0.7l1.6 -0.6l1.5 -1l1.6 -0.5l1.5 -1.2l1.6 -0.5l1.5 -1.3l1.6 -0.9l1.5 -1l1.6 -0.9l1.5 -0.8l1.6 -1.3l1.5 -0.6l1.6 -0.7l1.5 -0.7l1.6 -0.9l1.5 -0.9l1.5 -0.4l1.6 -1.2l1.5 -0.5l1.6 -0.9l1.5 -0.6l1.6 -0.5l1.5 -0.6l1.6 -0.6l1.5 -0.9l1.6 -0.9l1.5 0.1l1.6 -0.9l1.5 -0.6l1.6 -1l1.5 -0.1l1.6 -1.1l1.5 -0.4l1.6 -0.7l1.5 -0.2l1.6 -1l1.5 -0.7l1.6 -0.5l1.5 -0.4l1.6 -0.5l1.5 -0.2l1.6 -1.3l1.5 -0.4l1.6 -0.6l1.5 -0.3l1.6 -0.3l1.5 -0.6l1.6 -0.7l1.5 -0.1l1.6 -0.2l1.5 -0.7l1.6 -0.1l1.5 -0.1l1.6 -0.4l1.5 -0.5l1.6 -0.4l1.5 -0.3l1.6 0l1.5 -0.1l1.6 -0.1l1.5 -0.3l1.6 -0.1l1.5 -0.1l1.6 -0.2l1.5 0.6l1.6 -0.5l1.5 0.3l1.6 0.5l1.5 0.4l1.6 -0.1l1.5 0.3l1.6 1.2l1.5 0l1.5 0.5l1.6 0.9l1.5 0.9l1.6 0.4l1.5 0.6l1.6 0.8l1.5 1.2l1.6 0.9l1.5 0.4l1.6 0.8l1.5 0.6l1.6 1.1l1.5 0.5l1.6 0.4l1.5 0.4l1.6 0.6l1.5 1l1.6 0.5l1.5 0.6l1.6 0.6l1.5 0.3l1.6 0.7l1.5 0.7l1.6 0l1.5 0.9l1.6 0.7l1.5 0.3l1.6 0.9l1.5 0.3l1.6 0.1l1.5 0.4l1.6 0.4l1.5 0.5l1.6 0.2l1.5 0.3l1.6 0.7l1.5 -0.2l1.6 0.2l1.5 0.2l1.6 -0.1l1.5 0.3l1.6 -0.7l1.5 -0.1l1.6 -0.1l1.5 -0.1l1.6 -0.3l1.5 -0.6l1.6 -0.2l1.5 -0.2l1.6 -0.3l1.5 -0.5l1.6 -0.3l1.5 -0.2l1.6 -0.6l1.5 0.1l1.6 -0.5l1.5 0" fill="none" stroke="#b0b0b0" stroke-width="0.8" stroke-linejoin="round" stroke-linecap="round" stroke-opacity="0.8"/>
<path d="M942.7 1474.9l0.5 -7.8l0.5 -7.5l0.5 -7.8l0.6 -9.1l0.5 -10.4l0.5 -10.2l0.5 -9.6l0.5 -10.3l0.5 -12.1l0.5 -13.5l0.5 -13.8l0.6 -12.1l0.5 -10.5l0.5 -8.3l0.5 -5.4l0.5 -3.6l0.5 -2.2l0.5 -1.6l0.5 -1.1l0.6 -0.8l0.5 -0.7l0.5 -0.7l0.5 -0.5l0.5 -0.2l0.5 -0.2l0.5 0.3l0.5 1.1l0.6 0.5l0.5 0.7l0.5 1l0.5 0.8l0.5 1.2l0.5 0.6l0.5 1.6l0.5 0.8l0.6 1.9l0.5 0.7l0.5 1.7l0.5 1.2l1.5 5l1.6 5.1l1.5 6.1l1.6 5.9l1.5 6.3l1.6 7.5l1.5 6.4l1.6 6.6l1.5 6.3l1.6 5.1l1.5 3.8l1.6 3.9l1.5 3.6l1.6 2.4l1.5 0.6l1.6 -1.9l1.5 -3.8l1.6 -4.1l1.5 -5.1l1.6 -5.8l1.5 -6.2l1.6 -7.6l1.5 -8.1l1.6 -8.8l1.5 -8.1l1.6 -8.6l1.5 -7.9l1.6 -5.9l1.5 -4.4l1.6 -4.3l1.5 -2.7l1.6 -1.2l1.5 2.2l1.6 3.7l1.5 4.8l1.6 4.6l1.5 5.2l1.6 5.4l1.5 5.6l1.6 4.9l1.5 5l1.6 5.3l1.5 5.1l1.6 4.1l1.5 4.2l1.6 2.6l1.5 2l1.6 0.5l1.5 0.9l1.6 -0.4l1.5 0l1.6 -0.5l1.5 0.1l1.6 -0.9l1.5 0.1l1.6 -0.2l1.5 -1l1.5 -2.5l1.6 -2.7l1.5 -3.7l1.6 -4.4l1.5 -5.8l1.6 -5.1l1.5 -5.8l1.6 -5.7l1.5 -5.4l1.6 -4.8l1.5 -4.5l1.6 -3.9l1.5 -3.3l1.6 -3.1l1.5 -3.3l1.6 -3l1.5 -2.7l1.6 -2.8l1.5 -3l1.6 -3.4l1.5 -2.7l1.6 -3.1l1.5 -2.7l1.6 -3l1.5 -2.2l1.6 -1.5l1.5 -2.2l1.6 -0.9l1.5 -1.5l1.6 -0.9l1.5 -1.1l1.6 -1l1.5 -0.6l1.6 0.4l1.5 0.2l1.6 0.8l1.5 1.2l1.6 2.2l1.5 3l1.6 4.1l1.5 3.8l1.6 3.9l1.5 3.7l1.6 3.7l1.5 4.1l1.6 4.8l1.5 3.9l1.6 4.4l1.5 3.8l1.6 3.5l1.5 4.5l1.6 3.9l1.5 3.3l1.6 3.5l1.5 4l1.6 3.2l1.5 3l1.5 3.1l1.6 3l1.5 2.1l1.6 2.6l1.5 2l1.6 1.9l1.5 2.2l1.6 1.3l1.5 1.9l1.6 1.1l1.5 0.7l1.6 0l1.5 -0.5l1.6 -0.5l1.5 -2.4l1.6 -2.4l1.5 -2.6l1.6 -2.4l1.5 -3l1.6 -2.4l1.5 -2.2l1.6 -2.4l1.5 -3l1.6 -2.6l1.5 -3.1l1.6 -2.5l1.5 -3.6l1.6 -2.2l1.5 -3.4l1.6 -3.1l1.5 -2.9l1.6 -2.7l1.5 -3.1l1.6 -3.7l1.5 -2.2l1.6 -3.4l1.5 -3l1.6 -2.8l1.5 -2.3l1.6 -2.9l1.5 -3.2l1.6 -2.3l1.5 -2.8l1.6 -3l1.5 -2.8l1.6 -3.3l1.5 -3.4l1.6 -3l1.5 -3.4l1.6 -3.4l1.5 -2.1l1.6 -1.8l1.5 -1.2l1.6 -1.1l1.5 0.7l1.6 -0.2l1.5 1.2l1.5 1l1.6 1l1.5 2l1.6 1.2l1.5 2.2l1.6 1.3l1.5 2.4l1.6 1.6l1.5 2.9l1.6 2l1.5 2.4l1.6 3.3l1.5 2.4l1.6 3.1l1.5 3.7l1.6 3l1.5 3.4l1.6 2.8l1.5 3.8l1.6 3.3l1.5 2l1.6 3.6l1.5 2.6l1.6 2.6l1.5 2.9l1.6 2.3l1.5 2.6l1.6 2l1.5 2.5l1.6 1.5l1.5 2.3l1.6 1.5l1.5 1.6l1.6 0.9l1.5 1l1.6 0.2l1.5 0l1.6 0.4l1.5 -0.8l1.6 -0.1l1.5 -0.8l1.6 -0.3l1.5 -0.9l1.6 -0.7l1.5 -1.2l1.6 -0.5l1.5 -1.3l1.6 -1.3l1.5 -1l1.6 -0.6l1.5 -1.3l1.6 -1.2l1.5 -0.8l1.6 -0.7l1.5 -0.6l1.6 -1l1.5 -1.3l1.5 -0.3l1.6 -1.3l1.5 -0.5l1.6 -1.2l1.5 -0.4l1.6 -0.7l1.5 -0.8l1.6 -0.7l1.5 -1l1.6 -1.1l1.5 0l1.6 -0.9l1.5 -1l1.6 -0.9l1.5 -0.5l1.6 -1.1l1.5 -0.5l1.6 -1.1l1.5 -0.1l1.6 -1l1.5 -1.1l1.6 -0.6l1.5 -0.3l1.6 -0.6l1.5 -0.6l1.6 -1.4l1.5 -0.6l1.6 -0.8l1.5 -0.6l1.6 -0.5l1.5 -0.6l1.6 -1.1l1.5 -0.5l1.6 -0.3l1.5 -1l1.6 -0.5l1.5 -0.4l1.6 -0.5l1.5 -0.9l1.6 -0.9l1.5 -0.5l1.6 -0.5l1.5 -0.1l1.6 -0.4l1.5 -0.6l1.6 -0.3l1.5 -0.3l1.6 -0.3l1.5 0.3l1.6 -0.7l1.5 0.1l1.6 0.7l1.5 0.4l1.6 -0.1l1.5 0.3l1.6 1.2l1.5 0.2l1.5 0.5l1.6 0.9l1.5 1.1l1.6 0.7l1.5 0.8l1.6 1l1.5 1.3l1.6 1.2l1.5 0.6l1.6 0.9l1.5 0.9l1.6 1.6l1.5 0.6l1.6 0.3l1.5 0.8l1.6 0.7l1.5 1.1l1.6 0.7l1.5 1.1l1.6 0.8l1.5 0.2l1.6 1l1.5 1l1.6 0.1l1.5 1.4l1.6 0.5l1.5 0.8l1.6 0.9l1.5 0.4l1.6 0.3l1.5 0.7l1.6 0.5l1.5 0.5l1.6 0.5l1.5 0.4l1.6 0.8l1.5 0l1.6 0.3l1.5 0.2l1.6 -0.1l1.5 0.1l1.6 -0.8l1.5 -0.2l1.6 -0.2l1.5 -0.1l1.6 -0.1l1.5 -0.7l1.6 -0.3l1.5 -0.3l1.6 -0.6l1.5 -0.6l1.6 -0.4l1.5 -0.2l1.6 -0.7l1.5 0.1l1.6 -0.7l1.5 0.1" fill="none" stroke="#b0b0b0" stroke-width="0.8" stroke-linejoin="round" stroke-linecap="round" stroke-opacity="0.8"/>
<path d="M942.7 1475.6l0.5 -7.5l0.5 -7.2l0.5 -7.1l0.6 -7.2l0.5 -7.4l0.5 -8.1l0.5 -9l0.5 -11l0.5 -13.5l0.5 -15.3l0.5 -15.4l0.6 -12.6l0.5 -10.2l0.5 -7.1l0.5 -3.9l0.5 -2.3l0.5 -1.1l0.5 -0.5l0.5 -0.1l0.6 0.1l0.5 0.1l0.5 0l0.5 -0.1l0.5 0l0.5 -0.4l0.5 0l0.5 0.9l0.6 -0.1l0.5 0l0.5 0.3l0.5 0.3l0.5 0.8l0.5 0l0.5 1.3l0.5 0.2l0.6 1.5l0.5 0l0.5 1.5l0.5 0.6l1.5 4l1.6 3.7l1.5 5.1l1.6 4.9l1.5 5.5l1.6 7.2l1.5 6.5l1.6 6.8l1.5 6.9l1.6 5.7l1.5 4.3l1.6 4.4l1.5 4.1l1.6 2.9l1.5 0.7l1.6 -2.3l1.5 -4l1.6 -4.3l1.5 -5.9l1.6 -6.4l1.5 -6.8l1.6 -8.6l1.5 -9.1l1.6 -10l1.5 -9.7l1.6 -10.3l1.5 -9.4l1.6 -7.5l1.5 -5.4l1.6 -5.8l1.5 -3.7l1.6 -2l1.5 1.9l1.6 3.9l1.5 5.2l1.6 5.1l1.5 5.7l1.6 6l1.5 6.4l1.6 5.8l1.5 5.8l1.6 6.6l1.5 6.5l1.6 5.3l1.5 5.1l1.6 3.6l1.5 3l1.6 0.9l1.5 1.7l1.6 0.1l1.5 0.6l1.6 -0.1l1.5 0.8l1.6 -0.2l1.5 0.7l1.6 0.4l1.5 -0.5l1.5 -2.5l1.6 -2.5l1.5 -3.9l1.6 -4.8l1.5 -6.3l1.6 -5.6l1.5 -6.5l1.6 -6.2l1.5 -5.8l1.6 -5.2l1.5 -5l1.6 -4l1.5 -3.3l1.6 -3.3l1.5 -3.6l1.6 -3l1.5 -2.8l1.6 -2.9l1.5 -3.5l1.6 -3.6l1.5 -3l1.6 -3.6l1.5 -2.9l1.6 -3.4l1.5 -2.5l1.6 -1.9l1.5 -2.7l1.6 -1.1l1.5 -2l1.6 -1.1l1.5 -1.5l1.6 -1.8l1.5 -0.9l1.6 0.1l1.5 -0.2l1.6 0.5l1.5 1.1l1.6 2.2l1.5 3.3l1.6 4.5l1.5 4.2l1.6 4.3l1.5 4.2l1.6 3.9l1.5 4.4l1.6 5.2l1.5 4.2l1.6 4.8l1.5 4.3l1.6 3.8l1.5 5.1l1.6 4.3l1.5 3.7l1.6 3.7l1.5 4.4l1.6 3.6l1.5 3.4l1.5 3.2l1.6 3.4l1.5 2.2l1.6 3.3l1.5 2.2l1.6 2.1l1.5 2.8l1.6 1.5l1.5 2.8l1.6 1.5l1.5 1l1.6 0.3l1.5 -0.2l1.6 -0.2l1.5 -2.5l1.6 -2.5l1.5 -2.9l1.6 -2.5l1.5 -3.2l1.6 -2.6l1.5 -2.3l1.6 -2.6l1.5 -3.3l1.6 -2.7l1.5 -3.6l1.6 -2.5l1.5 -4l1.6 -2.5l1.5 -3.7l1.6 -3.2l1.5 -3.2l1.6 -3l1.5 -3.5l1.6 -4l1.5 -2.4l1.6 -3.9l1.5 -3.4l1.6 -3l1.5 -2.6l1.6 -3.3l1.5 -3.5l1.6 -2.3l1.5 -3.3l1.6 -3.5l1.5 -3.1l1.6 -3.8l1.5 -3.9l1.6 -3.6l1.5 -4.2l1.6 -4.1l1.5 -2.4l1.6 -2.2l1.5 -1.8l1.6 -1.4l1.5 0.5l1.6 -0.4l1.5 1.3l1.5 1l1.6 0.9l1.5 2.1l1.6 1.2l1.5 2.3l1.6 1.3l1.5 2.9l1.6 1.5l1.5 3.3l1.6 2.2l1.5 2.7l1.6 3.8l1.5 2.7l1.6 3.5l1.5 4.5l1.6 3.4l1.5 3.9l1.6 3.1l1.5 4.6l1.6 3.6l1.5 2.4l1.6 4.2l1.5 2.8l1.6 3l1.5 3.2l1.6 2.5l1.5 2.8l1.6 2.2l1.5 2.9l1.6 1.7l1.5 2.7l1.6 1.9l1.5 2.1l1.6 1.2l1.5 1.2l1.6 0.4l1.5 0.3l1.6 0.6l1.5 -0.8l1.6 0l1.5 -0.9l1.6 0l1.5 -0.9l1.6 -0.8l1.5 -1.2l1.6 -0.6l1.5 -1.3l1.6 -1.5l1.5 -1l1.6 -0.5l1.5 -1.6l1.6 -1.1l1.5 -0.9l1.6 -0.7l1.5 -0.7l1.6 -1l1.5 -1.6l1.5 -0.2l1.6 -1.4l1.5 -0.5l1.6 -1.4l1.5 -0.4l1.6 -0.8l1.5 -1l1.6 -0.7l1.5 -1.1l1.6 -1.3l1.5 0l1.6 -0.9l1.5 -1.3l1.6 -0.8l1.5 -0.8l1.6 -1.1l1.5 -0.7l1.6 -1.4l1.5 0.1l1.6 -1.1l1.5 -1.4l1.6 -0.8l1.5 -0.1l1.6 -0.7l1.5 -0.9l1.6 -1.5l1.5 -0.7l1.6 -1l1.5 -0.9l1.6 -0.6l1.5 -0.5l1.6 -1.5l1.5 -0.8l1.6 -0.4l1.5 -1.4l1.6 -0.7l1.5 -0.6l1.6 -0.6l1.5 -1.3l1.6 -1.2l1.5 -0.7l1.6 -0.9l1.5 -0.2l1.6 -0.6l1.5 -0.8l1.6 -0.4l1.5 -0.5l1.6 -0.4l1.5 0.1l1.6 -0.8l1.5 -0.1l1.6 0.8l1.5 0.5l1.6 -0.2l1.5 0.4l1.6 1.1l1.5 0.4l1.5 0.5l1.6 1l1.5 1.1l1.6 1.1l1.5 0.8l1.6 1.3l1.5 1.3l1.6 1.4l1.5 0.7l1.6 1.2l1.5 0.9l1.6 2l1.5 0.9l1.6 0.2l1.5 1l1.6 0.8l1.5 1.2l1.6 0.9l1.5 1.5l1.6 0.9l1.5 0l1.6 1.4l1.5 1.2l1.6 0.2l1.5 1.7l1.6 0.5l1.5 1.2l1.6 0.9l1.5 0.5l1.6 0.4l1.5 0.9l1.6 0.5l1.5 0.6l1.6 0.8l1.5 0.4l1.6 0.8l1.5 0.2l1.6 0.4l1.5 0.3l1.6 -0.1l1.5 -0.1l1.6 -0.8l1.5 -0.3l1.6 -0.3l1.5 -0.2l1.6 0.1l1.5 -0.8l1.6 -0.4l1.5 -0.4l1.6 -0.8l1.5 -0.6l1.6 -0.5l1.5 -0.3l1.6 -0.7l1.5 0.1l1.6 -0.8l1.5 0.2" fill="none" stroke="#c9bd2b" stroke-width="5.4" stroke-linejoin="round" stroke-linecap="round"/>
<path d="M942.7 1472.1l0.5 -9l0.5 -8.7l0.5 -10.9l0.6 -16.3l0.5 -22.3l0.5 -18.9l0.5 -11.8l0.5 -7.8l0.5 -6.3l0.5 -6.3l0.5 -7.4l0.6 -9.8l0.5 -12.3l0.5 -12.9l0.5 -11.3l0.5 -8.7l0.5 -6.7l0.5 -6l0.5 -5.2l0.6 -4.6l0.5 -3.9l0.5 -3.2l0.5 -2.2l0.5 -0.7l0.5 0.3l0.5 1.4l0.5 2l0.6 3.3l0.5 3.4l0.5 3.6l0.5 2.8l0.5 3.1l0.5 2.7l0.5 2.5l0.5 3.5l0.6 3.7l0.5 3.2l0.5 2.7l0.5 3.3l1.5 9.6l1.6 10.2l1.5 10.3l1.6 9.7l1.5 9.6l1.6 8.6l1.5 6.4l1.6 5.3l1.5 4l1.6 2.9l1.5 1.9l1.6 1.5l1.5 1.9l1.6 0.4l1.5 0.2l1.6 -0.4l1.5 -2.7l1.6 -3.3l1.5 -2.4l1.6 -3.4l1.5 -4l1.6 -3.3l1.5 -4.1l1.6 -3.6l1.5 -2.1l1.6 -1.8l1.5 -1.6l1.6 0.1l1.5 -0.1l1.6 1.7l1.5 1.3l1.6 1.9l1.5 3.3l1.6 3.1l1.5 3.1l1.6 2.5l1.5 3.4l1.6 3.2l1.5 1.9l1.6 1.8l1.5 1.5l1.6 0.2l1.5 -0.5l1.6 -0.5l1.5 0.1l1.6 -0.9l1.5 -2.2l1.6 -1.2l1.5 -2.3l1.6 -2.3l1.5 -2.4l1.6 -2.4l1.5 -2.4l1.6 -3.5l1.5 -2.4l1.6 -2.9l1.5 -2.7l1.5 -2.9l1.6 -3.3l1.5 -3.1l1.6 -2.7l1.5 -3.5l1.6 -3.1l1.5 -3.2l1.6 -3.9l1.5 -3.4l1.6 -3.6l1.5 -2.4l1.6 -3.3l1.5 -3.3l1.6 -2.1l1.5 -2.5l1.6 -2.9l1.5 -2.3l1.6 -2.1l1.5 -1.5l1.6 -2.5l1.5 -1.7l1.6 -0.9l1.5 -1.8l1.6 -1.1l1.5 -1.2l1.6 -0.4l1.5 0.3l1.6 -0.3l1.5 0.3l1.6 0.3l1.5 0.6l1.6 2.1l1.5 0.7l1.6 1.3l1.5 1.9l1.6 2l1.5 1.8l1.6 2.1l1.5 1.6l1.6 2.5l1.5 2.2l1.6 2.3l1.5 2.1l1.6 2.7l1.5 2.9l1.6 2.9l1.5 2.6l1.6 3.3l1.5 2l1.6 2.1l1.5 2.2l1.6 1.6l1.5 2.4l1.6 2.5l1.5 2.1l1.6 1.6l1.5 1.6l1.5 2.4l1.6 1.4l1.5 1.6l1.6 0.5l1.5 0.8l1.6 1.2l1.5 -0.5l1.6 0.6l1.5 -1.4l1.6 -0.6l1.5 -0.5l1.6 -1.5l1.5 -1.5l1.6 -1.6l1.5 -1.9l1.6 -2.5l1.5 -1.1l1.6 -1.9l1.5 -2.1l1.6 -1.8l1.5 -1.8l1.6 -1.3l1.5 -2l1.6 -2.3l1.5 -1.2l1.6 -2.2l1.5 -2.1l1.6 -1.4l1.5 -2.1l1.6 -2.2l1.5 -1.7l1.6 -1.4l1.5 -2.1l1.6 -2.3l1.5 -1l1.6 -1.5l1.5 -1.6l1.6 -2.2l1.5 -1l1.6 -1.5l1.5 -1.7l1.6 -2.1l1.5 -1.1l1.6 -0.9l1.5 -1.6l1.6 -1.1l1.5 -1.6l1.6 -0.3l1.5 -0.4l1.6 -0.6l1.5 -0.7l1.6 -0.2l1.5 1l1.6 0.2l1.5 1.2l1.6 0.5l1.5 1.1l1.5 0.9l1.6 1.1l1.5 1.8l1.6 1.2l1.5 2l1.6 1.4l1.5 0.6l1.6 2l1.5 1l1.6 1.4l1.5 0.9l1.6 0.9l1.5 1.3l1.6 1.7l1.5 0.7l1.6 1.2l1.5 1.8l1.6 1.5l1.5 0.5l1.6 2l1.5 0.4l1.6 1.4l1.5 1.3l1.6 1.3l1.5 2l1.6 1.4l1.5 1.5l1.6 1.2l1.5 1l1.6 0.8l1.5 0.3l1.6 0l1.5 -0.2l1.6 -0.3l1.5 0.2l1.6 -0.6l1.5 -1l1.6 -0.7l1.5 -0.5l1.6 -0.6l1.5 -0.5l1.6 -1.4l1.5 -1l1.6 -0.3l1.5 -1.2l1.6 -0.3l1.5 -1.4l1.6 0l1.5 -1.2l1.6 -1.2l1.5 0.1l1.6 -1.4l1.5 -0.3l1.6 -0.7l1.5 -0.8l1.6 -0.7l1.5 -0.1l1.5 -0.6l1.6 -1.1l1.5 -0.4l1.6 -0.3l1.5 -0.8l1.6 -0.3l1.5 0.1l1.6 -0.4l1.5 -0.7l1.6 -0.5l1.5 0.1l1.6 -0.7l1.5 0.1l1.6 -1.1l1.5 0.6l1.6 -1.1l1.5 0.1l1.6 0.1l1.5 -0.6l1.6 -0.9l1.5 0.1l1.6 0l1.5 -0.8l1.6 -0.2l1.5 0.6l1.6 -1.1l1.5 -0.1l1.6 -0.1l1.5 0.4l1.6 0.3l1.5 -0.8l1.6 0.3l1.5 0.6l1.6 0.1l1.5 0.2l1.6 0.6l1.5 0.7l1.6 -0.2l1.5 0.4l1.6 0.6l1.5 0.2l1.6 1l1.5 0.1l1.6 0.5l1.5 0.2l1.6 0.2l1.5 0.6l1.6 0l1.5 1.1l1.6 -0.1l1.5 0.9l1.6 0.2l1.5 0.2l1.6 -0.1l1.5 0.4l1.6 1.1l1.5 -0.4l1.5 0.4l1.6 0.8l1.5 0.7l1.6 -0.4l1.5 0.3l1.6 0.2l1.5 1.1l1.6 0.4l1.5 0l1.6 0.2l1.5 0.3l1.6 0l1.5 0l1.6 0.5l1.5 -0.2l1.6 0.3l1.5 0.8l1.6 0l1.5 -0.5l1.6 0.2l1.5 0.8l1.6 -0.2l1.5 0l1.6 -0.1l1.5 -0.2l1.6 0.9l1.5 -0.7l1.6 0.9l1.5 0.1l1.6 -0.5l1.5 0.1l1.6 0.1l1.5 0.5l1.6 -0.6l1.5 0.1l1.6 0.6l1.5 -0.6l1.6 0l1.5 0l1.6 0l1.5 0.6l1.6 -0.6l1.5 0.2l1.6 0.1l1.5 -0.1l1.6 -0.7l1.5 -0.3l1.6 0.2l1.5 -0.2l1.6 0.3l1.5 -0.1l1.6 -0.3l1.5 -0.1l1.6 -0.5l1.5 0.3l1.6 -0.2l1.5 -0.3" fill="none" stroke="#2e94b1" stroke-width="4.2" stroke-linejoin="round" stroke-linecap="round"/>
<path d="M937.3 1640l0.5 -11.1l0.5 -11.1l0.5 -12l0.6 -13.4l0.5 -14.8l0.5 -14.9l0.5 -15.2l0.5 -14.2l0.5 -12.8l0.5 -10.4l0.5 -8.8l0.6 -7.6l0.5 -6.5l0.5 -5.8l0.5 -5.3l0.5 -4.8l0.5 -4.5l0.5 -4.4l0.5 -4.2l0.6 -3.9l0.5 -3.6l0.5 -3.4l0.5 -3.1l0.5 -2.4l0.5 -2.6l0.5 -2.3l0.5 -1.3l0.6 -0.7l0.5 1.2l0.5 1.3l0.5 3.1l0.5 4.2l0.5 3.2l0.5 3.9l0.5 2.6l0.6 2.3l0.5 3.4l0.5 2.3l0.5 3.8l1.5 7.5l1.6 6.7l1.5 6.5l1.6 6.6l1.5 5.8l1.6 6.1l1.5 4l1.6 4.8l1.5 4.2l1.6 3.6l1.5 1.2l1.6 -0.3l1.5 -2l1.6 -2.5l1.5 -3.5l1.6 -3.2l1.5 -3.2l1.6 -3.9l1.5 -5.3l1.6 -6.2l1.5 -9l1.6 -6.9l1.5 -4.5l1.6 -3.3l1.5 -2.3l1.6 0.2l1.5 2.8l1.6 4.6l1.5 5.4l1.6 5.1l1.5 6.5l1.6 5.8l1.5 5.3l1.6 5.3l1.5 4.8l1.6 4.7l1.5 4.4l1.6 3.7l1.5 3.8l1.6 4.8l1.5 3l1.6 3.6l1.5 1.4l1.6 1.3l1.5 -0.1l1.6 0.3l1.5 -0.9l1.6 -1.3l1.5 -1.8l1.6 -2.1l1.5 -2l1.6 -3.4l1.5 -2.9l1.6 -3.3l1.5 -4.4l1.6 -3.4l1.5 -3.8l1.6 -4.3l1.5 -4.3l1.6 -3.7l1.5 -5.3l1.6 -3.7l1.5 -4.8l1.6 -4.1l1.5 -5.1l1.6 -5.5l1.5 -4.7l1.6 -5.8l1.5 -4l1.6 -4.6l1.5 -3.4l1.6 -2.2l1.5 -2.8l1.6 -2.6l1.5 -1.4l1.6 -2.2l1.5 -1.7l1.6 0.1l1.5 -0.9l1.6 -0.4l1.5 -0.1l1.6 0.5l1.5 1.1l1.6 1l1.5 0.9l1.6 1.5l1.5 1.1l1.6 1.8l1.5 1.5l1.6 1l1.5 2.6l1.6 1.7l1.5 2.1l1.6 2.1l1.5 2.3l1.6 2.8l1.5 3.3l1.6 3.1l1.5 2.1l1.6 3.6l1.5 2.8l1.6 2.5l1.5 2.7l1.6 2.6l1.5 2.2l1.6 1.9l1.5 1.7l1.6 1.7l1.5 0.9l1.6 0.6l1.5 1.3l1.6 0.5l1.5 0.9l1.6 1.7l1.5 0.6l1.6 0l1.5 1.1l1.6 0l1.5 -0.2l1.6 0.4l1.5 -0.5l1.6 -0.6l1.5 -0.6l1.6 -1l1.5 -0.4l1.6 -1l1.5 -0.5l1.6 -1.3l1.5 -1.3l1.6 -0.1l1.5 -1.4l1.6 -1.5l1.5 -1.2l1.6 -0.5l1.5 -1.6l1.6 -0.9l1.5 -1.5l1.6 -1.4l1.5 -1.4l1.6 -0.9l1.5 -2.8l1.6 -2.1l1.5 -1.6l1.6 -2.4l1.5 -2.1l1.6 -1.7l1.5 -1.6l1.6 -2l1.5 -1.5l1.6 -1.5l1.5 -1.1l1.6 -0.6l1.5 -1.8l1.6 -0.7l1.5 -0.7l1.6 -0.9l1.5 -0.4l1.6 0l1.5 -0.2l1.6 -0.3l1.5 -0.4l1.6 0.7l1.5 0.6l1.6 0.4l1.5 -0.6l1.6 1.1l1.5 0.8l1.6 0.6l1.5 0.7l1.6 0.5l1.5 0.4l1.5 0.2l1.6 0.7l1.5 1.3l1.6 0.2l1.5 0.5l1.6 1l1.5 0.8l1.6 1l1.5 -0.1l1.6 0.9l1.5 1.4l1.6 1.3l1.5 0.3l1.6 1.1l1.5 0.7l1.6 1.3l1.5 1.1l1.6 0.6l1.5 1.5l1.6 0.6l1.5 0.7l1.6 0.3l1.5 1.1l1.6 0.5l1.5 0.5l1.6 1.3l1.5 0.7l1.6 0.2l1.5 -0.2l1.6 -0.1l1.5 -0.3l1.6 -1.4l1.5 -0.7l1.6 0.4l1.5 -1.5l1.6 -0.8l1.5 -0.4l1.6 -1.5l1.5 -0.5l1.6 -1.1l1.5 -0.7l1.6 -1l1.5 -0.6l1.6 -0.6l1.5 -1l1.6 -1.1l1.5 -0.6l1.6 -0.1l1.5 -0.2l1.6 -0.9l1.5 -0.1l1.6 -0.7l1.5 -0.4l1.6 -0.1l1.5 -0.7l1.6 0l1.5 -0.3l1.6 -1.2l1.5 0.2l1.6 -0.8l1.5 0.3l1.6 -0.7l1.5 0l1.6 -0.1l1.5 -0.5l1.6 0.4l1.5 0l1.6 0.3l1.5 0.5l1.6 -0.1l1.5 0.2l1.6 0l1.5 0.7l1.6 1l1.5 -0.2l1.6 1.3l1.5 -0.1l1.6 1.2l1.5 0.1l1.6 0.4l1.5 -0.2l1.6 0.7l1.5 0.3l1.6 0.9l1.5 -0.7l1.6 0.6l1.5 0.4l1.6 0.2l1.5 0l1.6 0.5l1.5 0.2l1.6 -0.2l1.5 0.3l1.6 0l1.5 0l1.6 0.7l1.5 0l1.6 0.5l1.5 -0.4l1.6 0.5l1.5 -0.1l1.6 0.3l1.5 0.5l1.6 -0.4l1.5 0.3l1.6 -0.4l1.5 0.6l1.6 -0.6l1.5 1l1.6 -0.7l1.5 0.7l1.6 0.3l1.5 -0.9l1.6 0.8l1.5 -0.4l1.6 -0.3l1.5 0.1l1.6 0.6l1.5 0.1l1.6 0l1.5 -0.4l1.6 0.3l1.5 -0.1l1.6 0.2l1.5 -0.3l1.6 -0.3l1.5 1l1.6 0l1.5 0.1l1.6 -0.6l1.5 -0.4l1.6 0.9l1.5 -0.5l1.6 0.3l1.5 0l1.6 -0.7l1.5 0.7l1.6 -0.5l1.5 0.1l1.6 0.4l1.5 -0.2l1.6 0.5l1.5 -0.9l1.6 0.8l1.5 0.1l1.6 -0.1l1.5 -0.3l1.6 0.2l1.5 0l1.6 0.2l1.5 -0.4l1.6 0.1l1.5 0l1.6 0.3l1.5 0.3l1.6 0.1l1.5 -0.8l1.6 0l1.5 0.4l1.6 0.2l1.5 -0.4l1.6 0.6l1.5 -0.2l1.6 -0.2l1.5 0.3l1.6 0.2l1.5 0.3l1.6 -0.3l1.5 -0.2l0 5.8l-1.5 0.2l-1.6 -0.8l-1.5 0.8l-1.6 -0.3l-1.5 0.7l-1.6 -0.8l-1.5 0.1l-1.6 0.3l-1.5 1l-1.6 -0.7l-1.5 0.6l-1.6 0l-1.5 0.3l-1.6 0.3l-1.5 0l-1.6 0.3l-1.5 0.6l-1.6 0.2l-1.5 0l-1.6 -0.4l-1.5 -0.2l-1.6 0.4l-1.5 -0.2l-1.6 0.2l-1.5 -0.3l-1.6 -0.1l-1.5 0l-1.6 -0.5l-1.5 0.6l-1.6 -0.1l-1.5 -1.3l-1.6 0.4l-1.5 -1l-1.6 -0.4l-1.5 -1l-1.6 0.3l-1.5 -1.5l-1.6 0.2l-1.5 -1.1l-1.6 -1.6l-1.5 -0.4l-1.6 -1.1l-1.5 -0.6l-1.6 -0.4l-1.5 -1.6l-1.6 -0.6l-1.5 -1.2l-1.6 0.1l-1.5 -0.9l-1.6 -1.5l-1.5 -0.6l-1.6 -1.2l-1.5 -1l-1.6 -1.9l-1.5 -0.8l-1.6 -1.2l-1.5 -1.2l-1.6 -1.7l-1.5 -0.2l-1.6 -0.9l-1.5 -1l-1.6 -1.4l-1.5 -0.9l-1.6 -0.5l-1.5 -0.5l-1.6 -1.2l-1.5 0.4l-1.6 -0.1l-1.5 0.4l-1.6 -0.4l-1.5 0.8l-1.6 0.9l-1.5 1l-1.6 1l-1.5 0.7l-1.6 0.9l-1.5 1.2l-1.6 2l-1.5 1l-1.6 1.1l-1.5 1.6l-1.6 2.1l-1.5 0.4l-1.6 1.5l-1.5 1.4l-1.6 0.9l-1.5 1.2l-1.6 0.8l-1.5 1.3l-1.6 0.6l-1.5 0.4l-1.6 1.4l-1.5 0.5l-1.6 0.4l-1.5 0.8l-1.6 1.3l-1.5 0.4l-1.6 1.1l-1.5 0.7l-1.6 -0.5l-1.5 1.4l-1.6 0.3l-1.5 0.4l-1.6 1.2l-1.5 0.5l-1.6 0.2l-1.5 1.6l-1.6 -0.2l-1.5 1.7l-1.6 0l-1.5 1.7l-1.6 0.3l-1.5 1.5l-1.6 0.6l-1.5 1.1l-1.6 0.5l-1.5 1.2l-1.6 0.6l-1.5 1.2l-1.6 1.6l-1.5 1.1l-1.6 0l-1.5 1.1l-1.6 1.3l-1.5 0.2l-1.6 1.2l-1.5 0.7l-1.6 1l-1.5 0.4l-1.6 0.9l-1.5 0.3l-1.6 0.1l-1.5 0.4l-1.6 -0.4l-1.5 -0.9l-1.6 -0.7l-1.5 -1.3l-1.6 -2.7l-1.5 -2l-1.6 -2.6l-1.5 -2.5l-1.6 -3l-1.5 -2.7l-1.6 -3.3l-1.5 -4.4l-1.6 -3.7l-1.5 -4.6l-1.6 -3.8l-1.5 -5.1l-1.6 -4.4l-1.5 -3.1l-1.6 -3.8l-1.5 -4.4l-1.6 -2.4l-1.5 -3.3l-1.6 -2.4l-1.5 -2.7l-1.6 -2.3l-1.5 -2.2l-1.6 -1.9l-1.5 -1.9l-1.6 -2.1l-1.5 -1l-1.6 -2l-1.5 -0.7l-1.6 -1.1l-1.5 -0.5l-1.6 0l-1.5 0.4l-1.5 0.1l-1.6 0.2l-1.5 0.6l-1.6 1.5l-1.5 0.9l-1.6 1.7l-1.5 0.5l-1.6 1.1l-1.5 1.4l-1.6 2.5l-1.5 1.2l-1.6 2l-1.5 2l-1.6 2l-1.5 2.2l-1.6 3.2l-1.5 1.8l-1.6 2.9l-1.5 2.9l-1.6 2.1l-1.5 3.8l-1.6 2.7l-1.5 2.1l-1.6 3.2l-1.5 3.9l-1.6 2.6l-1.5 4l-1.6 3.1l-1.5 2.7l-1.6 3.7l-1.5 3.1l-1.6 2.6l-1.5 3l-1.6 3.3l-1.5 2.5l-1.6 3.1l-1.5 2.9l-1.6 3.7l-1.5 2.6l-1.6 2.6l-1.5 2.9l-1.6 2.8l-1.5 2.4l-1.6 2l-1.5 2l-1.6 1l-1.5 1.6l-1.6 -0.5l-1.5 0.8l-1.6 -2l-1.5 -2.2l-1.6 -3.7l-1.5 -3.8l-1.6 -3.6l-1.5 -3.2l-1.6 -4.7l-1.5 -4.6l-1.6 -4.2l-1.5 -4.6l-1.6 -4.8l-1.5 -4.8l-1.6 -5l-1.5 -5.4l-1.6 -4.3l-1.5 -4.8l-1.6 -4l-1.5 -4.5l-1.6 -2.9l-1.5 -3.5l-1.6 -3.2l-1.5 -3.2l-1.6 -2.3l-1.5 -3.4l-1.6 -1.9l-1.5 -2.5l-1.6 -1.4l-1.5 -2.2l-1.6 -1.3l-1.5 -1.5l-1.6 -1.2l-1.5 0.3l-1.6 -0.8l-1.5 1.1l-1.6 0.4l-1.5 1.6l-1.6 1.7l-1.5 2.8l-1.6 2.7l-1.5 2.9l-1.6 3.2l-1.5 3l-1.6 4.1l-1.5 2.9l-1.6 4.1l-1.5 3.3l-1.6 4.2l-1.5 3.5l-1.6 4.3l-1.5 3.2l-1.6 4.1l-1.5 4.1l-1.6 3.5l-1.5 3.1l-1.6 4.1l-1.5 2.8l-1.6 4.1l-1.5 3.6l-1.6 4.9l-1.5 3.4l-1.6 4.6l-1.5 4.3l-1.6 3.4l-1.5 3.9l-1.6 3l-1.5 2.6l-1.6 2.8l-1.5 2l-1.6 0.4l-1.5 0.7l-1.6 -1l-1.5 -2.4l-1.6 -2.7l-1.5 -3.6l-1.6 -3.9l-1.5 -4.5l-1.6 -4.8l-1.5 -5.4l-1.6 -5.6l-1.5 -6.4l-1.6 -5.4l-1.5 -6.6l-1.6 -5.4l-1.5 -6.2l-1.6 -7.2l-1.5 -7.3l-1.6 -6.3l-1.5 -6.2l-1.6 -4.4l-1.5 -4.3l-1.6 -3.5l-1.5 0l-1.6 3.2l-1.5 5.2l-1.6 7l-1.5 7.2l-1.6 8.2l-1.5 8.5l-1.6 11.4l-1.5 9.2l-1.6 10l-1.5 7.6l-1.6 8.3l-1.5 8.8l-1.6 7.8l-1.5 7l-1.6 7.6l-1.5 5.7l-1.6 0.1l-1.5 -3.5l-1.6 -5l-1.5 -5.6l-1.6 -5.7l-1.5 -5.4l-1.6 -5.7l-1.5 -6.5l-1.6 -5.8l-1.5 -5.4l-1.6 -5.4l-1.5 -4.5l-1.6 -3.9l-1.5 -3.4l-0.5 -1.3l-0.5 -1.2l-0.5 0.3l-0.6 -0.1l-0.5 -0.1l-0.5 1l-0.5 0.7l-0.5 1.6l-0.5 2.1l-0.5 1.9l-0.5 3.2l-0.6 1.2l-0.5 3.1l-0.5 1.7l-0.5 1.2l-0.5 1.5l-0.5 1l-0.5 0.6l-0.5 0.3l-0.6 0.1l-0.5 -0.2l-0.5 -0.2l-0.5 -0.3l-0.5 -0.3l-0.5 -0.3l-0.5 -0.3l-0.5 -0.2l-0.6 -0.1l-0.5 0.1l-0.5 0.4l-0.5 1.4l-0.5 3.2l-0.5 7.8l-0.5 20.7l-0.5 18.9l-0.6 18.2l-0.5 20.2l-0.5 21l-0.5 20.5z" fill="#8a8a8a" fill-opacity="0.92" stroke="#8a8a8a" stroke-opacity="0.92" stroke-width="1"/>
<path d="M937.3 1640l0.5 -13.9l0.5 -14.1l0.5 -14.5l0.6 -14.8l0.5 -16.1l0.5 -16.6l0.5 -13l0.5 -10.9l0.5 -9.3l0.5 -7.5l0.5 -6.1l0.6 -5.3l0.5 -4.5l0.5 -3.9l0.5 -3.6l0.5 -3.3l0.5 -3l0.5 -3l0.5 -2.9l0.6 -2.8l0.5 -2.6l0.5 -2.5l0.5 -2.5l0.5 -2.1l0.5 -2.2l0.5 -2.2l0.5 -1.8l0.6 -0.8l0.5 -0.2l0.5 0.4l0.5 1.5l0.5 2.5l0.5 2l0.5 2.4l0.5 1.9l0.6 1.6l0.5 2.3l0.5 1.9l0.5 3.1l1.5 6.2l1.6 5.9l1.5 5.9l1.6 6.2l1.5 5.7l1.6 6.1l1.5 4.7l1.6 5.1l1.5 4.5l1.6 4.2l1.5 2.6l1.6 1.3l1.5 -0.4l1.6 -1.7l1.5 -4.2l1.6 -4.5l1.5 -4.4l1.6 -5.1l1.5 -6.3l1.6 -6.9l1.5 -8.5l1.6 -7.8l1.5 -6l1.6 -5.7l1.5 -4.2l1.6 -2.3l1.5 -0.2l1.6 1l1.5 2.3l1.6 2.6l1.5 4.6l1.6 5l1.5 5l1.6 5.1l1.5 5.2l1.6 5.2l1.5 5.2l1.6 4.8l1.5 4.5l1.6 5l1.5 4.1l1.6 4.1l1.5 2.9l1.6 2.6l1.5 1.6l1.6 1.7l1.5 0.7l1.6 0.2l1.5 -0.2l1.6 -0.6l1.5 -0.7l1.6 -2.1l1.5 -2.2l1.6 -2.4l1.5 -3.7l1.6 -3.2l1.5 -3.4l1.6 -3.9l1.5 -4.2l1.6 -3.6l1.5 -5l1.6 -4l1.5 -4.4l1.6 -4.3l1.5 -4.6l1.6 -5.1l1.5 -4.2l1.6 -5.2l1.5 -3.8l1.6 -4.2l1.5 -3.7l1.6 -2.7l1.5 -3l1.6 -3.1l1.5 -2l1.6 -2.8l1.5 -2.2l1.6 -1.2l1.5 -1.5l1.6 -1.5l1.5 -1l1.6 -0.5l1.5 -0.2l1.6 -0.1l1.5 -0.3l1.6 0.6l1.5 0.3l1.6 1.2l1.5 0.7l1.6 0.9l1.5 1.7l1.6 1.6l1.5 1.9l1.6 1.8l1.5 2.3l1.6 2.4l1.5 3l1.6 2.8l1.5 2.5l1.6 3.2l1.5 3l1.6 2.6l1.5 3l1.6 2.7l1.5 2.9l1.6 2.5l1.5 2.6l1.6 2.5l1.5 2.3l1.6 1.9l1.5 2.4l1.6 1.7l1.5 2.1l1.6 2.4l1.5 1.8l1.6 1.5l1.5 1.7l1.6 1.1l1.5 0.9l1.6 1.4l1.5 0.4l1.6 0.2l1.5 -0.7l1.6 -0.6l1.5 -0.7l1.6 -1l1.5 -1l1.6 -1.5l1.5 -1.6l1.6 -1l1.5 -1.8l1.6 -1.8l1.5 -1.6l1.6 -1.5l1.5 -2l1.6 -1.6l1.5 -1.7l1.6 -2l1.5 -1.9l1.6 -1.4l1.5 -2.9l1.6 -2.6l1.5 -1.9l1.6 -2.6l1.5 -2.7l1.6 -2l1.5 -2.3l1.6 -2.4l1.5 -1.6l1.6 -1.9l1.5 -1.9l1.6 -1l1.5 -2.2l1.6 -1.4l1.5 -1l1.6 -1.5l1.5 -1l1.6 -0.6l1.5 -0.7l1.6 -0.9l1.5 -0.6l1.6 -0.3l1.5 0l1.6 -0.1l1.5 -0.5l1.6 0.2l1.5 0.3l1.6 0l1.5 0.3l1.6 0.3l1.5 0.2l1.5 0l1.6 0.6l1.5 1l1.6 0.5l1.5 0.5l1.6 1.4l1.5 0.8l1.6 1.3l1.5 0.6l1.6 1.1l1.5 1.7l1.6 1.6l1.5 1l1.6 1.5l1.5 1.5l1.6 1.6l1.5 2.1l1.6 1.6l1.5 2l1.6 1.7l1.5 2.1l1.6 1.3l1.5 2.2l1.6 1.4l1.5 1.7l1.6 1.9l1.5 1.3l1.6 1l1.5 0.7l1.6 0.7l1.5 0.4l1.6 -0.2l1.5 -0.1l1.6 0.5l1.5 -0.8l1.6 -0.4l1.5 -0.4l1.6 -1.1l1.5 -0.4l1.6 -1.1l1.5 -0.6l1.6 -1l1.5 -0.6l1.6 -0.8l1.5 -0.8l1.6 -1.1l1.5 -0.8l1.6 0l1.5 -0.5l1.6 -1.2l1.5 -0.3l1.6 -0.7l1.5 -0.7l1.6 -0.2l1.5 -0.8l1.6 -0.2l1.5 -0.7l1.6 -0.9l1.5 -0.4l1.6 -0.5l1.5 -0.3l1.6 -0.4l1.5 -0.5l1.6 -0.1l1.5 -0.6l1.6 -0.1l1.5 -0.1l1.6 0.2l1.5 -0.1l1.6 0.1l1.5 -0.1l1.6 -0.3l1.5 0.4l1.6 0.2l1.5 -0.3l1.6 0.8l1.5 -0.3l1.6 0.5l1.5 -0.1l1.6 0.1l1.5 -0.5l1.6 0.3l1.5 -0.2l1.6 0.3l1.5 -0.9l1.6 0l1.5 0.1l1.6 -0.4l1.5 -0.6l1.6 0.1l1.5 -0.2l1.6 -0.7l1.5 -0.2l1.6 -0.2l1.5 -0.3l1.6 0.2l1.5 -0.3l1.6 0.1l1.5 -0.5l1.6 0.4l1.5 -0.1l1.6 0.2l1.5 0.2l1.6 0.1l1.5 0.4l1.6 -0.2l1.5 0.7l1.6 0.1l1.5 0.9l1.6 -0.1l1.5 0.5l1.6 0.7l1.5 -0.3l1.6 1l1.5 -0.1l1.6 0.4l1.5 0.4l1.6 0.7l1.5 0.3l1.6 0.4l1.5 0l1.6 0.2l1.5 0.2l1.6 0.4l1.5 0.3l1.6 -0.1l1.5 0.9l1.6 0.3l1.5 0.2l1.6 0l1.5 0.1l1.6 0.6l1.5 0.1l1.6 0.1l1.5 0.3l1.6 -0.4l1.5 0.8l1.6 -0.5l1.5 0.5l1.6 0.3l1.5 -0.3l1.6 0.5l1.5 -0.6l1.6 0.5l1.5 0.2l1.6 -0.1l1.5 -0.1l1.6 -0.1l1.5 0.1l1.6 0.3l1.5 -0.3l1.6 0l1.5 -0.1l1.6 0.1l1.5 0.2l1.6 -0.1l1.5 -0.6l1.6 0l1.5 0.1l1.6 0.3l1.5 -0.5l1.6 0.3l1.5 -0.2l1.6 0.1l1.5 0l1.6 0.3l1.5 -0.1l1.6 0l1.5 -0.2" fill="none" stroke="#b0b0b0" stroke-width="0.8" stroke-linejoin="round" stroke-linecap="round" stroke-opacity="0.8"/>
<path d="M937.3 1640l0.5 -15.8l0.5 -16l0.5 -16.1l0.6 -15.8l0.5 -16.9l0.5 -17.8l0.5 -11.5l0.5 -8.7l0.5 -7.1l0.5 -5.4l0.5 -4.5l0.6 -3.7l0.5 -3.2l0.5 -2.7l0.5 -2.5l0.5 -2.2l0.5 -2.1l0.5 -2.1l0.5 -2l0.6 -2l0.5 -2l0.5 -2l0.5 -2l0.5 -2l0.5 -1.9l0.5 -2l0.5 -2.2l0.6 -0.9l0.5 -1.1l0.5 -0.2l0.5 0.5l0.5 1.3l0.5 1.2l0.5 1.4l0.5 1.4l0.6 1.2l0.5 1.6l0.5 1.7l0.5 2.5l1.5 5.5l1.6 5.3l1.5 5.5l1.6 6l1.5 5.6l1.6 6l1.5 5.2l1.6 5.3l1.5 4.8l1.6 4.6l1.5 3.4l1.6 2.4l1.5 0.7l1.6 -1.3l1.5 -4.6l1.6 -5.4l1.5 -5.1l1.6 -5.9l1.5 -7l1.6 -7.2l1.5 -8.4l1.6 -8.4l1.5 -6.9l1.6 -7.3l1.5 -5.4l1.6 -4l1.5 -2.2l1.6 -1.2l1.5 0.1l1.6 1l1.5 3.2l1.6 4.7l1.5 4.8l1.6 4.8l1.5 5.5l1.6 5.5l1.5 5.8l1.6 5.5l1.5 5l1.6 5.1l1.5 4.8l1.6 4.5l1.5 3.9l1.6 3.4l1.5 2.7l1.6 2.6l1.5 1.7l1.6 1.3l1.5 0.9l1.6 0.3l1.5 0.2l1.6 -1.2l1.5 -1.7l1.6 -1.9l1.5 -3.2l1.6 -3.1l1.5 -3.2l1.6 -3.6l1.5 -4.2l1.6 -3.5l1.5 -4.8l1.6 -4.2l1.5 -4l1.6 -4.6l1.5 -4.3l1.6 -4.8l1.5 -3.8l1.6 -4.9l1.5 -3.6l1.6 -4l1.5 -3.8l1.6 -3.1l1.5 -3l1.6 -3.4l1.5 -2.5l1.6 -3.2l1.5 -2.5l1.6 -2l1.5 -1.9l1.6 -2.2l1.5 -1.6l1.6 -1.3l1.5 -0.9l1.6 -0.9l1.5 -1l1.6 0l1.5 -0.3l1.6 0.7l1.5 0.2l1.6 0.9l1.5 1.1l1.6 1.5l1.5 1.8l1.6 1.7l1.5 2.2l1.6 2.1l1.5 2.9l1.6 2.5l1.5 2.8l1.6 2.9l1.5 3.1l1.6 2.8l1.5 3.1l1.6 2.8l1.5 3.3l1.6 3l1.5 3.2l1.6 3l1.5 3.2l1.6 2.7l1.5 3.1l1.6 2.7l1.5 2.7l1.6 3l1.5 2.6l1.6 2.3l1.5 2.2l1.6 1.8l1.5 1.7l1.6 2.1l1.5 0.8l1.6 0.7l1.5 -0.6l1.6 -0.3l1.5 -1l1.6 -1l1.5 -1.3l1.6 -1.6l1.5 -1.9l1.6 -1.4l1.5 -2.2l1.6 -2l1.5 -1.9l1.6 -2.1l1.5 -2.3l1.6 -1.9l1.5 -2l1.6 -2.4l1.5 -2.2l1.6 -1.8l1.5 -2.9l1.6 -2.9l1.5 -2.1l1.6 -2.8l1.5 -3l1.6 -2.2l1.5 -2.8l1.6 -2.6l1.5 -1.7l1.6 -2.1l1.5 -2.5l1.6 -1.3l1.5 -2.4l1.6 -1.8l1.5 -1.3l1.6 -2l1.5 -1.3l1.6 -1l1.5 -1.1l1.6 -1.2l1.5 -0.7l1.6 -0.9l1.5 -0.4l1.6 -0.4l1.5 -0.6l1.6 -0.3l1.5 0l1.6 -0.4l1.5 0l1.6 0.2l1.5 0.1l1.5 -0.1l1.6 0.4l1.5 0.9l1.6 0.6l1.5 0.6l1.6 1.5l1.5 0.9l1.6 1.5l1.5 1l1.6 1.3l1.5 1.9l1.6 1.7l1.5 1.6l1.6 1.7l1.5 2l1.6 1.9l1.5 2.7l1.6 2.2l1.5 2.3l1.6 2.5l1.5 2.9l1.6 2l1.5 2.9l1.6 2.1l1.5 2.4l1.6 2.3l1.5 1.7l1.6 1.6l1.5 1.2l1.6 1.3l1.5 0.8l1.6 0.7l1.5 0.3l1.6 0.5l1.5 -0.3l1.6 -0.2l1.5 -0.4l1.6 -0.8l1.5 -0.4l1.6 -1l1.5 -0.6l1.6 -1l1.5 -0.6l1.6 -0.9l1.5 -0.6l1.6 -1.2l1.5 -0.8l1.6 -0.1l1.5 -0.6l1.6 -1.3l1.5 -0.6l1.6 -0.7l1.5 -0.8l1.6 -0.3l1.5 -0.9l1.6 -0.3l1.5 -0.9l1.6 -0.8l1.5 -0.7l1.6 -0.4l1.5 -0.7l1.6 -0.2l1.5 -0.9l1.6 -0.1l1.5 -0.5l1.6 -0.4l1.5 -0.2l1.6 0l1.5 -0.5l1.6 0.3l1.5 -0.3l1.6 -0.6l1.5 0.2l1.6 -0.2l1.5 -0.5l1.6 0.5l1.5 -0.3l1.6 -0.1l1.5 -0.2l1.6 0l1.5 -0.8l1.6 0l1.5 -0.5l1.6 0l1.5 -1l1.6 -0.5l1.5 0l1.6 -0.9l1.5 -0.9l1.6 -0.2l1.5 -0.5l1.6 -1l1.5 -0.5l1.6 -0.5l1.5 -0.3l1.6 -0.2l1.5 -0.5l1.6 -0.2l1.5 -0.5l1.6 0.4l1.5 -0.2l1.6 0.2l1.5 0l1.6 0.4l1.5 0.4l1.6 0l1.5 0.8l1.6 0.4l1.5 1l1.6 0.1l1.5 0.4l1.6 1l1.5 0.2l1.6 1l1.5 0.2l1.6 0.8l1.5 0.6l1.6 0.9l1.5 0.3l1.6 0.7l1.5 0.3l1.6 0.1l1.5 0.5l1.6 0.5l1.5 0.6l1.6 0l1.5 0.9l1.6 0.5l1.5 0.2l1.6 0.6l1.5 0.3l1.6 0.4l1.5 0.5l1.6 0l1.5 0.4l1.6 -0.1l1.5 0.8l1.6 -0.4l1.5 0.7l1.6 0.2l1.5 -0.4l1.6 0.5l1.5 -0.4l1.6 0.4l1.5 0.3l1.6 -0.2l1.5 0l1.6 -0.2l1.5 0.1l1.6 0.4l1.5 -0.3l1.6 0l1.5 -0.3l1.6 0l1.5 0.2l1.6 -0.2l1.5 -0.5l1.6 0l1.5 -0.1l1.6 0.4l1.5 -0.6l1.6 0.1l1.5 -0.2l1.6 0.4l1.5 -0.2l1.6 0.2l1.5 -0.2l1.6 0.2l1.5 -0.2" fill="none" stroke="#b0b0b0" stroke-width="0.8" stroke-linejoin="round" stroke-linecap="round" stroke-opacity="0.8"/>
<path d="M937.3 1640l0.5 -17.7l0.5 -17.9l0.5 -17.8l0.6 -16.8l0.5 -17.6l0.5 -19l0.5 -10l0.5 -6.5l0.5 -4.8l0.5 -3.5l0.5 -2.7l0.6 -2.2l0.5 -1.9l0.5 -1.5l0.5 -1.3l0.5 -1.3l0.5 -1.1l0.5 -1.2l0.5 -1.2l0.6 -1.2l0.5 -1.3l0.5 -1.4l0.5 -1.7l0.5 -1.8l0.5 -1.6l0.5 -1.9l0.5 -2.5l0.6 -1.1l0.5 -1.9l0.5 -0.9l0.5 -0.5l0.5 0.2l0.5 0.4l0.5 0.5l0.5 0.9l0.6 0.7l0.5 0.9l0.5 1.4l0.5 2.1l1.5 4.7l1.6 4.7l1.5 5.1l1.6 5.8l1.5 5.5l1.6 5.9l1.5 5.7l1.6 5.5l1.5 5l1.6 5l1.5 4.3l1.6 3.4l1.5 1.8l1.6 -0.8l1.5 -5l1.6 -6.2l1.5 -5.9l1.6 -6.7l1.5 -7.7l1.6 -7.6l1.5 -8.1l1.6 -9l1.5 -7.8l1.6 -9l1.5 -6.6l1.6 -5.7l1.5 -4.2l1.6 -3.5l1.5 -2l1.6 -0.6l1.5 1.9l1.6 4.2l1.5 4.6l1.6 4.7l1.5 5.7l1.6 5.9l1.5 6.4l1.6 6.1l1.5 5.5l1.6 5.2l1.5 5.5l1.6 4.9l1.5 4.9l1.6 4.3l1.5 3.7l1.6 3.5l1.5 2.8l1.6 2.4l1.5 1.9l1.6 1.3l1.5 1l1.6 -0.3l1.5 -1.3l1.6 -1.3l1.5 -2.7l1.6 -3l1.5 -2.9l1.6 -3.4l1.5 -4.1l1.6 -3.5l1.5 -4.6l1.6 -4.3l1.5 -3.8l1.6 -4.7l1.5 -4l1.6 -4.5l1.5 -3.4l1.6 -4.6l1.5 -3.4l1.6 -3.8l1.5 -3.9l1.6 -3.5l1.5 -3.2l1.6 -3.7l1.5 -2.9l1.6 -3.6l1.5 -2.9l1.6 -2.7l1.5 -2.3l1.6 -3l1.5 -2.1l1.6 -2.1l1.5 -1.7l1.6 -1.6l1.5 -1.7l1.6 -0.7l1.5 -0.8l1.6 0.3l1.5 -0.4l1.6 0.9l1.5 0.5l1.6 1.5l1.5 1.6l1.6 1.5l1.5 2.3l1.6 1.8l1.5 2.7l1.6 2.3l1.5 3l1.6 2.7l1.5 3.1l1.6 3l1.5 3.2l1.6 2.8l1.5 3.9l1.6 3.3l1.5 3.9l1.6 3.5l1.5 4.1l1.6 3.6l1.5 3.8l1.6 3.5l1.5 3.5l1.6 3.4l1.5 3.4l1.6 3.3l1.5 2.5l1.6 2.6l1.5 2.5l1.6 2.7l1.5 1.4l1.6 1.2l1.5 -0.7l1.6 0l1.5 -1.2l1.6 -1l1.5 -1.6l1.6 -1.7l1.5 -2.1l1.6 -2l1.5 -2.4l1.6 -2.3l1.5 -2.2l1.6 -2.7l1.5 -2.5l1.6 -2.4l1.5 -2.3l1.6 -2.7l1.5 -2.5l1.6 -2.1l1.5 -3l1.6 -3.2l1.5 -2.4l1.6 -2.9l1.5 -3.4l1.6 -2.3l1.5 -3.3l1.6 -2.8l1.5 -1.9l1.6 -2.3l1.5 -3l1.6 -1.7l1.5 -2.5l1.6 -2.3l1.5 -1.5l1.6 -2.4l1.5 -1.7l1.6 -1.4l1.5 -1.4l1.6 -1.5l1.5 -1l1.6 -1.5l1.5 -0.8l1.6 -0.7l1.5 -0.5l1.6 -0.9l1.5 -0.4l1.6 -0.8l1.5 -0.3l1.6 0.1l1.5 0l1.5 -0.2l1.6 0.2l1.5 0.8l1.6 0.8l1.5 0.6l1.6 1.8l1.5 0.9l1.6 1.7l1.5 1.4l1.6 1.5l1.5 2l1.6 2l1.5 2l1.6 2l1.5 2.5l1.6 2.1l1.5 3.3l1.6 2.9l1.5 2.6l1.6 3.3l1.5 3.8l1.6 2.7l1.5 3.6l1.6 2.7l1.5 3.2l1.6 2.7l1.5 2.1l1.6 2.1l1.5 1.7l1.6 1.8l1.5 1.3l1.6 1.5l1.5 0.7l1.6 0.6l1.5 0.2l1.6 0l1.5 -0.4l1.6 -0.5l1.5 -0.4l1.6 -0.9l1.5 -0.5l1.6 -1l1.5 -0.7l1.6 -1l1.5 -0.4l1.6 -1.3l1.5 -0.9l1.6 -0.1l1.5 -0.8l1.6 -1.4l1.5 -0.8l1.6 -0.7l1.5 -1l1.6 -0.3l1.5 -1l1.6 -0.4l1.5 -1.2l1.6 -0.5l1.5 -1.2l1.6 -0.2l1.5 -1.1l1.6 -0.1l1.5 -1.1l1.6 -0.1l1.5 -0.6l1.6 -0.7l1.5 -0.3l1.6 -0.1l1.5 -0.8l1.6 0.4l1.5 -0.5l1.6 -0.8l1.5 0l1.6 -0.7l1.5 -0.6l1.6 0.2l1.5 -0.4l1.6 -0.6l1.5 -0.3l1.6 -0.3l1.5 -0.9l1.6 -0.4l1.5 -0.8l1.6 -0.3l1.5 -1.2l1.6 -0.9l1.5 -0.1l1.6 -1.4l1.5 -1.1l1.6 -0.7l1.5 -0.6l1.6 -1.4l1.5 -0.8l1.6 -0.7l1.5 -0.5l1.6 -0.4l1.5 -0.8l1.6 -0.4l1.5 -0.7l1.6 0.5l1.5 -0.3l1.6 0.1l1.5 -0.1l1.6 0.7l1.5 0.5l1.6 0.1l1.5 0.8l1.6 0.9l1.5 1l1.6 0.4l1.5 0.3l1.6 1.3l1.5 0.6l1.6 1.1l1.5 0.4l1.6 1.2l1.5 0.8l1.6 1l1.5 0.4l1.6 1.1l1.5 0.5l1.6 0l1.5 0.8l1.6 0.5l1.5 1l1.6 0.2l1.5 0.7l1.6 0.8l1.5 0.3l1.6 1l1.5 0.6l1.6 0.1l1.5 0.9l1.6 -0.1l1.5 0.7l1.6 0.1l1.5 0.9l1.6 -0.4l1.5 0.9l1.6 0.2l1.5 -0.5l1.6 0.5l1.5 -0.3l1.6 0.3l1.5 0.3l1.6 -0.2l1.5 0.1l1.6 -0.3l1.5 0.1l1.6 0.4l1.5 -0.1l1.6 -0.1l1.5 -0.4l1.6 -0.2l1.5 0.2l1.6 -0.3l1.5 -0.4l1.6 0l1.5 -0.3l1.6 0.5l1.5 -0.8l1.6 0l1.5 -0.1l1.6 0.5l1.5 -0.4l1.6 0.3l1.5 -0.5l1.6 0.4l1.5 -0.1" fill="none" stroke="#b0b0b0" stroke-width="0.8" stroke-linejoin="round" stroke-linecap="round" stroke-opacity="0.8"/>
<path d="M937.3 1640l0.5 -19.2l0.5 -19.5l0.5 -19.1l0.6 -17.5l0.5 -18.3l0.5 -19.9l0.5 -8.8l0.5 -4.8l0.5 -3l0.5 -1.9l0.5 -1.3l0.6 -1l0.5 -0.8l0.5 -0.5l0.5 -0.5l0.5 -0.4l0.5 -0.4l0.5 -0.5l0.5 -0.4l0.6 -0.7l0.5 -0.7l0.5 -1l0.5 -1.3l0.5 -1.7l0.5 -1.4l0.5 -1.8l0.5 -2.8l0.6 -1.1l0.5 -2.6l0.5 -1.4l0.5 -1.4l0.5 -0.7l0.5 -0.2l0.5 -0.3l0.5 0.5l0.6 0.3l0.5 0.3l0.5 1.3l0.5 1.7l1.5 4l1.6 4.3l1.5 4.8l1.6 5.5l1.5 5.5l1.6 5.9l1.5 6.1l1.6 5.6l1.5 5.2l1.6 5.4l1.5 5l1.6 4.2l1.5 2.7l1.6 -0.4l1.5 -5.4l1.6 -6.9l1.5 -6.6l1.6 -7.2l1.5 -8.3l1.6 -8l1.5 -7.8l1.6 -9.5l1.5 -8.6l1.6 -10.2l1.5 -7.6l1.6 -7l1.5 -5.8l1.6 -5.4l1.5 -3.6l1.6 -2l1.5 0.9l1.6 3.8l1.5 4.5l1.6 4.5l1.5 6l1.6 6.1l1.5 6.8l1.6 6.8l1.5 5.8l1.6 5.3l1.5 6.1l1.6 5.1l1.5 5.8l1.6 4.9l1.5 4.6l1.6 4.2l1.5 3.7l1.6 3.2l1.5 2.8l1.6 2l1.5 1.8l1.6 0.3l1.5 -0.9l1.6 -0.8l1.5 -2.4l1.6 -2.9l1.5 -2.7l1.6 -3.2l1.5 -4l1.6 -3.4l1.5 -4.5l1.6 -4.5l1.5 -3.6l1.6 -4.7l1.5 -3.9l1.6 -4.3l1.5 -3l1.6 -4.4l1.5 -3.3l1.6 -3.6l1.5 -4l1.6 -3.8l1.5 -3.2l1.6 -4l1.5 -3.2l1.6 -3.9l1.5 -3.1l1.6 -3.5l1.5 -2.6l1.6 -3.6l1.5 -2.5l1.6 -2.7l1.5 -2.3l1.6 -2.2l1.5 -2.3l1.6 -1.2l1.5 -1.3l1.6 0l1.5 -0.8l1.6 0.9l1.5 0l1.6 1.4l1.5 1.6l1.6 1.3l1.5 2.2l1.6 1.6l1.5 2.6l1.6 2.1l1.5 3.3l1.6 2.4l1.5 3.2l1.6 3.1l1.5 3.3l1.6 2.9l1.5 4.2l1.6 3.7l1.5 4.4l1.6 3.9l1.5 4.8l1.6 4.3l1.5 4.3l1.6 4.2l1.5 4.1l1.6 3.8l1.5 4.1l1.6 4l1.5 2.9l1.6 3.1l1.5 3.1l1.6 3.3l1.5 1.8l1.6 1.6l1.5 -0.7l1.6 0.2l1.5 -1.3l1.6 -1l1.5 -1.9l1.6 -1.9l1.5 -2.2l1.6 -2.4l1.5 -2.7l1.6 -2.4l1.5 -2.4l1.6 -3.3l1.5 -2.7l1.6 -2.7l1.5 -2.4l1.6 -3.1l1.5 -2.8l1.6 -2.3l1.5 -3l1.6 -3.5l1.5 -2.5l1.6 -3l1.5 -3.8l1.6 -2.4l1.5 -3.7l1.6 -3l1.5 -2l1.6 -2.5l1.5 -3.4l1.6 -1.9l1.5 -2.7l1.6 -2.7l1.5 -1.6l1.6 -2.8l1.5 -2l1.6 -1.7l1.5 -1.7l1.6 -1.8l1.5 -1.1l1.6 -2l1.5 -1.1l1.6 -1l1.5 -0.5l1.6 -1.2l1.5 -0.7l1.6 -1.2l1.5 -0.4l1.6 -0.1l1.5 -0.1l1.5 -0.3l1.6 0.2l1.5 0.6l1.6 0.9l1.5 0.7l1.6 1.9l1.5 0.9l1.6 2l1.5 1.6l1.6 1.7l1.5 2.2l1.6 2.1l1.5 2.4l1.6 2.1l1.5 3l1.6 2.2l1.5 3.9l1.6 3.4l1.5 2.9l1.6 3.8l1.5 4.5l1.6 3.3l1.5 4.1l1.6 3.3l1.5 3.8l1.6 3l1.5 2.4l1.6 2.6l1.5 2.1l1.6 2.2l1.5 1.7l1.6 2.2l1.5 1l1.6 0.6l1.5 0.5l1.6 0.3l1.5 -0.4l1.6 -0.3l1.5 -0.3l1.6 -1l1.5 -0.4l1.6 -1l1.5 -0.7l1.6 -1.1l1.5 -0.3l1.6 -1.3l1.5 -1l1.6 -0.1l1.5 -0.9l1.6 -1.6l1.5 -0.9l1.6 -0.7l1.5 -1.1l1.6 -0.4l1.5 -1l1.6 -0.5l1.5 -1.4l1.6 -0.4l1.5 -1.5l1.6 0l1.5 -1.5l1.6 0.1l1.5 -1.4l1.6 -0.1l1.5 -0.6l1.6 -0.9l1.5 -0.4l1.6 -0.2l1.5 -1.1l1.6 0.4l1.5 -0.6l1.6 -0.9l1.5 -0.2l1.6 -1l1.5 -0.7l1.6 -0.2l1.5 -0.5l1.6 -0.9l1.5 -0.4l1.6 -0.4l1.5 -1.2l1.6 -0.5l1.5 -1.1l1.6 -0.6l1.5 -1.3l1.6 -1.2l1.5 -0.3l1.6 -1.8l1.5 -1.3l1.6 -0.9l1.5 -0.9l1.6 -1.6l1.5 -1l1.6 -0.9l1.5 -0.6l1.6 -0.7l1.5 -0.9l1.6 -0.7l1.5 -0.7l1.6 0.5l1.5 -0.4l1.6 0.1l1.5 -0.3l1.6 1l1.5 0.5l1.6 0.3l1.5 0.8l1.6 1.2l1.5 1l1.6 0.7l1.5 0.2l1.6 1.5l1.5 0.9l1.6 1.2l1.5 0.6l1.6 1.6l1.5 0.9l1.6 1.1l1.5 0.5l1.6 1.3l1.5 0.7l1.6 0l1.5 0.9l1.6 0.7l1.5 1.2l1.6 0.3l1.5 0.7l1.6 1l1.5 0.3l1.6 1.3l1.5 0.9l1.6 -0.1l1.5 1.3l1.6 -0.2l1.5 0.8l1.6 0.3l1.5 0.9l1.6 -0.4l1.5 1.1l1.6 0.1l1.5 -0.5l1.6 0.5l1.5 -0.1l1.6 0.2l1.5 0.3l1.6 -0.2l1.5 0.1l1.6 -0.4l1.5 0.2l1.6 0.5l1.5 -0.2l1.6 -0.1l1.5 -0.5l1.6 -0.2l1.5 0.1l1.6 -0.3l1.5 -0.4l1.6 0l1.5 -0.5l1.6 0.6l1.5 -0.8l1.6 -0.2l1.5 -0.1l1.6 0.7l1.5 -0.6l1.6 0.3l1.5 -0.7l1.6 0.6l1.5 -0.1" fill="none" stroke="#c9bd2b" stroke-width="5.4" stroke-linejoin="round" stroke-linecap="round"/>
<path d="M937.3 1640l0.5 -11.7l0.5 -11.7l0.5 -12.5l0.6 -13.7l0.5 -15.1l0.5 -15.3l0.5 -14.7l0.5 -13.5l0.5 -12.1l0.5 -9.8l0.5 -8.2l0.6 -7.1l0.5 -6.1l0.5 -5.4l0.5 -4.9l0.5 -4.5l0.5 -4.2l0.5 -4.1l0.5 -3.9l0.6 -3.7l0.5 -3.4l0.5 -3.2l0.5 -3l0.5 -2.3l0.5 -2.5l0.5 -2.3l0.5 -1.4l0.6 -0.7l0.5 0.8l0.5 1.2l0.5 2.8l0.5 3.8l0.5 2.9l0.5 3.6l0.5 2.4l0.6 2.2l0.5 3.2l0.5 2.2l0.5 3.6l1.5 7.3l1.6 6.5l1.5 6.4l1.6 6.5l1.5 5.8l1.6 6.1l1.5 4.2l1.6 4.8l1.5 4.3l1.6 3.7l1.5 1.5l1.6 0l1.5 -1.6l1.6 -2.4l1.5 -3.6l1.6 -3.5l1.5 -3.4l1.6 -4.2l1.5 -5.5l1.6 -6.4l1.5 -8.9l1.6 -7l1.5 -4.9l1.6 -3.8l1.5 -2.7l1.6 -0.3l1.5 2.2l1.6 3.8l1.5 4.8l1.6 4.5l1.5 6.2l1.6 5.6l1.5 5.2l1.6 5.3l1.5 4.9l1.6 4.8l1.5 4.5l1.6 3.9l1.5 4l1.6 4.8l1.5 3.3l1.6 3.7l1.5 1.7l1.6 1.5l1.5 0.3l1.6 0.6l1.5 -0.5l1.6 -1l1.5 -1.5l1.6 -1.8l1.5 -1.7l1.6 -3.1l1.5 -2.8l1.6 -3.1l1.5 -4.2l1.6 -3.4l1.5 -3.7l1.6 -4.2l1.5 -4.3l1.6 -3.7l1.5 -5.2l1.6 -3.8l1.5 -4.7l1.6 -4.2l1.5 -4.9l1.6 -5.4l1.5 -4.7l1.6 -5.6l1.5 -4l1.6 -4.5l1.5 -3.5l1.6 -2.2l1.5 -2.9l1.6 -2.7l1.5 -1.6l1.6 -2.3l1.5 -1.8l1.6 -0.2l1.5 -0.9l1.6 -0.7l1.5 -0.3l1.6 0.3l1.5 0.8l1.6 0.8l1.5 0.6l1.6 1.3l1.5 1l1.6 1.6l1.5 1.4l1.6 0.9l1.5 2.4l1.6 1.7l1.5 2.1l1.6 2l1.5 2.3l1.6 2.7l1.5 3.3l1.6 3.1l1.5 2.2l1.6 3.4l1.5 2.9l1.6 2.5l1.5 2.8l1.6 2.6l1.5 2.3l1.6 2.1l1.5 1.9l1.6 1.8l1.5 1.2l1.6 0.9l1.5 1.5l1.6 0.8l1.5 1.1l1.6 1.9l1.5 0.8l1.6 0.3l1.5 1.2l1.6 0.3l1.5 0l1.6 0.6l1.5 -0.3l1.6 -0.4l1.5 -0.6l1.6 -0.9l1.5 -0.5l1.6 -1l1.5 -0.6l1.6 -1.3l1.5 -1.4l1.6 -0.3l1.5 -1.5l1.6 -1.6l1.5 -1.2l1.6 -0.7l1.5 -1.7l1.6 -1.1l1.5 -1.5l1.6 -1.5l1.5 -1.6l1.6 -1l1.5 -2.8l1.6 -2.2l1.5 -1.6l1.6 -2.5l1.5 -2.2l1.6 -1.7l1.5 -1.8l1.6 -2.1l1.5 -1.5l1.6 -1.6l1.5 -1.3l1.6 -0.6l1.5 -1.9l1.6 -0.9l1.5 -0.8l1.6 -1l1.5 -0.5l1.6 -0.2l1.5 -0.3l1.6 -0.4l1.5 -0.4l1.6 0.5l1.5 0.4l1.6 0.3l1.5 -0.5l1.6 0.8l1.5 0.8l1.6 0.5l1.5 0.5l1.6 0.5l1.5 0.3l1.5 0.2l1.6 0.7l1.5 1.3l1.6 0.2l1.5 0.5l1.6 1.1l1.5 0.8l1.6 1l1.5 0.1l1.6 0.9l1.5 1.5l1.6 1.3l1.5 0.5l1.6 1.2l1.5 0.9l1.6 1.3l1.5 1.3l1.6 0.9l1.5 1.5l1.6 0.9l1.5 1l1.6 0.5l1.5 1.3l1.6 0.7l1.5 0.8l1.6 1.4l1.5 0.8l1.6 0.4l1.5 0l1.6 0.1l1.5 -0.2l1.6 -1.2l1.5 -0.5l1.6 0.4l1.5 -1.4l1.6 -0.6l1.5 -0.4l1.6 -1.5l1.5 -0.4l1.6 -1.2l1.5 -0.6l1.6 -1l1.5 -0.6l1.6 -0.7l1.5 -0.9l1.6 -1.1l1.5 -0.7l1.6 0l1.5 -0.3l1.6 -1l1.5 -0.1l1.6 -0.7l1.5 -0.5l1.6 -0.1l1.5 -0.7l1.6 -0.1l1.5 -0.4l1.6 -1.1l1.5 0.1l1.6 -0.8l1.5 0.2l1.6 -0.6l1.5 -0.2l1.6 0l1.5 -0.6l1.6 0.3l1.5 0l1.6 0.3l1.5 0.3l1.6 0l1.5 0.2l1.6 -0.1l1.5 0.6l1.6 0.8l1.5 -0.2l1.6 1.3l1.5 -0.2l1.6 1l1.5 0.1l1.6 0.3l1.5 -0.2l1.6 0.6l1.5 0.2l1.6 0.7l1.5 -0.7l1.6 0.5l1.5 0.3l1.6 0.1l1.5 -0.2l1.6 0.5l1.5 0.1l1.6 -0.3l1.5 0.2l1.6 0l1.5 -0.1l1.6 0.6l1.5 -0.1l1.6 0.4l1.5 -0.4l1.6 0.5l1.5 -0.1l1.6 0.3l1.5 0.4l1.6 -0.3l1.5 0.4l1.6 -0.4l1.5 0.6l1.6 -0.4l1.5 0.9l1.6 -0.5l1.5 0.6l1.6 0.4l1.5 -0.8l1.6 0.9l1.5 -0.3l1.6 -0.2l1.5 0.2l1.6 0.6l1.5 0.1l1.6 0.1l1.5 -0.3l1.6 0.2l1.5 0l1.6 0.3l1.5 -0.2l1.6 -0.3l1.5 1l1.6 0.1l1.5 0.1l1.6 -0.5l1.5 -0.3l1.6 0.9l1.5 -0.4l1.6 0.3l1.5 0l1.6 -0.7l1.5 0.7l1.6 -0.4l1.5 0.2l1.6 0.3l1.5 -0.2l1.6 0.6l1.5 -0.9l1.6 0.7l1.5 0.2l1.6 -0.2l1.5 -0.2l1.6 0.1l1.5 0l1.6 0.3l1.5 -0.4l1.6 0l1.5 0.1l1.6 0.2l1.5 0.3l1.6 0.1l1.5 -0.8l1.6 0l1.5 0.4l1.6 0.2l1.5 -0.5l1.6 0.6l1.5 -0.3l1.6 -0.1l1.5 0.3l1.6 0.2l1.5 0.2l1.6 -0.2l1.5 -0.3" fill="none" stroke="#2e94b1" stroke-width="4.2" stroke-linejoin="round" stroke-linecap="round"/>
<path d="M937.3 1802.2l0.5 -12.6l0.5 -13l0.5 -12.4l0.6 -11.2l0.5 -9.7l0.5 -8.6l0.5 -8l0.5 -7.8l0.5 -7.9l0.5 -8.3l0.5 -9l0.6 -9.3l0.5 -9.4l0.5 -9.2l0.5 -8.9l0.5 -8.2l0.5 -7.4l0.5 -6.1l0.5 -5.2l0.6 -4l0.5 -2.3l0.5 -0.9l0.5 0l0.5 0.3l0.5 1l0.5 0.6l0.5 2l0.6 1.1l0.5 1.4l0.5 2.6l0.5 2.4l0.5 1.6l0.5 2l0.5 2.4l0.5 1.4l0.6 2.8l0.5 1.5l0.5 2.2l0.5 2.2l1.5 7.3l1.6 7.4l1.6 6.9l1.5 6.6l1.5 7.3l1.6 6.1l1.6 6.1l1.5 6.3l1.5 6.8l1.6 5l1.6 3.4l1.5 2l1.5 0.4l1.6 -1.7l1.6 -2.7l1.5 -2.5l1.5 -2.8l1.6 -2.9l1.6 -3.1l1.5 -2.7l1.5 -2.4l1.6 -3.6l1.6 -2.6l1.5 -3.3l1.5 -3.1l1.6 -2.1l1.6 -1.1l1.5 -2l1.5 -0.4l1.6 -1.1l1.6 -0.2l1.5 1.2l1.5 0.6l1.6 1.5l1.6 2.2l1.5 3.2l1.5 4.1l1.6 5.3l1.6 5.7l1.5 4.5l1.5 2.4l1.6 0.9l1.6 1l1.5 0.2l1.5 0.8l1.6 -0.9l1.5 0.1l1.6 -1.1l1.5 -0.6l1.6 -1.5l1.6 -1.1l1.5 -2l1.5 -2l1.6 -2.9l1.6 -2.5l1.5 -2.8l1.5 -2.8l1.6 -2.2l1.6 -3.6l1.5 -2.6l1.5 -2.2l1.6 -2.7l1.6 -3.6l1.5 -3l1.5 -2.8l1.6 -2.4l1.5 -3.6l1.6 -3.1l1.5 -3.6l1.6 -2.9l1.6 -3l1.5 -2l1.5 -2.4l1.6 -2.7l1.6 -2.8l1.5 -1.4l1.5 -3l1.6 -1.6l1.6 -1.8l1.5 -1.7l1.5 -1.8l1.6 -1.3l1.6 -1l1.5 -0.2l1.5 -1l1.6 0l1.5 -0.2l1.6 0.5l1.5 -0.2l1.6 0.3l1.6 1.1l1.5 0l1.5 1l1.6 1.1l1.6 0.5l1.5 1.3l1.5 1l1.6 3l1.6 1.4l1.5 3.1l1.5 3.3l1.6 3.4l1.6 2.5l1.5 2.8l1.5 2l1.6 1.1l1.5 1.4l1.6 0.1l1.5 0.7l1.6 2l1.6 0.6l1.5 1.8l1.5 1.7l1.6 2.6l1.6 1.4l1.5 2l1.5 1.8l1.6 2.2l1.6 1.7l1.5 0.4l1.5 0.5l1.6 0.4l1.6 0.5l1.5 -1l1.5 0.5l1.6 -1l1.5 -0.5l1.6 0.3l1.5 -1.2l1.6 -0.3l1.6 -0.7l1.5 -0.3l1.5 -1l1.6 -0.5l1.6 -1.1l1.5 -0.9l1.5 -0.9l1.6 -1.2l1.6 -1.6l1.5 -0.9l1.5 -1.2l1.6 -2.2l1.6 -1.2l1.5 -1.5l1.5 -2.1l1.6 -1.8l1.5 -2.4l1.6 -1.2l1.5 -2.8l1.6 -1.7l1.6 -1.1l1.5 -2l1.5 -0.9l1.6 -2.1l1.6 -0.6l1.5 -1.4l1.5 -1.7l1.6 -1l1.6 -1.2l1.5 -1.9l1.5 -0.3l1.6 -1.1l1.6 -1.6l1.5 -1.5l1.5 -0.5l1.6 -1.4l1.6 -0.9l1.5 -0.5l1.5 -1.8l1.6 -0.8l1.6 0l1.5 -0.7l1.5 -0.9l1.6 -0.4l1.6 0.7l1.5 -0.3l1.5 0.8l1.6 0.4l1.6 0.3l1.5 1.1l1.5 1.3l1.6 1l1.6 0.9l1.5 1.6l1.5 0.7l1.6 0.9l1.6 0.7l1.5 0.8l1.5 1l1.6 1.7l1.6 0.4l1.5 1.2l1.5 1.7l1.6 1.5l1.6 0.3l1.5 1.3l1.5 1.1l1.6 0.8l1.6 1.4l1.5 1l1.5 0.3l1.6 0.3l1.6 0.8l1.5 0.7l1.5 -0.3l1.6 0.8l1.6 0.4l1.5 0l1.5 0l1.6 0.2l1.6 0.2l1.5 -0.1l1.5 0.2l1.6 -0.1l1.6 -1.1l1.5 0.9l1.5 -1l1.6 0l1.6 -0.1l1.5 0.4l1.5 -1l1.6 -0.3l1.6 0.1l1.5 0.3l1.5 -0.9l1.6 0l1.6 -0.1l1.5 -0.2l1.5 -0.1l1.6 -0.5l1.6 0.3l1.5 -0.6l1.5 -0.3l1.6 -0.6l1.6 -0.3l1.5 0l1.5 0.1l1.6 0l1.6 -0.7l1.5 0.1l1.5 -0.7l1.6 -0.5l1.6 -0.1l1.5 0.1l1.5 -0.4l1.6 -0.1l1.6 -0.5l1.5 0.4l1.5 -0.7l1.6 0.1l1.6 -0.6l1.5 -0.6l1.5 0l1.6 0.3l1.6 -0.5l1.5 -1.1l1.5 0.1l1.6 -0.5l1.6 0.4l1.5 -0.6l1.5 0l1.6 -0.3l1.6 -0.5l1.5 0l1.5 0.3l1.6 -0.4l1.6 -0.5l1.5 -0.2l1.5 -0.2l1.6 0.1l1.6 0.2l1.5 0.1l1.5 0.3l1.6 -0.4l1.6 0.6l1.5 -0.2l1.5 0.2l1.6 -0.3l1.6 0.1l1.5 0.5l1.5 0.2l1.6 0.7l1.6 -0.1l1.5 -0.2l1.5 0.5l1.6 -0.4l1.6 0.5l1.5 0.8l1.5 -0.2l1.6 0.5l1.6 0.3l1.5 0l1.5 -0.4l1.6 0.8l1.6 0.1l1.5 -0.5l1.5 0.9l1.6 -0.4l1.6 0.1l1.5 0.9l1.5 -0.9l1.6 0.3l1.6 1.1l1.5 -0.6l1.5 0.3l1.6 0l1.6 0l1.5 0.5l1.5 0.3l1.6 -0.1l1.6 0.8l1.5 -0.3l1.5 0.9l1.6 -0.2l1.6 0.5l1.5 -0.4l1.5 0.5l1.6 0.4l1.6 0.2l1.5 0.4l1.5 -0.4l1.6 0.2l1.6 0.5l1.5 -0.2l1.5 0.7l1.6 -0.7l1.6 0.4l1.5 -0.1l1.5 -0.1l1.6 0.3l1.6 0.7l1.5 -0.2l1.5 -0.1l1.6 0.6l1.6 -0.4l1.5 -0.4l1.5 0.5l1.6 0.4l1.6 -0.3l1.5 -0.4l1.5 -0.3l1.6 0.6l1.5 -0.1l1.6 0.5l0 2.4l-1.6 -0.5l-1.5 -0.2l-1.6 0l-1.5 0l-1.5 -1.3l-1.6 0.5l-1.6 -0.9l-1.5 0.3l-1.5 -0.8l-1.6 -0.1l-1.6 -0.2l-1.5 0.3l-1.5 -1.3l-1.6 0.2l-1.6 -0.2l-1.5 0.4l-1.5 -0.7l-1.6 -0.1l-1.6 -1.1l-1.5 0.6l-1.5 -0.8l-1.6 -0.3l-1.6 -0.2l-1.5 0.5l-1.5 -1.2l-1.6 0.7l-1.6 -0.6l-1.5 -0.6l-1.5 -0.3l-1.6 0.2l-1.6 -0.7l-1.5 0.4l-1.5 -0.5l-1.6 -0.8l-1.6 -0.5l-1.5 0.1l-1.5 0l-1.6 -0.7l-1.6 0.1l-1.5 0l-1.5 -1.3l-1.6 -0.1l-1.6 0.1l-1.5 -1.3l-1.5 0l-1.6 -1l-1.6 -0.5l-1.5 -0.8l-1.5 0l-1.6 -0.4l-1.6 -1l-1.5 -0.4l-1.5 -1.1l-1.6 0.1l-1.6 -0.2l-1.5 -1.1l-1.5 0.4l-1.6 -0.3l-1.6 -0.7l-1.5 -0.6l-1.5 0.1l-1.6 -0.3l-1.6 0.7l-1.5 0.1l-1.5 -0.6l-1.6 0.5l-1.6 -0.2l-1.5 1.1l-1.5 0.3l-1.6 0.3l-1.6 -0.6l-1.5 1.6l-1.5 0.1l-1.6 0.4l-1.6 1.1l-1.5 0.7l-1.5 -0.3l-1.6 1l-1.6 0.4l-1.5 1.1l-1.5 0.8l-1.6 0l-1.6 1.4l-1.5 0.2l-1.5 0.9l-1.6 0.4l-1.6 0.9l-1.5 0.6l-1.5 0.1l-1.6 0.3l-1.6 1.4l-1.5 0l-1.5 1.3l-1.6 -0.3l-1.6 0.8l-1.5 1.2l-1.5 0.2l-1.6 0.8l-1.6 1.1l-1.5 0.8l-1.5 0.6l-1.6 0.8l-1.6 0.1l-1.5 0.4l-1.5 1l-1.6 0.3l-1.6 1.5l-1.5 0.7l-1.5 -0.2l-1.6 0.5l-1.6 0.8l-1.5 0.3l-1.5 1.3l-1.6 0.6l-1.6 -0.4l-1.5 0.9l-1.5 0.3l-1.6 0.5l-1.6 0.2l-1.5 0l-1.5 -0.5l-1.6 0.9l-1.6 -0.4l-1.5 -0.4l-1.5 0.1l-1.6 0.4l-1.6 -1l-1.5 -0.4l-1.5 0.7l-1.6 -1.1l-1.6 -0.6l-1.5 -0.7l-1.5 0.1l-1.6 -1.2l-1.6 0l-1.5 -1.2l-1.5 -0.8l-1.6 -1.2l-1.6 -1l-1.5 -1l-1.5 -0.7l-1.6 -1.3l-1.6 -2.2l-1.5 -1.1l-1.5 -1.4l-1.6 -1.9l-1.6 -1.9l-1.5 -1.8l-1.5 -0.9l-1.6 -1.7l-1.6 -1.8l-1.5 -1.2l-1.5 -1.4l-1.6 -1l-1.6 -1.4l-1.5 -0.8l-1.5 -2.2l-1.6 -0.6l-1.6 -1.6l-1.5 -1.3l-1.5 -2.1l-1.6 -1.2l-1.6 -0.6l-1.5 -1.5l-1.5 -0.7l-1.6 0l-1.6 -0.7l-1.5 -1.1l-1.5 0l-1.6 0.2l-1.6 0.8l-1.5 -0.8l-1.5 0.6l-1.6 1.2l-1.6 1.3l-1.5 0.8l-1.5 1.7l-1.6 0.6l-1.6 1.4l-1.5 1.8l-1.5 2.4l-1.6 0.8l-1.6 2.9l-1.5 1.8l-1.5 2.3l-1.6 2.2l-1.6 2.3l-1.5 2.7l-1.5 2.2l-1.6 3.2l-1.6 1.2l-1.5 2.8l-1.5 2.2l-1.6 2.8l-1.6 1.1l-1.5 2l-1.6 2.3l-1.5 2l-1.6 2.6l-1.5 2.4l-1.5 1.7l-1.6 2.1l-1.6 2.8l-1.5 1.6l-1.5 2.8l-1.6 2.2l-1.6 1.4l-1.5 2l-1.5 1.7l-1.6 1.9l-1.6 1.2l-1.5 0.3l-1.5 1.5l-1.6 -0.2l-1.6 0.3l-1.5 -0.8l-1.6 -0.7l-1.5 -0.4l-1.6 -1.3l-1.5 -1.1l-1.5 -1.6l-1.6 -0.9l-1.6 -2.7l-1.5 -0.7l-1.5 -2.5l-1.6 -1.5l-1.6 -1.8l-1.5 -1.4l-1.5 -1.3l-1.6 -2.3l-1.6 -2.6l-1.5 -1.9l-1.5 -2.2l-1.6 -3.3l-1.6 -2.3l-1.5 -2.8l-1.6 -3.7l-1.5 -2.8l-1.6 -1.9l-1.5 -3.8l-1.5 -1.9l-1.6 -3.8l-1.6 -3.2l-1.5 -2l-1.5 -2.9l-1.6 -3.5l-1.6 -1.7l-1.5 -2.4l-1.5 -1.1l-1.6 -1l-1.6 0.2l-1.5 -0.8l-1.5 0.5l-1.6 -0.1l-1.6 0.9l-1.5 2l-1.6 1.6l-1.5 0.8l-1.6 2.2l-1.5 1.5l-1.5 2.1l-1.6 1.7l-1.6 2.7l-1.5 1.9l-1.5 1.9l-1.6 2.3l-1.6 3.7l-1.5 1.2l-1.5 3.4l-1.6 2.5l-1.6 2.2l-1.5 2.2l-1.5 2.4l-1.6 3.3l-1.6 1.9l-1.5 2.6l-1.6 3.1l-1.5 2.2l-1.6 3.3l-1.5 2.7l-1.5 2.5l-1.6 3.2l-1.6 3.1l-1.5 3l-1.5 3.7l-1.6 3.3l-1.6 2.5l-1.5 3.1l-1.5 2.6l-1.6 1.7l-1.6 2.4l-1.5 1.1l-1.5 1.9l-1.6 0l-1.6 -0.3l-1.5 -0.6l-1.6 -2.2l-1.5 -3.2l-1.6 -2.6l-1.5 -4.2l-1.5 -4.4l-1.6 -5.1l-1.6 -3.9l-1.5 -3.8l-1.5 -4l-1.6 -4.4l-1.6 -4.7l-1.5 -6.3l-1.5 -6l-1.6 -4.7l-1.6 -4.6l-1.5 -1l-1.5 0.2l-1.6 2.7l-1.6 4.3l-1.5 5.6l-1.5 3.4l-1.6 5.6l-1.6 4.6l-1.5 5.8l-1.5 5.3l-1.6 7.7l-1.6 10.1l-1.5 11.3l-1.5 9.8l-1.6 8.5l-1.6 6.9l-1.5 5.6l-1.5 4.8l-1.6 1.3l-1.6 -1.8l-1.5 -2.6l-1.5 -2.8l-1.6 -4.2l-1.6 -4.2l-1.5 -4.4l-1.5 -5.3l-1.6 -6.1l-1.6 -5.9l-1.5 -7.3l-1.5 -6.6l-1.6 -6.3l-1.6 -5.6l-1.5 -4.9l-0.5 -1.9l-0.5 -2.2l-0.5 -2.3l-0.6 -0.7l-0.5 -2.3l-0.5 -1.4l-0.5 -2.1l-0.5 -2.3l-0.5 -1.4l-0.5 -0.9l-0.5 -2.5l-0.6 -1.3l-0.5 -1.3l-0.5 -1.5l-0.5 -0.5l-0.5 -0.7l-0.5 -0.5l-0.5 -0.1l-0.5 0.2l-0.6 0.7l-0.5 1.5l-0.5 2.7l-0.5 3.9l-0.5 5l-0.5 5.4l-0.5 5l-0.5 5.2l-0.6 6l-0.5 6.8l-0.5 7.6l-0.5 8.2l-0.5 8.7l-0.5 9.2l-0.5 9.5l-0.5 10.3l-0.6 11.6l-0.5 12.6l-0.5 12.8l-0.5 12.2z" fill="#8a8a8a" fill-opacity="0.92" stroke="#8a8a8a" stroke-opacity="0.92" stroke-width="1"/>
<path d="M937.3 1802.1l0.5 -12.5l0.5 -12.9l0.5 -12.5l0.6 -11.2l0.5 -10l0.5 -8.8l0.5 -8.4l0.5 -8l0.5 -8.1l0.5 -8l0.5 -8.3l0.6 -8.4l0.5 -8.1l0.5 -8l0.5 -7.8l0.5 -7.2l0.5 -6.4l0.5 -5l0.5 -4.1l0.6 -3l0.5 -1.7l0.5 -0.6l0.5 0.2l0.5 0.4l0.5 0.8l0.5 0.9l0.5 1.8l0.6 1.1l0.5 1.8l0.5 2.1l0.5 2l0.5 1.9l0.5 2l0.5 2.1l0.5 1.7l0.6 2.2l0.5 1.7l0.5 2.2l0.5 2.1l1.5 6.6l1.6 6.8l1.6 6.7l1.5 6.7l1.5 7.3l1.6 6l1.6 6.1l1.5 6l1.5 6.1l1.6 4.8l1.6 3.6l1.5 2.2l1.5 1l1.6 -0.6l1.6 -2.2l1.5 -3.2l1.5 -3.7l1.6 -4.1l1.6 -4.7l1.5 -4.9l1.5 -5l1.6 -5.6l1.6 -4.1l1.5 -3.9l1.5 -4l1.6 -2.8l1.6 -2.5l1.5 -2.4l1.5 -2l1.6 -2.1l1.6 -0.9l1.5 0.8l1.5 0.7l1.6 2.5l1.6 2.9l1.5 4.1l1.5 4.7l1.6 5.1l1.6 5.3l1.5 4.4l1.5 2.8l1.6 1.8l1.6 2.3l1.5 1.4l1.5 1.8l1.6 0.2l1.5 1l1.6 -0.1l1.5 -0.2l1.6 -0.9l1.6 -0.8l1.5 -2l1.5 -1.8l1.6 -2.7l1.6 -2.3l1.5 -2.7l1.5 -2.9l1.6 -2.2l1.6 -3.6l1.5 -2.9l1.5 -2.4l1.6 -2.9l1.6 -3.4l1.5 -2.9l1.5 -2.7l1.6 -2.7l1.5 -3.3l1.6 -3l1.5 -3.3l1.6 -2.6l1.6 -3.1l1.5 -2.1l1.5 -2.4l1.6 -2.5l1.6 -2.7l1.5 -2l1.5 -2.5l1.6 -2.2l1.6 -1.9l1.5 -1.8l1.5 -1.8l1.6 -1.7l1.6 -1.3l1.5 -0.8l1.5 -1.2l1.6 -0.6l1.5 -0.3l1.6 -0.2l1.5 -0.8l1.6 0l1.6 0.8l1.5 -0.1l1.5 0.9l1.6 0.7l1.6 0.6l1.5 1.3l1.5 1.4l1.6 2.6l1.6 2l1.5 3.1l1.5 2.9l1.6 3.3l1.6 2.9l1.5 2.6l1.5 2.5l1.6 1.4l1.5 1.8l1.6 1.1l1.5 1.4l1.6 2.1l1.6 1.4l1.5 1.9l1.5 1.8l1.6 2.6l1.6 1.7l1.5 1.7l1.5 1.7l1.6 2.1l1.6 1.6l1.5 1.1l1.5 0.5l1.6 1.1l1.6 0.7l1.5 -0.3l1.5 0.7l1.6 -0.3l1.5 -0.2l1.6 0.4l1.5 -0.6l1.6 -0.3l1.6 -0.4l1.5 -0.7l1.5 -0.8l1.6 -0.7l1.6 -1.3l1.5 -1.1l1.5 -1.3l1.6 -1.2l1.6 -1.8l1.5 -1.5l1.5 -1.4l1.6 -2.3l1.6 -1.5l1.5 -1.6l1.5 -2.1l1.6 -2.1l1.5 -2.3l1.6 -1.5l1.5 -2.6l1.6 -1.5l1.6 -1.6l1.5 -2.1l1.5 -1.4l1.6 -1.9l1.6 -1.3l1.5 -1.6l1.5 -2l1.6 -1.5l1.6 -1.4l1.5 -2.1l1.5 -0.7l1.6 -1.6l1.6 -1.5l1.5 -1.7l1.5 -0.9l1.6 -1.4l1.6 -0.8l1.5 -0.9l1.5 -1.5l1.6 -0.9l1.6 -0.4l1.5 -0.7l1.5 -0.4l1.6 -0.5l1.6 0.5l1.5 -0.2l1.5 0.9l1.6 0.4l1.6 0.3l1.5 0.9l1.5 1.4l1.6 0.8l1.6 1.1l1.5 1.7l1.5 0.9l1.6 1.1l1.6 0.6l1.5 1.3l1.5 0.9l1.6 1.6l1.6 0.6l1.5 1.2l1.5 1.6l1.6 1.6l1.6 0.7l1.5 1.2l1.5 1.3l1.6 1.1l1.6 1.6l1.5 1.2l1.5 0.5l1.6 0.8l1.6 1l1.5 0.7l1.5 0.1l1.6 0.8l1.6 0.7l1.5 0.2l1.5 0.4l1.6 0.1l1.6 0.6l1.5 -0.1l1.5 0.3l1.6 0.1l1.6 -0.5l1.5 0.5l1.5 -0.6l1.6 0.3l1.6 -0.2l1.5 0.2l1.5 -0.5l1.6 -0.1l1.6 -0.2l1.5 0.4l1.5 -0.6l1.6 -0.2l1.6 -0.1l1.5 -0.3l1.5 -0.3l1.6 -0.3l1.6 0l1.5 -0.7l1.5 -0.3l1.6 -0.7l1.6 -0.4l1.5 0.1l1.5 -0.2l1.6 -0.4l1.6 -0.6l1.5 -0.2l1.5 -0.6l1.6 -0.4l1.6 -0.3l1.5 -0.1l1.5 -0.5l1.6 -0.5l1.6 -0.6l1.5 0.3l1.5 -0.8l1.6 -0.3l1.6 -0.3l1.5 -0.7l1.5 -0.1l1.6 -0.2l1.6 -0.4l1.5 -0.8l1.5 -0.1l1.6 -0.7l1.6 0.2l1.5 -0.7l1.5 -0.1l1.6 -0.6l1.6 -0.3l1.5 -0.3l1.5 -0.1l1.6 -0.4l1.6 -0.7l1.5 0l1.5 -0.3l1.6 -0.3l1.6 0l1.5 0.1l1.5 -0.3l1.6 -0.1l1.6 0.3l1.5 -0.2l1.5 -0.2l1.6 -0.2l1.6 0l1.5 0.5l1.5 0.1l1.6 0.3l1.6 0l1.5 -0.2l1.5 0.5l1.6 0l1.6 0.4l1.5 0.5l1.5 0.2l1.6 0.4l1.6 0.2l1.5 0.3l1.5 -0.2l1.6 0.9l1.6 0.2l1.5 -0.4l1.5 0.9l1.6 -0.1l1.6 0.3l1.5 0.7l1.5 -0.2l1.6 0.1l1.6 0.8l1.5 -0.1l1.5 0.3l1.6 0l1.6 0.2l1.5 0.3l1.5 0.2l1.6 0.1l1.6 0.8l1.5 -0.1l1.5 0.5l1.6 0.1l1.6 0.3l1.5 -0.2l1.5 0.5l1.6 0.5l1.6 -0.1l1.5 0.6l1.5 -0.4l1.6 0.3l1.6 0.4l1.5 0l1.5 0.4l1.6 -0.2l1.6 0.4l1.5 0.1l1.5 -0.2l1.6 0.3l1.6 0.4l1.5 0.2l1.5 -0.1l1.6 0.4l1.6 -0.2l1.5 -0.1l1.5 0.3l1.6 0.6l1.6 -0.4l1.5 0.1l1.5 -0.2l1.6 0.5l1.5 -0.1l1.6 0.6" fill="none" stroke="#b0b0b0" stroke-width="0.8" stroke-linejoin="round" stroke-linecap="round" stroke-opacity="0.8"/>
<path d="M937.3 1802.1l0.5 -12.4l0.5 -12.9l0.5 -12.5l0.6 -11.4l0.5 -10l0.5 -9.1l0.5 -8.5l0.5 -8.3l0.5 -8.1l0.5 -7.9l0.5 -7.9l0.6 -7.7l0.5 -7.3l0.5 -7.1l0.5 -7.1l0.5 -6.6l0.5 -5.7l0.5 -4.3l0.5 -3.4l0.6 -2.3l0.5 -1.3l0.5 -0.4l0.5 0.3l0.5 0.4l0.5 0.8l0.5 1l0.5 1.7l0.6 1.2l0.5 2l0.5 1.7l0.5 1.9l0.5 2l0.5 2l0.5 1.9l0.5 1.8l0.6 1.8l0.5 1.9l0.5 2.2l0.5 2.1l1.5 6l1.6 6.6l1.6 6.5l1.5 6.7l1.5 7.3l1.6 5.9l1.6 6.2l1.5 5.8l1.5 5.5l1.6 4.7l1.6 3.8l1.5 2.3l1.5 1.5l1.6 0.1l1.6 -2l1.5 -3.6l1.5 -4.3l1.6 -4.9l1.6 -5.8l1.5 -6.2l1.5 -6.9l1.6 -6.8l1.6 -5.2l1.5 -4.3l1.5 -4.4l1.6 -3.3l1.6 -3.4l1.5 -2.7l1.5 -3l1.6 -2.7l1.6 -1.5l1.5 0.5l1.5 0.8l1.6 3.1l1.6 3.5l1.5 4.6l1.5 5.2l1.6 4.9l1.6 5.1l1.5 4.3l1.5 3.1l1.6 2.3l1.6 3.1l1.5 2.3l1.5 2.5l1.6 0.9l1.5 1.6l1.6 0.6l1.5 0l1.6 -0.6l1.6 -0.6l1.5 -2l1.5 -1.5l1.6 -2.7l1.6 -2l1.5 -2.8l1.5 -2.9l1.6 -2.3l1.6 -3.5l1.5 -3.1l1.5 -2.6l1.6 -2.9l1.6 -3.5l1.5 -2.7l1.5 -2.7l1.6 -2.9l1.5 -2.9l1.6 -3.1l1.5 -3.1l1.6 -2.4l1.6 -3.1l1.5 -2.2l1.5 -2.4l1.6 -2.4l1.6 -2.6l1.5 -2.4l1.5 -2.2l1.6 -2.6l1.6 -2l1.5 -1.9l1.5 -1.8l1.6 -2l1.6 -1.4l1.5 -1.1l1.5 -1.3l1.6 -1l1.5 -0.5l1.6 -0.6l1.5 -1.1l1.6 -0.3l1.6 0.6l1.5 -0.2l1.5 0.9l1.6 0.4l1.6 0.7l1.5 1.3l1.5 1.7l1.6 2.3l1.6 2.4l1.5 3l1.5 2.7l1.6 3.3l1.6 3.2l1.5 2.3l1.5 2.9l1.6 1.5l1.5 2.1l1.6 1.9l1.5 1.8l1.6 2.1l1.6 1.9l1.5 2.1l1.5 1.7l1.6 2.6l1.6 1.9l1.5 1.6l1.5 1.6l1.6 2.1l1.6 1.5l1.5 1.5l1.5 0.6l1.6 1.5l1.6 0.8l1.5 0.3l1.5 0.8l1.6 0.1l1.5 0l1.6 0.4l1.5 -0.1l1.6 -0.3l1.6 -0.3l1.5 -0.9l1.5 -0.6l1.6 -0.9l1.6 -1.5l1.5 -1.3l1.5 -1.4l1.6 -1.3l1.6 -2l1.5 -1.8l1.5 -1.4l1.6 -2.5l1.6 -1.6l1.5 -1.7l1.5 -2.2l1.6 -2.2l1.5 -2.2l1.6 -1.7l1.5 -2.5l1.6 -1.4l1.6 -1.9l1.5 -2.1l1.5 -1.8l1.6 -1.7l1.6 -1.9l1.5 -1.8l1.5 -2.2l1.6 -1.6l1.6 -1.7l1.5 -2.1l1.5 -1.1l1.6 -2l1.6 -1.2l1.5 -1.9l1.5 -1.2l1.6 -1.4l1.6 -0.8l1.5 -1.1l1.5 -1.2l1.6 -1.1l1.6 -0.6l1.5 -0.7l1.5 0l1.6 -0.6l1.6 0.3l1.5 -0.2l1.5 1l1.6 0.5l1.6 0.2l1.5 0.8l1.5 1.4l1.6 0.8l1.6 1.1l1.5 1.9l1.5 0.9l1.6 1.3l1.6 0.6l1.5 1.6l1.5 0.9l1.6 1.5l1.6 0.7l1.5 1.3l1.5 1.4l1.6 1.7l1.6 1l1.5 1.1l1.5 1.5l1.6 1.3l1.6 1.7l1.5 1.2l1.5 0.7l1.6 1.2l1.6 1.1l1.5 0.7l1.5 0.3l1.6 0.9l1.6 0.8l1.5 0.4l1.5 0.6l1.6 0.1l1.6 0.7l1.5 -0.1l1.5 0.4l1.6 0.3l1.6 0l1.5 0.1l1.5 -0.3l1.6 0.5l1.6 -0.3l1.5 0.2l1.5 -0.3l1.6 0.1l1.6 -0.5l1.5 0.5l1.5 -0.5l1.6 -0.1l1.6 -0.3l1.5 -0.2l1.5 -0.6l1.6 0l1.6 -0.2l1.5 -0.9l1.5 -0.3l1.6 -0.7l1.6 -0.4l1.5 0.1l1.5 -0.3l1.6 -0.8l1.6 -0.4l1.5 -0.5l1.5 -0.6l1.6 -0.3l1.6 -0.4l1.5 -0.2l1.5 -0.6l1.6 -0.6l1.6 -0.7l1.5 0.1l1.5 -0.9l1.6 -0.4l1.6 -0.2l1.5 -0.9l1.5 0l1.6 -0.6l1.6 -0.3l1.5 -0.6l1.5 -0.3l1.6 -0.7l1.6 0l1.5 -0.7l1.5 -0.2l1.6 -0.8l1.6 -0.2l1.5 -0.5l1.5 -0.4l1.6 -0.3l1.6 -0.8l1.5 0l1.5 -0.4l1.6 -0.5l1.6 -0.1l1.5 0l1.5 -0.7l1.6 0.1l1.6 0.2l1.5 -0.3l1.5 -0.4l1.6 -0.1l1.6 -0.1l1.5 0.5l1.5 0.1l1.6 0l1.6 0l1.5 -0.1l1.5 0.5l1.6 0.2l1.6 0.4l1.5 0.2l1.5 0.5l1.6 0.3l1.6 0.1l1.5 0.6l1.5 0l1.6 0.8l1.6 0.3l1.5 -0.2l1.5 0.8l1.6 0.1l1.6 0.5l1.5 0.5l1.5 0.2l1.6 0.1l1.6 0.6l1.5 0.3l1.5 0.2l1.6 -0.1l1.6 0.4l1.5 0.2l1.5 0.1l1.6 0.2l1.6 0.8l1.5 0.1l1.5 0.2l1.6 0.3l1.6 0.2l1.5 -0.1l1.5 0.5l1.6 0.6l1.6 -0.3l1.5 0.8l1.5 -0.5l1.6 0.3l1.6 0.3l1.5 0.3l1.5 0.1l1.6 0.2l1.6 0.3l1.5 0.2l1.5 -0.2l1.6 0.3l1.6 0.2l1.5 0.6l1.5 -0.2l1.6 0.3l1.6 -0.1l1.5 0.2l1.5 0.1l1.6 0.6l1.6 -0.3l1.5 0.4l1.5 -0.1l1.6 0.3l1.5 0l1.6 0.5" fill="none" stroke="#b0b0b0" stroke-width="0.8" stroke-linejoin="round" stroke-linecap="round" stroke-opacity="0.8"/>
<path d="M937.3 1802l0.5 -12.3l0.5 -12.9l0.5 -12.5l0.6 -11.4l0.5 -10.2l0.5 -9.2l0.5 -8.8l0.5 -8.4l0.5 -8.2l0.5 -7.8l0.5 -7.4l0.6 -7.1l0.5 -6.4l0.5 -6.3l0.5 -6.4l0.5 -6l0.5 -4.9l0.5 -3.7l0.5 -2.7l0.6 -1.7l0.5 -0.8l0.5 -0.2l0.5 0.3l0.5 0.6l0.5 0.7l0.5 1.2l0.5 1.5l0.6 1.2l0.5 2.2l0.5 1.4l0.5 1.7l0.5 2.1l0.5 2.1l0.5 1.7l0.5 2l0.6 1.3l0.5 2.1l0.5 2.2l0.5 2l1.5 5.6l1.6 6.2l1.6 6.4l1.5 6.7l1.5 7.3l1.6 5.9l1.6 6.1l1.5 5.6l1.5 5.1l1.6 4.5l1.6 3.9l1.5 2.6l1.5 1.9l1.6 0.7l1.6 -1.6l1.5 -4.1l1.5 -4.8l1.6 -5.7l1.6 -6.9l1.5 -7.6l1.5 -8.7l1.6 -8.1l1.6 -6.2l1.5 -4.7l1.5 -4.9l1.6 -3.9l1.6 -4.2l1.5 -3l1.5 -4l1.6 -3.4l1.6 -1.9l1.5 0.2l1.5 0.9l1.6 3.7l1.6 3.9l1.5 5.2l1.5 5.6l1.6 4.9l1.6 4.8l1.5 4.1l1.5 3.4l1.6 2.9l1.6 4l1.5 3.1l1.5 3.2l1.6 1.5l1.5 2.3l1.6 1.2l1.5 0.2l1.6 -0.2l1.6 -0.3l1.5 -2l1.5 -1.4l1.6 -2.5l1.6 -1.9l1.5 -2.7l1.5 -3.1l1.6 -2.3l1.6 -3.5l1.5 -3.3l1.5 -2.7l1.6 -3l1.6 -3.4l1.5 -2.6l1.5 -2.7l1.6 -3.1l1.5 -2.6l1.6 -3.1l1.5 -2.9l1.6 -2.2l1.6 -3.2l1.5 -2.3l1.5 -2.3l1.6 -2.3l1.6 -2.6l1.5 -2.8l1.5 -1.7l1.6 -3.1l1.6 -2.1l1.5 -1.9l1.5 -1.9l1.6 -2.2l1.6 -1.5l1.5 -1.6l1.5 -1.3l1.6 -1.5l1.5 -0.6l1.6 -1l1.5 -1.5l1.6 -0.5l1.6 0.4l1.5 -0.3l1.5 0.8l1.6 0.2l1.6 0.9l1.5 1.1l1.5 2l1.6 2.1l1.6 2.8l1.5 3l1.5 2.4l1.6 3.3l1.6 3.4l1.5 2.1l1.5 3.3l1.6 1.6l1.5 2.4l1.6 2.6l1.5 2.2l1.6 2.2l1.6 2.5l1.5 2.1l1.5 1.8l1.6 2.6l1.6 2.1l1.5 1.4l1.5 1.6l1.6 1.9l1.6 1.6l1.5 1.8l1.5 0.6l1.6 2.1l1.6 0.8l1.5 0.8l1.5 0.9l1.6 0.6l1.5 0.1l1.6 0.6l1.5 0.2l1.6 -0.3l1.6 -0.1l1.5 -1.1l1.5 -0.5l1.6 -1l1.6 -1.7l1.5 -1.4l1.5 -1.7l1.6 -1.3l1.6 -2.1l1.5 -2.2l1.5 -1.5l1.6 -2.6l1.6 -1.8l1.5 -1.6l1.5 -2.3l1.6 -2.4l1.5 -2.2l1.6 -1.9l1.5 -2.2l1.6 -1.4l1.6 -2.2l1.5 -2.2l1.5 -2.1l1.6 -1.6l1.6 -2.4l1.5 -1.9l1.5 -2.4l1.6 -1.9l1.6 -1.9l1.5 -2.2l1.5 -1.3l1.6 -2.4l1.6 -1l1.5 -2.2l1.5 -1.4l1.6 -1.4l1.6 -0.7l1.5 -1.3l1.5 -1.1l1.6 -1.2l1.6 -0.9l1.5 -0.6l1.5 0.3l1.6 -0.6l1.6 0.1l1.5 -0.2l1.5 1l1.6 0.6l1.6 0.2l1.5 0.8l1.5 1.4l1.6 0.7l1.6 1.2l1.5 1.9l1.5 1.1l1.6 1.4l1.6 0.6l1.5 1.8l1.5 0.9l1.6 1.5l1.6 0.8l1.5 1.3l1.5 1.4l1.6 1.6l1.6 1.4l1.5 1l1.5 1.6l1.6 1.5l1.6 1.8l1.5 1.3l1.5 0.8l1.6 1.6l1.6 1.2l1.5 0.7l1.5 0.6l1.6 1l1.6 0.9l1.5 0.6l1.5 0.8l1.6 0.1l1.6 0.9l1.5 -0.1l1.5 0.5l1.6 0.4l1.6 0.5l1.5 -0.3l1.5 0l1.6 0.7l1.6 -0.3l1.5 0l1.5 0.1l1.6 0.1l1.6 -0.6l1.5 0.5l1.5 -0.3l1.6 -0.2l1.6 -0.3l1.5 -0.3l1.5 -0.7l1.6 0.2l1.6 -0.4l1.5 -1.1l1.5 -0.2l1.6 -0.8l1.6 -0.5l1.5 0.2l1.5 -0.5l1.6 -1l1.6 -0.4l1.5 -0.7l1.5 -0.5l1.6 -0.2l1.6 -0.6l1.5 -0.3l1.5 -0.7l1.6 -0.8l1.6 -0.8l1.5 0l1.5 -1l1.6 -0.6l1.6 0l1.5 -1l1.5 0l1.6 -1l1.6 -0.3l1.5 -0.4l1.5 -0.4l1.6 -0.8l1.6 -0.1l1.5 -0.8l1.5 -0.2l1.6 -1l1.6 -0.1l1.5 -0.6l1.5 -0.7l1.6 -0.4l1.6 -0.9l1.5 0.1l1.5 -0.4l1.6 -0.8l1.6 -0.2l1.5 -0.1l1.5 -1l1.6 0.3l1.6 0l1.5 -0.3l1.5 -0.7l1.6 0.1l1.6 -0.3l1.5 0.6l1.5 -0.1l1.6 -0.2l1.6 0.1l1.5 -0.2l1.5 0.6l1.6 0.4l1.6 0.3l1.5 0l1.5 0.7l1.6 0.3l1.6 0.1l1.5 0.7l1.5 0.2l1.6 0.9l1.6 0.3l1.5 -0.1l1.5 0.8l1.6 0.2l1.6 0.7l1.5 0.3l1.5 0.7l1.6 0l1.6 0.4l1.5 0.7l1.5 0.1l1.6 0l1.6 0.5l1.5 0.1l1.5 0l1.6 0.3l1.6 0.8l1.5 0.3l1.5 -0.1l1.6 0.5l1.6 0l1.5 0.1l1.5 0.5l1.6 0.6l1.6 -0.4l1.5 1l1.5 -0.5l1.6 0.2l1.6 0.3l1.5 0.5l1.5 -0.1l1.6 0.5l1.6 0.2l1.5 0.4l1.5 -0.3l1.6 0.3l1.6 0l1.5 0.9l1.5 -0.3l1.6 0.3l1.6 0l1.5 0.4l1.5 0l1.6 0.7l1.6 -0.4l1.5 0.8l1.5 -0.1l1.6 0.2l1.5 0.1l1.6 0.5" fill="none" stroke="#b0b0b0" stroke-width="0.8" stroke-linejoin="round" stroke-linecap="round" stroke-opacity="0.8"/>
<path d="M937.3 1802l0.5 -12.3l0.5 -12.8l0.5 -12.5l0.6 -11.6l0.5 -10.2l0.5 -9.4l0.5 -8.9l0.5 -8.7l0.5 -8.1l0.5 -7.7l0.5 -7.1l0.6 -6.5l0.5 -5.8l0.5 -5.6l0.5 -5.9l0.5 -5.5l0.5 -4.4l0.5 -3.1l0.5 -2.1l0.6 -1.1l0.5 -0.6l0.5 0l0.5 0.4l0.5 0.7l0.5 0.6l0.5 1.3l0.5 1.4l0.6 1.3l0.5 2.4l0.5 1.1l0.5 1.5l0.5 2.2l0.5 2.1l0.5 1.6l0.5 2.1l0.6 1l0.5 2.2l0.5 2.2l0.5 1.9l1.5 5.3l1.6 5.9l1.6 6.3l1.5 6.7l1.5 7.2l1.6 5.9l1.6 6.2l1.5 5.4l1.5 4.7l1.6 4.4l1.6 4.1l1.5 2.6l1.5 2.3l1.6 1.3l1.6 -1.5l1.5 -4.4l1.5 -5.3l1.6 -6.3l1.6 -7.7l1.5 -8.8l1.5 -10l1.6 -9.1l1.6 -7.1l1.5 -5l1.5 -5.4l1.6 -4.2l1.6 -5l1.5 -3.2l1.5 -4.8l1.6 -3.9l1.6 -2.3l1.5 0l1.5 0.9l1.6 4.2l1.6 4.3l1.5 5.6l1.5 6l1.6 4.8l1.6 4.6l1.5 4l1.5 3.7l1.6 3.4l1.6 4.6l1.5 3.7l1.5 3.8l1.6 2.1l1.5 2.7l1.6 1.7l1.5 0.5l1.6 0l1.6 -0.1l1.5 -2l1.5 -1.2l1.6 -2.5l1.6 -1.8l1.5 -2.6l1.5 -3.1l1.6 -2.4l1.6 -3.4l1.5 -3.5l1.5 -2.9l1.6 -3l1.6 -3.3l1.5 -2.6l1.5 -2.7l1.6 -3.1l1.5 -2.5l1.6 -3.1l1.5 -2.7l1.6 -2.1l1.6 -3.2l1.5 -2.3l1.5 -2.3l1.6 -2.2l1.6 -2.6l1.5 -3.1l1.5 -1.5l1.6 -3.3l1.6 -2.2l1.5 -1.9l1.5 -2l1.6 -2.4l1.6 -1.6l1.5 -1.9l1.5 -1.4l1.6 -1.9l1.5 -0.7l1.6 -1.3l1.5 -1.8l1.6 -0.7l1.6 0.3l1.5 -0.5l1.5 0.9l1.6 -0.1l1.6 1l1.5 1.2l1.5 2.1l1.6 1.9l1.6 3.2l1.5 2.9l1.5 2.2l1.6 3.3l1.6 3.5l1.5 2.1l1.5 3.6l1.6 1.7l1.5 2.6l1.6 3.2l1.5 2.5l1.6 2.3l1.6 2.8l1.5 2.2l1.5 1.9l1.6 2.6l1.6 2.2l1.5 1.3l1.5 1.5l1.6 1.9l1.6 1.5l1.5 2.2l1.5 0.6l1.6 2.4l1.6 0.9l1.5 1.2l1.5 1l1.6 1l1.5 0.3l1.6 0.6l1.5 0.6l1.6 -0.4l1.6 0.1l1.5 -1.3l1.5 -0.4l1.6 -1.2l1.6 -1.7l1.5 -1.6l1.5 -1.8l1.6 -1.4l1.6 -2.1l1.5 -2.6l1.5 -1.5l1.6 -2.7l1.6 -1.9l1.5 -1.8l1.5 -2.3l1.6 -2.5l1.5 -2.1l1.6 -2.1l1.5 -2.1l1.6 -1.2l1.6 -2.5l1.5 -2.2l1.5 -2.5l1.6 -1.4l1.6 -2.8l1.5 -2.1l1.5 -2.5l1.6 -2.2l1.6 -2l1.5 -2.2l1.5 -1.6l1.6 -2.7l1.6 -0.9l1.5 -2.3l1.5 -1.6l1.6 -1.4l1.6 -0.7l1.5 -1.5l1.5 -0.9l1.6 -1.3l1.6 -1l1.5 -0.6l1.5 0.5l1.6 -0.7l1.6 0l1.5 -0.1l1.5 1l1.6 0.7l1.6 0.1l1.5 0.7l1.5 1.5l1.6 0.6l1.6 1.2l1.5 2l1.5 1.2l1.6 1.5l1.6 0.7l1.5 2l1.5 0.8l1.6 1.5l1.6 0.9l1.5 1.3l1.5 1.3l1.6 1.7l1.6 1.6l1.5 0.9l1.5 1.7l1.6 1.7l1.6 1.9l1.5 1.4l1.5 0.9l1.6 1.9l1.6 1.3l1.5 0.7l1.5 0.8l1.6 1l1.6 1.1l1.5 0.7l1.5 1l1.6 0l1.6 1l1.5 0l1.5 0.5l1.6 0.6l1.6 0.8l1.5 -0.5l1.5 0.2l1.6 0.9l1.6 -0.4l1.5 0l1.5 0.2l1.6 0.3l1.6 -0.8l1.5 0.5l1.5 -0.1l1.6 -0.2l1.6 -0.4l1.5 -0.3l1.5 -0.9l1.6 0.3l1.6 -0.5l1.5 -1.2l1.5 -0.2l1.6 -0.8l1.6 -0.5l1.5 0.2l1.5 -0.6l1.6 -1.3l1.6 -0.3l1.5 -0.9l1.5 -0.4l1.6 -0.2l1.6 -0.7l1.5 -0.4l1.5 -0.8l1.6 -1l1.6 -0.8l1.5 0l1.5 -1.2l1.6 -0.7l1.6 0.2l1.5 -1.1l1.5 -0.1l1.6 -1.2l1.6 -0.3l1.5 -0.2l1.5 -0.5l1.6 -0.9l1.6 -0.3l1.5 -0.8l1.5 -0.2l1.6 -1.2l1.6 -0.1l1.5 -0.7l1.5 -0.9l1.6 -0.3l1.6 -1l1.5 0.2l1.5 -0.6l1.6 -0.9l1.6 -0.4l1.5 -0.1l1.5 -1.2l1.6 0.4l1.6 -0.1l1.5 -0.4l1.5 -0.9l1.6 0.2l1.6 -0.4l1.5 0.6l1.5 -0.1l1.6 -0.5l1.6 0.2l1.5 -0.1l1.5 0.6l1.6 0.5l1.6 0.3l1.5 -0.2l1.5 1l1.6 0.2l1.6 0l1.5 0.9l1.5 0.3l1.6 0.9l1.6 0.4l1.5 0l1.5 0.8l1.6 0.3l1.6 0.9l1.5 0.1l1.5 1l1.6 0l1.6 0.3l1.5 0.9l1.5 0.1l1.6 -0.1l1.6 0.6l1.5 0l1.5 0l1.6 0.4l1.6 0.9l1.5 0.3l1.5 -0.2l1.6 0.6l1.6 -0.1l1.5 0.2l1.5 0.5l1.6 0.6l1.6 -0.5l1.5 1.1l1.5 -0.5l1.6 0.2l1.6 0.3l1.5 0.6l1.5 -0.3l1.6 0.8l1.6 0.2l1.5 0.5l1.5 -0.3l1.6 0.2l1.6 -0.1l1.5 1.1l1.5 -0.3l1.6 0.3l1.6 0l1.5 0.6l1.5 -0.2l1.6 0.9l1.6 -0.5l1.5 1.1l1.5 0l1.6 0l1.5 0.1l1.6 0.6" fill="none" stroke="#c9bd2b" stroke-width="5.4" stroke-linejoin="round" stroke-linecap="round"/>
<path d="M937.3 1802.2l0.5 -12.6l0.5 -13l0.5 -12.4l0.6 -11.2l0.5 -9.7l0.5 -8.7l0.5 -8.1l0.5 -7.8l0.5 -8l0.5 -8.2l0.5 -8.8l0.6 -9.2l0.5 -9.1l0.5 -9l0.5 -8.6l0.5 -8l0.5 -7.2l0.5 -5.8l0.5 -5l0.6 -3.8l0.5 -2.2l0.5 -0.8l0.5 0l0.5 0.3l0.5 1l0.5 0.7l0.5 1.9l0.6 1.1l0.5 1.5l0.5 2.5l0.5 2.3l0.5 1.7l0.5 1.9l0.5 2.4l0.5 1.5l0.6 2.6l0.5 1.6l0.5 2.2l0.5 2.2l1.5 7.1l1.6 7.3l1.6 6.8l1.5 6.7l1.5 7.3l1.6 6l1.6 6.2l1.5 6.2l1.5 6.6l1.6 5l1.6 3.5l1.5 2l1.5 0.5l1.6 -1.5l1.6 -2.5l1.5 -2.7l1.5 -3l1.6 -3.2l1.6 -3.4l1.5 -3.2l1.5 -2.9l1.6 -4l1.6 -2.9l1.5 -3.4l1.5 -3.3l1.6 -2.3l1.6 -1.4l1.5 -2.1l1.5 -0.7l1.6 -1.3l1.6 -0.4l1.5 1.1l1.5 0.7l1.6 1.7l1.6 2.4l1.5 3.3l1.5 4.3l1.6 5.2l1.6 5.6l1.5 4.5l1.5 2.5l1.6 1l1.6 1.4l1.5 0.4l1.5 1l1.6 -0.7l1.5 0.3l1.6 -0.8l1.5 -0.6l1.6 -1.3l1.6 -1.1l1.5 -2l1.5 -2l1.6 -2.8l1.6 -2.5l1.5 -2.7l1.5 -2.9l1.6 -2.1l1.6 -3.6l1.5 -2.7l1.5 -2.2l1.6 -2.8l1.6 -3.6l1.5 -2.9l1.5 -2.8l1.6 -2.5l1.5 -3.6l1.6 -3l1.5 -3.6l1.6 -2.8l1.6 -3l1.5 -2l1.5 -2.4l1.6 -2.7l1.6 -2.7l1.5 -1.6l1.5 -2.9l1.6 -1.7l1.6 -1.8l1.5 -1.8l1.5 -1.7l1.6 -1.4l1.6 -1.1l1.5 -0.3l1.5 -1.1l1.6 -0.1l1.5 -0.2l1.6 0.4l1.5 -0.4l1.6 0.2l1.6 1.1l1.5 0l1.5 0.9l1.6 1l1.6 0.6l1.5 1.3l1.5 1.1l1.6 2.8l1.6 1.6l1.5 3.1l1.5 3.2l1.6 3.4l1.6 2.6l1.5 2.7l1.5 2.2l1.6 1.1l1.5 1.5l1.6 0.3l1.5 0.9l1.6 2l1.6 0.7l1.5 1.9l1.5 1.7l1.6 2.6l1.6 1.5l1.5 1.9l1.5 1.8l1.6 2.2l1.6 1.6l1.5 0.6l1.5 0.5l1.6 0.6l1.6 0.5l1.5 -0.9l1.5 0.6l1.6 -0.9l1.5 -0.4l1.6 0.3l1.5 -1.1l1.6 -0.3l1.6 -0.6l1.5 -0.4l1.5 -1l1.6 -0.5l1.6 -1.2l1.5 -0.9l1.5 -1l1.6 -1.1l1.6 -1.7l1.5 -1l1.5 -1.3l1.6 -2.2l1.6 -1.3l1.5 -1.5l1.5 -2.1l1.6 -1.9l1.5 -2.4l1.6 -1.2l1.5 -2.8l1.6 -1.6l1.6 -1.2l1.5 -2l1.5 -1l1.6 -2.1l1.6 -0.7l1.5 -1.5l1.5 -1.7l1.6 -1.1l1.6 -1.3l1.5 -1.9l1.5 -0.4l1.6 -1.2l1.6 -1.6l1.5 -1.6l1.5 -0.5l1.6 -1.4l1.6 -0.9l1.5 -0.6l1.5 -1.8l1.6 -0.7l1.6 -0.2l1.5 -0.6l1.5 -0.8l1.6 -0.5l1.6 0.7l1.5 -0.3l1.5 0.9l1.6 0.3l1.6 0.4l1.5 1l1.5 1.3l1.6 1l1.6 0.9l1.5 1.7l1.5 0.7l1.6 0.9l1.6 0.7l1.5 0.9l1.5 0.9l1.6 1.8l1.6 0.4l1.5 1.2l1.5 1.7l1.6 1.5l1.6 0.4l1.5 1.3l1.5 1.1l1.6 0.8l1.6 1.5l1.5 1.1l1.5 0.3l1.6 0.4l1.6 0.8l1.5 0.8l1.5 -0.3l1.6 0.8l1.6 0.5l1.5 0l1.5 0.1l1.6 0.2l1.6 0.3l1.5 -0.1l1.5 0.2l1.6 -0.1l1.6 -0.9l1.5 0.8l1.5 -0.9l1.6 0l1.6 -0.1l1.5 0.4l1.5 -0.9l1.6 -0.2l1.6 -0.1l1.5 0.4l1.5 -0.8l1.6 -0.1l1.6 -0.1l1.5 -0.2l1.5 -0.1l1.6 -0.6l1.6 0.3l1.5 -0.6l1.5 -0.3l1.6 -0.6l1.6 -0.4l1.5 0.1l1.5 0l1.6 -0.1l1.6 -0.7l1.5 0.1l1.5 -0.7l1.6 -0.5l1.6 -0.1l1.5 0.1l1.5 -0.5l1.6 -0.2l1.6 -0.5l1.5 0.4l1.5 -0.7l1.6 0l1.6 -0.6l1.5 -0.5l1.5 -0.1l1.6 0.2l1.6 -0.5l1.5 -1l1.5 0.1l1.6 -0.6l1.6 0.4l1.5 -0.6l1.5 -0.1l1.6 -0.3l1.6 -0.5l1.5 -0.1l1.5 0.2l1.6 -0.4l1.6 -0.5l1.5 -0.2l1.5 -0.2l1.6 0.1l1.6 0.1l1.5 0.1l1.5 0.2l1.6 -0.4l1.6 0.6l1.5 -0.3l1.5 0.2l1.6 -0.3l1.6 0.1l1.5 0.5l1.5 0.2l1.6 0.6l1.6 -0.1l1.5 -0.2l1.5 0.5l1.6 -0.3l1.6 0.5l1.5 0.7l1.5 -0.1l1.6 0.5l1.6 0.3l1.5 0l1.5 -0.3l1.6 0.8l1.6 0.1l1.5 -0.5l1.5 0.9l1.6 -0.3l1.6 0.1l1.5 0.9l1.5 -0.7l1.6 0.2l1.6 1.1l1.5 -0.6l1.5 0.4l1.6 -0.1l1.6 0.1l1.5 0.4l1.5 0.3l1.6 0l1.6 0.8l1.5 -0.3l1.5 0.8l1.6 -0.1l1.6 0.4l1.5 -0.3l1.5 0.5l1.6 0.4l1.6 0.2l1.5 0.3l1.5 -0.4l1.6 0.3l1.6 0.4l1.5 -0.1l1.5 0.7l1.6 -0.7l1.6 0.5l1.5 -0.1l1.5 -0.1l1.6 0.3l1.6 0.6l1.5 -0.1l1.5 -0.1l1.6 0.5l1.6 -0.3l1.5 -0.4l1.5 0.5l1.6 0.4l1.6 -0.3l1.5 -0.3l1.5 -0.2l1.6 0.6l1.5 -0.1l1.6 0.5" fill="none" stroke="#2e94b1" stroke-width="4.2" stroke-linejoin="round" stroke-linecap="round"/>
<polyline points="1374,1468.5 1376.5,1478 1379,1468.5" fill="none" stroke="#2e94b1" stroke-width="3" stroke-linejoin="round" stroke-linecap="round"/>
<polyline points="1374,1638 1376.5,1656 1379,1640" fill="none" stroke="#2e94b1" stroke-width="3" stroke-linejoin="round" stroke-linecap="round"/>
<rect x="152.8" y="1957" width="607.9" height="439.2" fill="none" stroke="#000" stroke-width="1.8"/>
<line x1="142.8" y1="2396.2" x2="152.8" y2="2396.2" stroke="#000" stroke-width="1.8"/>
<line x1="142.8" y1="2341.3" x2="152.8" y2="2341.3" stroke="#000" stroke-width="1.8"/>
<line x1="142.8" y1="2286.4" x2="152.8" y2="2286.4" stroke="#000" stroke-width="1.8"/>
<line x1="142.8" y1="2231.5" x2="152.8" y2="2231.5" stroke="#000" stroke-width="1.8"/>
<line x1="142.8" y1="2176.6" x2="152.8" y2="2176.6" stroke="#000" stroke-width="1.8"/>
<line x1="142.8" y1="2121.7" x2="152.8" y2="2121.7" stroke="#000" stroke-width="1.8"/>
<line x1="142.8" y1="2066.8" x2="152.8" y2="2066.8" stroke="#000" stroke-width="1.8"/>
<line x1="142.8" y1="2011.9" x2="152.8" y2="2011.9" stroke="#000" stroke-width="1.8"/>
<line x1="142.8" y1="1957" x2="152.8" y2="1957" stroke="#000" stroke-width="1.8"/>
<line x1="153.23" y1="2396.2" x2="153.23" y2="2404.2" stroke="#000" stroke-width="1.8"/>
<line x1="203.9" y1="2396.2" x2="203.9" y2="2404.2" stroke="#000" stroke-width="1.8"/>
<line x1="254.57" y1="2396.2" x2="254.57" y2="2404.2" stroke="#000" stroke-width="1.8"/>
<line x1="305.25" y1="2396.2" x2="305.25" y2="2404.2" stroke="#000" stroke-width="1.8"/>
<line x1="355.92" y1="2396.2" x2="355.92" y2="2404.2" stroke="#000" stroke-width="1.8"/>
<line x1="406.6" y1="2396.2" x2="406.6" y2="2404.2" stroke="#000" stroke-width="1.8"/>
<line x1="457.27" y1="2396.2" x2="457.27" y2="2404.2" stroke="#000" stroke-width="1.8"/>
<line x1="507.95" y1="2396.2" x2="507.95" y2="2404.2" stroke="#000" stroke-width="1.8"/>
<line x1="558.62" y1="2396.2" x2="558.62" y2="2404.2" stroke="#000" stroke-width="1.8"/>
<line x1="609.3" y1="2396.2" x2="609.3" y2="2404.2" stroke="#000" stroke-width="1.8"/>
<line x1="659.98" y1="2396.2" x2="659.98" y2="2404.2" stroke="#000" stroke-width="1.8"/>
<line x1="710.65" y1="2396.2" x2="710.65" y2="2404.2" stroke="#000" stroke-width="1.8"/>
<line x1="761.32" y1="2396.2" x2="761.32" y2="2404.2" stroke="#000" stroke-width="1.8"/>
<g transform="translate(78.5,1966.8) scale(0.8999,1) translate(-0.7,0)" font-weight="normal" fill="#1a1718"><text x="0" y="0" font-size="30.3">4E-2</text></g>
<g transform="translate(78.5,2077) scale(0.9066,1) translate(-1.15,0)" font-weight="normal" fill="#1a1718"><text x="0" y="0" font-size="30.3">3E-2</text></g>
<g transform="translate(78.5,2186.6) scale(0.9121,1) translate(-1.52,0)" font-weight="normal" fill="#1a1718"><text x="0" y="0" font-size="30.3">2E-2</text></g>
<g transform="translate(80.5,2296.8) scale(0.8908,1) translate(-2.31,0)" font-weight="normal" fill="#1a1718"><text x="0" y="0" font-size="30.3">1E-2</text></g>
<g transform="translate(114.82,2406.3) scale(1.0000,1) translate(-1.18,0)" fill="#1a1718"><text x="0" y="0" font-size="30.3">0</text></g>
<g transform="translate(197.37,2432.2) scale(1.0000,1) translate(-2.31,0)" fill="#1a1718"><text x="0" y="0" font-size="30.3">1</text></g>
<g transform="translate(298.35,2432.2) scale(1.0000,1) translate(-1.52,0)" fill="#1a1718"><text x="0" y="0" font-size="30.3">2</text></g>
<g transform="translate(399.42,2432.2) scale(1.0000,1) translate(-1.15,0)" fill="#1a1718"><text x="0" y="0" font-size="30.3">3</text></g>
<g transform="translate(500.32,2432.2) scale(1.0000,1) translate(-0.7,0)" fill="#1a1718"><text x="0" y="0" font-size="30.3">4</text></g>
<g transform="translate(602.12,2432.2) scale(1.0000,1) translate(-1.21,0)" fill="#1a1718"><text x="0" y="0" font-size="30.3">5</text></g>
<g transform="translate(703.66,2432.2) scale(1.0000,1) translate(-1.54,0)" fill="#1a1718"><text x="0" y="0" font-size="30.3">6</text></g>
<g transform="translate(329.5,2467.6) scale(0.9524,1) translate(-2.85,0)" font-weight="normal" fill="#1a1718"><text x="0" y="0" font-size="34.7">Particle Size (nm)</text></g>
<g transform="translate(176.9,2016) scale(0.8486,1) translate(-1.92,0)" font-weight="bold" fill="#000"><text x="0" y="0" font-size="46.8">G</text></g>
<g transform="translate(25,2469) rotate(-90) scale(1.0033,1) translate(-3.04,0)" font-weight="normal" fill="#1a1718"><text x="0" y="0" font-size="34">|Δ Normalized χ Ethene vs H</text><text x="434.88" y="9.52" font-size="21.08">2</text><text x="446.6" y="0" font-size="34"> (a.u.)</text></g>
<g transform="translate(64.9,2352.4) rotate(-90) scale(1.0271,1) translate(-2.19,0)" font-weight="normal" fill="#1a1718"><text x="0" y="0" font-size="34">per surface Ni atom|</text></g>
<rect x="211" y="2357.3" width="13.1" height="38.9" fill="#f22b6c" stroke="#000" stroke-width="2.8"/>
<rect x="226.7" y="2341" width="13.5" height="55.2" fill="#cdbf23" stroke="#000" stroke-width="2.8"/>
<rect x="244.8" y="2352.3" width="13" height="43.9" fill="#f22b6c" stroke="#000" stroke-width="2.8"/>
<rect x="260.4" y="2333.2" width="13.9" height="63" fill="#cdbf23" stroke="#000" stroke-width="2.8"/>
<rect x="285.4" y="2296.4" width="14" height="99.8" fill="#f22b6c" stroke="#000" stroke-width="2.8"/>
<rect x="302" y="2329.2" width="12.5" height="67" fill="#cdbf23" stroke="#000" stroke-width="2.8"/>
<rect x="319.5" y="2304.1" width="14.1" height="92.1" fill="#f22b6c" stroke="#000" stroke-width="2.8"/>
<rect x="336.2" y="2340.6" width="12.5" height="55.6" fill="#cdbf23" stroke="#000" stroke-width="2.8"/>
<rect x="544.1" y="2371.7" width="11.8" height="24.5" fill="#f22b6c" stroke="#000" stroke-width="2.8"/>
<rect x="558.5" y="2362.9" width="13.9" height="33.3" fill="#cdbf23" stroke="#000" stroke-width="2.8"/>
<rect x="705.3" y="2374.5" width="12.8" height="21.7" fill="#f22b6c" stroke="#000" stroke-width="2.8"/>
<rect x="720.7" y="2380.1" width="13" height="16.1" fill="#cdbf23" stroke="#000" stroke-width="2.8"/>
<rect x="654.1" y="2038.7" width="16.4" height="16.6" fill="#f22b6c" stroke="#000" stroke-width="3"/>
<rect x="654.1" y="2063.5" width="16.4" height="16.6" fill="#cdbf23" stroke="#000" stroke-width="3"/>
<g transform="translate(679.7,2056.6) scale(1.0110,1) translate(-1.11,0)" font-weight="normal" fill="#1a1718"><text x="0" y="0" font-size="25.5">8333</text></g>
<g transform="translate(679.7,2081.2) scale(1.0087,1) translate(-1.11,0)" font-weight="normal" fill="#1a1718"><text x="0" y="0" font-size="25.5">8370</text></g>
<rect x="884.6" y="1950.1" width="608.3" height="439.1" fill="none" stroke="#000" stroke-width="1.8"/>
<line x1="874.6" y1="2389.2" x2="884.6" y2="2389.2" stroke="#000" stroke-width="1.8"/>
<line x1="874.6" y1="2334.31" x2="884.6" y2="2334.31" stroke="#000" stroke-width="1.8"/>
<line x1="874.6" y1="2279.42" x2="884.6" y2="2279.42" stroke="#000" stroke-width="1.8"/>
<line x1="874.6" y1="2224.54" x2="884.6" y2="2224.54" stroke="#000" stroke-width="1.8"/>
<line x1="874.6" y1="2169.65" x2="884.6" y2="2169.65" stroke="#000" stroke-width="1.8"/>
<line x1="874.6" y1="2114.76" x2="884.6" y2="2114.76" stroke="#000" stroke-width="1.8"/>
<line x1="874.6" y1="2059.88" x2="884.6" y2="2059.88" stroke="#000" stroke-width="1.8"/>
<line x1="874.6" y1="2004.99" x2="884.6" y2="2004.99" stroke="#000" stroke-width="1.8"/>
<line x1="874.6" y1="1950.1" x2="884.6" y2="1950.1" stroke="#000" stroke-width="1.8"/>
<line x1="884.43" y1="2389.2" x2="884.43" y2="2397.2" stroke="#000" stroke-width="1.8"/>
<line x1="935.1" y1="2389.2" x2="935.1" y2="2397.2" stroke="#000" stroke-width="1.8"/>
<line x1="985.77" y1="2389.2" x2="985.77" y2="2397.2" stroke="#000" stroke-width="1.8"/>
<line x1="1036.45" y1="2389.2" x2="1036.45" y2="2397.2" stroke="#000" stroke-width="1.8"/>
<line x1="1087.12" y1="2389.2" x2="1087.12" y2="2397.2" stroke="#000" stroke-width="1.8"/>
<line x1="1137.8" y1="2389.2" x2="1137.8" y2="2397.2" stroke="#000" stroke-width="1.8"/>
<line x1="1188.47" y1="2389.2" x2="1188.47" y2="2397.2" stroke="#000" stroke-width="1.8"/>
<line x1="1239.15" y1="2389.2" x2="1239.15" y2="2397.2" stroke="#000" stroke-width="1.8"/>
<line x1="1289.83" y1="2389.2" x2="1289.83" y2="2397.2" stroke="#000" stroke-width="1.8"/>
<line x1="1340.5" y1="2389.2" x2="1340.5" y2="2397.2" stroke="#000" stroke-width="1.8"/>
<line x1="1391.17" y1="2389.2" x2="1391.17" y2="2397.2" stroke="#000" stroke-width="1.8"/>
<line x1="1441.85" y1="2389.2" x2="1441.85" y2="2397.2" stroke="#000" stroke-width="1.8"/>
<line x1="1492.53" y1="2389.2" x2="1492.53" y2="2397.2" stroke="#000" stroke-width="1.8"/>
<g transform="translate(808.4,1962.1) scale(0.9112,1) translate(-0.7,0)" font-weight="normal" fill="#1a1718"><text x="0" y="0" font-size="30.3">4E-2</text></g>
<g transform="translate(808.4,2072.3) scale(0.9181,1) translate(-1.15,0)" font-weight="normal" fill="#1a1718"><text x="0" y="0" font-size="30.3">3E-2</text></g>
<g transform="translate(808.4,2182.3) scale(0.9236,1) translate(-1.52,0)" font-weight="normal" fill="#1a1718"><text x="0" y="0" font-size="30.3">2E-2</text></g>
<g transform="translate(810.4,2291.3) scale(0.9024,1) translate(-2.31,0)" font-weight="normal" fill="#1a1718"><text x="0" y="0" font-size="30.3">1E-2</text></g>
<g transform="translate(845.42,2401) scale(1.0000,1) translate(-1.18,0)" fill="#1a1718"><text x="0" y="0" font-size="30.3">0</text></g>
<g transform="translate(932.97,2427.8) scale(1.0000,1) translate(-2.31,0)" fill="#1a1718"><text x="0" y="0" font-size="30.3">1</text></g>
<g transform="translate(1035.1,2427.8) scale(1.0000,1) translate(-1.52,0)" fill="#1a1718"><text x="0" y="0" font-size="30.3">2</text></g>
<g transform="translate(1134.52,2427.8) scale(1.0000,1) translate(-1.15,0)" fill="#1a1718"><text x="0" y="0" font-size="30.3">3</text></g>
<g transform="translate(1235.37,2427.8) scale(1.0000,1) translate(-0.7,0)" fill="#1a1718"><text x="0" y="0" font-size="30.3">4</text></g>
<g transform="translate(1336.82,2427.8) scale(1.0000,1) translate(-1.21,0)" fill="#1a1718"><text x="0" y="0" font-size="30.3">5</text></g>
<g transform="translate(1437.91,2427.8) scale(1.0000,1) translate(-1.54,0)" fill="#1a1718"><text x="0" y="0" font-size="30.3">6</text></g>
<g transform="translate(1058.4,2469.6) scale(0.9535,1) translate(-2.85,0)" font-weight="normal" fill="#1a1718"><text x="0" y="0" font-size="34.7">Particle Size (nm)</text></g>
<g transform="translate(916.5,2016) scale(0.9894,1) translate(-3.08,0)" font-weight="bold" fill="#000"><text x="0" y="0" font-size="46.08">H</text></g>
<rect x="931.6" y="2335.3" width="13.8" height="53.9" fill="#2c93b3" stroke="#000" stroke-width="2.8"/>
<rect x="948" y="2359.6" width="13.7" height="29.6" fill="#cdbf23" stroke="#000" stroke-width="2.8"/>
<rect x="967.3" y="2254.9" width="13.6" height="134.3" fill="#2c93b3" stroke="#000" stroke-width="2.8"/>
<rect x="983.5" y="2309" width="12.5" height="80.2" fill="#cdbf23" stroke="#000" stroke-width="2.8"/>
<rect x="1033.8" y="2199.7" width="13.8" height="189.5" fill="#2c93b3" stroke="#000" stroke-width="2.8"/>
<rect x="1050.2" y="2349.5" width="12.5" height="39.7" fill="#cdbf23" stroke="#000" stroke-width="2.8"/>
<rect x="1266.3" y="1980.1" width="13.4" height="409.1" fill="#2c93b3" stroke="#000" stroke-width="2.8"/>
<rect x="1282.3" y="2312" width="12.5" height="77.2" fill="#cdbf23" stroke="#000" stroke-width="2.8"/>
<rect x="1428.1" y="1991.2" width="13.4" height="398" fill="#2c93b3" stroke="#000" stroke-width="2.8"/>
<rect x="1444.1" y="2041.6" width="12.3" height="347.6" fill="#cdbf23" stroke="#000" stroke-width="2.8"/>
<rect x="907.6" y="2038.9" width="17.4" height="16.8" fill="#2c93b3" stroke="#000" stroke-width="3"/>
<rect x="907.6" y="2063.6" width="17.4" height="17" fill="#cdbf23" stroke="#000" stroke-width="3"/>
<g transform="translate(931,2056.6) scale(1.0184,1) translate(-1.11,0)" font-weight="normal" fill="#1a1718"><text x="0" y="0" font-size="25.5">8333</text></g>
<g transform="translate(931,2081.1) scale(1.0161,1) translate(-1.11,0)" font-weight="normal" fill="#1a1718"><text x="0" y="0" font-size="25.5">8370</text></g>
</svg></body></html>
